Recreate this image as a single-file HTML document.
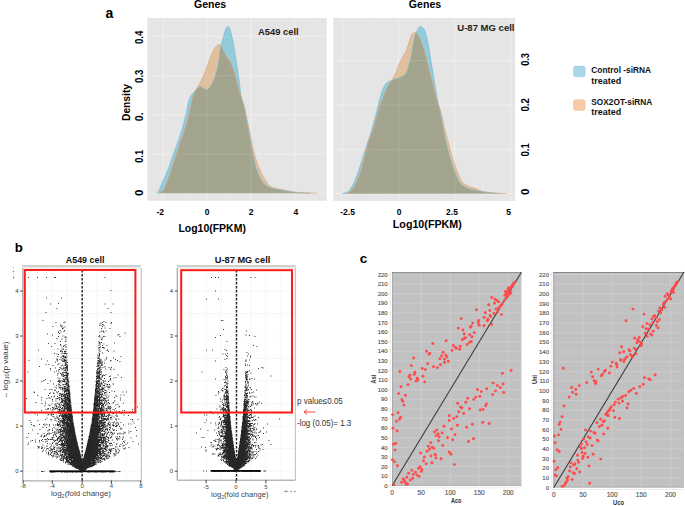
<!DOCTYPE html>
<html><head><meta charset="utf-8"><style>
html,body{margin:0;padding:0;background:#fff;overflow:hidden}
svg{display:block;font-family:"Liberation Sans",sans-serif}
</style></head><body><svg width="685" height="506" viewBox="0 0 685 506"><rect x="147.4" y="18" width="179.2" height="182.8" fill="#e5e5e5"/><line x1="185.1" y1="18" x2="185.1" y2="200.8" stroke="#eaeaea" stroke-width="0.6"/><line x1="228.9" y1="18" x2="228.9" y2="200.8" stroke="#eaeaea" stroke-width="0.6"/><line x1="272.7" y1="18" x2="272.7" y2="200.8" stroke="#eaeaea" stroke-width="0.6"/><line x1="316.5" y1="18" x2="316.5" y2="200.8" stroke="#eaeaea" stroke-width="0.6"/><line x1="147.4" y1="173.6" x2="326.6" y2="173.6" stroke="#eaeaea" stroke-width="0.6"/><line x1="147.4" y1="134.4" x2="326.6" y2="134.4" stroke="#eaeaea" stroke-width="0.6"/><line x1="147.4" y1="95.2" x2="326.6" y2="95.2" stroke="#eaeaea" stroke-width="0.6"/><line x1="147.4" y1="56" x2="326.6" y2="56" stroke="#eaeaea" stroke-width="0.6"/><line x1="163.2" y1="18" x2="163.2" y2="200.8" stroke="#efefef" stroke-width="1"/><line x1="207" y1="18" x2="207" y2="200.8" stroke="#efefef" stroke-width="1"/><line x1="250.8" y1="18" x2="250.8" y2="200.8" stroke="#efefef" stroke-width="1"/><line x1="294.6" y1="18" x2="294.6" y2="200.8" stroke="#efefef" stroke-width="1"/><line x1="147.4" y1="193.2" x2="326.6" y2="193.2" stroke="#efefef" stroke-width="1"/><line x1="147.4" y1="154" x2="326.6" y2="154" stroke="#efefef" stroke-width="1"/><line x1="147.4" y1="114.8" x2="326.6" y2="114.8" stroke="#efefef" stroke-width="1"/><line x1="147.4" y1="75.6" x2="326.6" y2="75.6" stroke="#efefef" stroke-width="1"/><line x1="147.4" y1="36.4" x2="326.6" y2="36.4" stroke="#efefef" stroke-width="1"/><clipPath id="ca"><path d="M158.9 193.2C159.3 193 160.6 192.7 161.5 191.8C162.4 190.9 163.6 189.6 164.6 187.8C165.6 186 166.3 184.2 167.5 181C168.7 177.8 170.3 172.8 171.7 168.6C173.1 164.3 174.6 159.8 176 155.5C177.4 151.2 178.9 146.4 180.1 142.9C181.3 139.4 182.1 137.5 183.2 134.3C184.3 131.1 185.5 127.1 186.6 123.5C187.7 119.9 188.6 116.2 189.5 112.6C190.4 109 191.1 104.8 191.8 101.7C192.6 98.6 193.2 96.3 194 94.1C194.8 91.9 195.7 90.5 196.7 88.7C197.7 86.9 199.1 85 200 83.3C200.9 81.6 201.5 80.6 202.4 78.5C203.3 76.4 204.6 73 205.5 70.6C206.4 68.2 207.1 66.5 207.9 64.3C208.7 62.1 209.4 59.5 210.3 57.2C211.2 55 212.4 52.6 213.4 50.8C214.4 48.9 215.6 47.1 216.6 46.1C217.6 45.1 218.8 44.2 219.7 44.5C220.6 44.8 221.3 46.2 222.1 47.7C222.9 49.2 223.7 51.6 224.5 53.2C225.3 54.8 225.9 55.9 226.8 57.2C227.7 58.5 229.1 59.4 230 61.1C230.9 62.8 231.5 64.8 232.4 67.4C233.3 70 234.6 73.7 235.5 76.9C236.4 80.1 236.9 82.9 237.9 86.4C238.9 89.9 240.4 94.5 241.5 98C242.6 101.5 243.4 103.4 244.5 107.5C245.6 111.6 246.7 117.5 247.8 122.7C248.9 127.9 249.9 133.2 251 138.5C252.1 143.8 253 149 254.5 154.3C256 159.6 258.1 165.7 260 170.1C261.9 174.5 264.1 178.3 265.8 181C267.5 183.7 268.5 184.8 270 186C271.5 187.2 273 187.6 275 188.2C277 188.8 279.7 189 282 189.5C284.3 190 286.3 190.7 289 191.2C291.7 191.7 293.2 192.2 298 192.5C302.8 192.8 314.7 193.1 318 193.2Z"/></clipPath><clipPath id="cau"><path d="M158.9 193.2C159.3 193 160.6 192.7 161.5 191.8C162.4 190.9 163.6 189.6 164.6 187.8C165.6 186 166.3 184.2 167.5 181C168.7 177.8 170.3 172.8 171.7 168.6C173.1 164.3 174.6 159.8 176 155.5C177.4 151.2 178.9 146.4 180.1 142.9C181.3 139.4 182.1 137.5 183.2 134.3C184.3 131.1 185.5 127.1 186.6 123.5C187.7 119.9 188.6 116.2 189.5 112.6C190.4 109 191.1 104.8 191.8 101.7C192.6 98.6 193.2 96.3 194 94.1C194.8 91.9 195.7 90.5 196.7 88.7C197.7 86.9 199.1 85 200 83.3C200.9 81.6 201.5 80.6 202.4 78.5C203.3 76.4 204.6 73 205.5 70.6C206.4 68.2 207.1 66.5 207.9 64.3C208.7 62.1 209.4 59.5 210.3 57.2C211.2 55 212.4 52.6 213.4 50.8C214.4 48.9 215.6 47.1 216.6 46.1C217.6 45.1 218.8 44.2 219.7 44.5C220.6 44.8 221.3 46.2 222.1 47.7C222.9 49.2 223.7 51.6 224.5 53.2C225.3 54.8 225.9 55.9 226.8 57.2C227.7 58.5 229.1 59.4 230 61.1C230.9 62.8 231.5 64.8 232.4 67.4C233.3 70 234.6 73.7 235.5 76.9C236.4 80.1 236.9 82.9 237.9 86.4C238.9 89.9 240.4 94.5 241.5 98C242.6 101.5 243.4 103.4 244.5 107.5C245.6 111.6 246.7 117.5 247.8 122.7C248.9 127.9 249.9 133.2 251 138.5C252.1 143.8 253 149 254.5 154.3C256 159.6 258.1 165.7 260 170.1C261.9 174.5 264.1 178.3 265.8 181C267.5 183.7 268.5 184.8 270 186C271.5 187.2 273 187.6 275 188.2C277 188.8 279.7 189 282 189.5C284.3 190 286.3 190.7 289 191.2C291.7 191.7 293.2 192.2 298 192.5C302.8 192.8 314.7 193.1 318 193.2Z"/><path d="M155.9 193.2C156.2 193 157.3 193.1 158 192.2C158.7 191.3 159.1 190 160.1 187.8C161.1 185.6 162.6 182.2 164 179C165.4 175.8 167 172.5 168.5 168.6C170 164.7 171.5 159.8 173 155.5C174.5 151.2 176.3 146.4 177.5 142.9C178.7 139.4 179.4 137.5 180.4 134.3C181.4 131.1 182.7 127.1 183.7 123.5C184.7 119.9 185.6 116.2 186.4 112.6C187.2 109 187.9 104.4 188.6 101.7C189.3 99 189.9 97.9 190.8 96.3C191.7 94.7 193.1 93.1 194 92C194.9 90.9 195.5 90.5 196.2 89.8C196.9 89.1 197.6 88 198.4 87.6C199.2 87.1 200.2 86.9 201.1 87.1C202 87.3 202.9 88.2 203.8 88.7C204.7 89.2 205.5 90 206.5 89.8C207.5 89.6 208.7 88.9 209.8 87.6C210.9 86.3 212.1 84.2 213 82.2C213.9 80.2 214.8 77.7 215.5 75.5C216.2 73.3 216.8 71.4 217.4 69C218 66.6 218.6 64 219 61.1C219.4 58.2 219.7 54.2 220.1 51.6C220.5 49 220.8 47.4 221.3 45.3C221.8 43.2 222.2 41.4 222.9 38.9C223.6 36.4 224.5 32.6 225.3 30.5C226.1 28.4 226.8 26.5 227.6 26.3C228.4 26.1 229.2 27.4 230 29.5C230.8 31.6 231.6 35.3 232.4 39C233.2 42.7 233.9 46.9 234.7 51.6C235.5 56.3 236.3 62.1 237.1 67.4C237.9 72.7 238.9 78.6 239.5 83.2C240.1 87.8 240.2 91 240.9 95C241.6 99 242.9 102.3 243.9 106.9C244.9 111.5 245.9 117.4 246.9 122.7C247.9 128 248.8 133.2 249.8 138.5C250.8 143.8 251.7 149 252.8 154.3C254 159.6 255 165.5 256.7 170.1C258.3 174.7 260.4 179 262.7 182C265 185 266.9 186.4 270.6 187.9C274.3 189.4 280.4 190 285 190.8C289.6 191.6 293.8 192.2 298 192.6C302.2 193 308 193.1 310 193.2Z"/></clipPath><path d="M155.9 193.2C156.2 193 157.3 193.1 158 192.2C158.7 191.3 159.1 190 160.1 187.8C161.1 185.6 162.6 182.2 164 179C165.4 175.8 167 172.5 168.5 168.6C170 164.7 171.5 159.8 173 155.5C174.5 151.2 176.3 146.4 177.5 142.9C178.7 139.4 179.4 137.5 180.4 134.3C181.4 131.1 182.7 127.1 183.7 123.5C184.7 119.9 185.6 116.2 186.4 112.6C187.2 109 187.9 104.4 188.6 101.7C189.3 99 189.9 97.9 190.8 96.3C191.7 94.7 193.1 93.1 194 92C194.9 90.9 195.5 90.5 196.2 89.8C196.9 89.1 197.6 88 198.4 87.6C199.2 87.1 200.2 86.9 201.1 87.1C202 87.3 202.9 88.2 203.8 88.7C204.7 89.2 205.5 90 206.5 89.8C207.5 89.6 208.7 88.9 209.8 87.6C210.9 86.3 212.1 84.2 213 82.2C213.9 80.2 214.8 77.7 215.5 75.5C216.2 73.3 216.8 71.4 217.4 69C218 66.6 218.6 64 219 61.1C219.4 58.2 219.7 54.2 220.1 51.6C220.5 49 220.8 47.4 221.3 45.3C221.8 43.2 222.2 41.4 222.9 38.9C223.6 36.4 224.5 32.6 225.3 30.5C226.1 28.4 226.8 26.5 227.6 26.3C228.4 26.1 229.2 27.4 230 29.5C230.8 31.6 231.6 35.3 232.4 39C233.2 42.7 233.9 46.9 234.7 51.6C235.5 56.3 236.3 62.1 237.1 67.4C237.9 72.7 238.9 78.6 239.5 83.2C240.1 87.8 240.2 91 240.9 95C241.6 99 242.9 102.3 243.9 106.9C244.9 111.5 245.9 117.4 246.9 122.7C247.9 128 248.8 133.2 249.8 138.5C250.8 143.8 251.7 149 252.8 154.3C254 159.6 255 165.5 256.7 170.1C258.3 174.7 260.4 179 262.7 182C265 185 266.9 186.4 270.6 187.9C274.3 189.4 280.4 190 285 190.8C289.6 191.6 293.8 192.2 298 192.6C302.2 193 308 193.1 310 193.2Z" fill="#92cbdc"/><path d="M158.9 193.2C159.3 193 160.6 192.7 161.5 191.8C162.4 190.9 163.6 189.6 164.6 187.8C165.6 186 166.3 184.2 167.5 181C168.7 177.8 170.3 172.8 171.7 168.6C173.1 164.3 174.6 159.8 176 155.5C177.4 151.2 178.9 146.4 180.1 142.9C181.3 139.4 182.1 137.5 183.2 134.3C184.3 131.1 185.5 127.1 186.6 123.5C187.7 119.9 188.6 116.2 189.5 112.6C190.4 109 191.1 104.8 191.8 101.7C192.6 98.6 193.2 96.3 194 94.1C194.8 91.9 195.7 90.5 196.7 88.7C197.7 86.9 199.1 85 200 83.3C200.9 81.6 201.5 80.6 202.4 78.5C203.3 76.4 204.6 73 205.5 70.6C206.4 68.2 207.1 66.5 207.9 64.3C208.7 62.1 209.4 59.5 210.3 57.2C211.2 55 212.4 52.6 213.4 50.8C214.4 48.9 215.6 47.1 216.6 46.1C217.6 45.1 218.8 44.2 219.7 44.5C220.6 44.8 221.3 46.2 222.1 47.7C222.9 49.2 223.7 51.6 224.5 53.2C225.3 54.8 225.9 55.9 226.8 57.2C227.7 58.5 229.1 59.4 230 61.1C230.9 62.8 231.5 64.8 232.4 67.4C233.3 70 234.6 73.7 235.5 76.9C236.4 80.1 236.9 82.9 237.9 86.4C238.9 89.9 240.4 94.5 241.5 98C242.6 101.5 243.4 103.4 244.5 107.5C245.6 111.6 246.7 117.5 247.8 122.7C248.9 127.9 249.9 133.2 251 138.5C252.1 143.8 253 149 254.5 154.3C256 159.6 258.1 165.7 260 170.1C261.9 174.5 264.1 178.3 265.8 181C267.5 183.7 268.5 184.8 270 186C271.5 187.2 273 187.6 275 188.2C277 188.8 279.7 189 282 189.5C284.3 190 286.3 190.7 289 191.2C291.7 191.7 293.2 192.2 298 192.5C302.8 192.8 314.7 193.1 318 193.2Z" fill="#dfbf9c"/><path d="M155.9 193.2C156.2 193 157.3 193.1 158 192.2C158.7 191.3 159.1 190 160.1 187.8C161.1 185.6 162.6 182.2 164 179C165.4 175.8 167 172.5 168.5 168.6C170 164.7 171.5 159.8 173 155.5C174.5 151.2 176.3 146.4 177.5 142.9C178.7 139.4 179.4 137.5 180.4 134.3C181.4 131.1 182.7 127.1 183.7 123.5C184.7 119.9 185.6 116.2 186.4 112.6C187.2 109 187.9 104.4 188.6 101.7C189.3 99 189.9 97.9 190.8 96.3C191.7 94.7 193.1 93.1 194 92C194.9 90.9 195.5 90.5 196.2 89.8C196.9 89.1 197.6 88 198.4 87.6C199.2 87.1 200.2 86.9 201.1 87.1C202 87.3 202.9 88.2 203.8 88.7C204.7 89.2 205.5 90 206.5 89.8C207.5 89.6 208.7 88.9 209.8 87.6C210.9 86.3 212.1 84.2 213 82.2C213.9 80.2 214.8 77.7 215.5 75.5C216.2 73.3 216.8 71.4 217.4 69C218 66.6 218.6 64 219 61.1C219.4 58.2 219.7 54.2 220.1 51.6C220.5 49 220.8 47.4 221.3 45.3C221.8 43.2 222.2 41.4 222.9 38.9C223.6 36.4 224.5 32.6 225.3 30.5C226.1 28.4 226.8 26.5 227.6 26.3C228.4 26.1 229.2 27.4 230 29.5C230.8 31.6 231.6 35.3 232.4 39C233.2 42.7 233.9 46.9 234.7 51.6C235.5 56.3 236.3 62.1 237.1 67.4C237.9 72.7 238.9 78.6 239.5 83.2C240.1 87.8 240.2 91 240.9 95C241.6 99 242.9 102.3 243.9 106.9C244.9 111.5 245.9 117.4 246.9 122.7C247.9 128 248.8 133.2 249.8 138.5C250.8 143.8 251.7 149 252.8 154.3C254 159.6 255 165.5 256.7 170.1C258.3 174.7 260.4 179 262.7 182C265 185 266.9 186.4 270.6 187.9C274.3 189.4 280.4 190 285 190.8C289.6 191.6 293.8 192.2 298 192.6C302.2 193 308 193.1 310 193.2Z" fill="#a3a48e" clip-path="url(#ca)"/><g clip-path="url(#cau)"><line x1="185.1" y1="18" x2="185.1" y2="200.8" stroke="#fff" stroke-opacity="0.07" stroke-width="0.6"/><line x1="228.9" y1="18" x2="228.9" y2="200.8" stroke="#fff" stroke-opacity="0.07" stroke-width="0.6"/><line x1="272.7" y1="18" x2="272.7" y2="200.8" stroke="#fff" stroke-opacity="0.07" stroke-width="0.6"/><line x1="316.5" y1="18" x2="316.5" y2="200.8" stroke="#fff" stroke-opacity="0.07" stroke-width="0.6"/><line x1="147.4" y1="173.6" x2="326.6" y2="173.6" stroke="#fff" stroke-opacity="0.07" stroke-width="0.6"/><line x1="147.4" y1="134.4" x2="326.6" y2="134.4" stroke="#fff" stroke-opacity="0.07" stroke-width="0.6"/><line x1="147.4" y1="95.2" x2="326.6" y2="95.2" stroke="#fff" stroke-opacity="0.07" stroke-width="0.6"/><line x1="147.4" y1="56" x2="326.6" y2="56" stroke="#fff" stroke-opacity="0.07" stroke-width="0.6"/><line x1="163.2" y1="18" x2="163.2" y2="200.8" stroke="#fff" stroke-opacity="0.12" stroke-width="1"/><line x1="207" y1="18" x2="207" y2="200.8" stroke="#fff" stroke-opacity="0.12" stroke-width="1"/><line x1="250.8" y1="18" x2="250.8" y2="200.8" stroke="#fff" stroke-opacity="0.12" stroke-width="1"/><line x1="294.6" y1="18" x2="294.6" y2="200.8" stroke="#fff" stroke-opacity="0.12" stroke-width="1"/><line x1="147.4" y1="193.2" x2="326.6" y2="193.2" stroke="#fff" stroke-opacity="0.12" stroke-width="1"/><line x1="147.4" y1="154" x2="326.6" y2="154" stroke="#fff" stroke-opacity="0.12" stroke-width="1"/><line x1="147.4" y1="114.8" x2="326.6" y2="114.8" stroke="#fff" stroke-opacity="0.12" stroke-width="1"/><line x1="147.4" y1="75.6" x2="326.6" y2="75.6" stroke="#fff" stroke-opacity="0.12" stroke-width="1"/><line x1="147.4" y1="36.4" x2="326.6" y2="36.4" stroke="#fff" stroke-opacity="0.12" stroke-width="1"/></g><path d="M155.9 193.2C156.2 193 157.3 193.1 158 192.2C158.7 191.3 159.1 190 160.1 187.8C161.1 185.6 162.6 182.2 164 179C165.4 175.8 167 172.5 168.5 168.6C170 164.7 171.5 159.8 173 155.5C174.5 151.2 176.3 146.4 177.5 142.9C178.7 139.4 179.4 137.5 180.4 134.3C181.4 131.1 182.7 127.1 183.7 123.5C184.7 119.9 185.6 116.2 186.4 112.6C187.2 109 187.9 104.4 188.6 101.7C189.3 99 189.9 97.9 190.8 96.3C191.7 94.7 193.1 93.1 194 92C194.9 90.9 195.5 90.5 196.2 89.8C196.9 89.1 197.6 88 198.4 87.6C199.2 87.1 200.2 86.9 201.1 87.1C202 87.3 202.9 88.2 203.8 88.7C204.7 89.2 205.5 90 206.5 89.8C207.5 89.6 208.7 88.9 209.8 87.6C210.9 86.3 212.1 84.2 213 82.2C213.9 80.2 214.8 77.7 215.5 75.5C216.2 73.3 216.8 71.4 217.4 69C218 66.6 218.6 64 219 61.1C219.4 58.2 219.7 54.2 220.1 51.6C220.5 49 220.8 47.4 221.3 45.3C221.8 43.2 222.2 41.4 222.9 38.9C223.6 36.4 224.5 32.6 225.3 30.5C226.1 28.4 226.8 26.5 227.6 26.3C228.4 26.1 229.2 27.4 230 29.5C230.8 31.6 231.6 35.3 232.4 39C233.2 42.7 233.9 46.9 234.7 51.6C235.5 56.3 236.3 62.1 237.1 67.4C237.9 72.7 238.9 78.6 239.5 83.2C240.1 87.8 240.2 91 240.9 95C241.6 99 242.9 102.3 243.9 106.9C244.9 111.5 245.9 117.4 246.9 122.7C247.9 128 248.8 133.2 249.8 138.5C250.8 143.8 251.7 149 252.8 154.3C254 159.6 255 165.5 256.7 170.1C258.3 174.7 260.4 179 262.7 182C265 185 266.9 186.4 270.6 187.9C274.3 189.4 280.4 190 285 190.8C289.6 191.6 293.8 192.2 298 192.6C302.2 193 308 193.1 310 193.2" fill="none" stroke="#6cb6cf" stroke-width="0.8" stroke-opacity="0.8"/><path d="M158.9 193.2C159.3 193 160.6 192.7 161.5 191.8C162.4 190.9 163.6 189.6 164.6 187.8C165.6 186 166.3 184.2 167.5 181C168.7 177.8 170.3 172.8 171.7 168.6C173.1 164.3 174.6 159.8 176 155.5C177.4 151.2 178.9 146.4 180.1 142.9C181.3 139.4 182.1 137.5 183.2 134.3C184.3 131.1 185.5 127.1 186.6 123.5C187.7 119.9 188.6 116.2 189.5 112.6C190.4 109 191.1 104.8 191.8 101.7C192.6 98.6 193.2 96.3 194 94.1C194.8 91.9 195.7 90.5 196.7 88.7C197.7 86.9 199.1 85 200 83.3C200.9 81.6 201.5 80.6 202.4 78.5C203.3 76.4 204.6 73 205.5 70.6C206.4 68.2 207.1 66.5 207.9 64.3C208.7 62.1 209.4 59.5 210.3 57.2C211.2 55 212.4 52.6 213.4 50.8C214.4 48.9 215.6 47.1 216.6 46.1C217.6 45.1 218.8 44.2 219.7 44.5C220.6 44.8 221.3 46.2 222.1 47.7C222.9 49.2 223.7 51.6 224.5 53.2C225.3 54.8 225.9 55.9 226.8 57.2C227.7 58.5 229.1 59.4 230 61.1C230.9 62.8 231.5 64.8 232.4 67.4C233.3 70 234.6 73.7 235.5 76.9C236.4 80.1 236.9 82.9 237.9 86.4C238.9 89.9 240.4 94.5 241.5 98C242.6 101.5 243.4 103.4 244.5 107.5C245.6 111.6 246.7 117.5 247.8 122.7C248.9 127.9 249.9 133.2 251 138.5C252.1 143.8 253 149 254.5 154.3C256 159.6 258.1 165.7 260 170.1C261.9 174.5 264.1 178.3 265.8 181C267.5 183.7 268.5 184.8 270 186C271.5 187.2 273 187.6 275 188.2C277 188.8 279.7 189 282 189.5C284.3 190 286.3 190.7 289 191.2C291.7 191.7 293.2 192.2 298 192.5C302.8 192.8 314.7 193.1 318 193.2" fill="none" stroke="#d9a27a" stroke-width="0.8" stroke-opacity="0.8"/><rect x="333.3" y="18" width="181.9" height="183" fill="#e5e5e5"/><line x1="370.5" y1="18" x2="370.5" y2="201" stroke="#eaeaea" stroke-width="0.6"/><line x1="426.5" y1="18" x2="426.5" y2="201" stroke="#eaeaea" stroke-width="0.6"/><line x1="482.5" y1="18" x2="482.5" y2="201" stroke="#eaeaea" stroke-width="0.6"/><line x1="333.3" y1="171.6" x2="515.2" y2="171.6" stroke="#eaeaea" stroke-width="0.6"/><line x1="333.3" y1="127.2" x2="515.2" y2="127.2" stroke="#eaeaea" stroke-width="0.6"/><line x1="333.3" y1="82.8" x2="515.2" y2="82.8" stroke="#eaeaea" stroke-width="0.6"/><line x1="333.3" y1="38.4" x2="515.2" y2="38.4" stroke="#eaeaea" stroke-width="0.6"/><line x1="342.5" y1="18" x2="342.5" y2="201" stroke="#efefef" stroke-width="1"/><line x1="398.5" y1="18" x2="398.5" y2="201" stroke="#efefef" stroke-width="1"/><line x1="454.5" y1="18" x2="454.5" y2="201" stroke="#efefef" stroke-width="1"/><line x1="510.5" y1="18" x2="510.5" y2="201" stroke="#efefef" stroke-width="1"/><line x1="333.3" y1="193.8" x2="515.2" y2="193.8" stroke="#efefef" stroke-width="1"/><line x1="333.3" y1="149.4" x2="515.2" y2="149.4" stroke="#efefef" stroke-width="1"/><line x1="333.3" y1="105" x2="515.2" y2="105" stroke="#efefef" stroke-width="1"/><line x1="333.3" y1="60.6" x2="515.2" y2="60.6" stroke="#efefef" stroke-width="1"/><clipPath id="cb"><path d="M345.2 193.8C345.8 193.6 347.7 193.2 349 192.4C350.3 191.6 351.4 191.1 352.8 189.1C354.2 187.1 355.6 184.4 357.2 180.4C358.8 176.4 360.8 171.3 362.6 165.2C364.4 159 366.2 149.7 368 143.5C369.8 137.3 371.9 133.4 373.5 128.3C375.1 123.2 376.6 117 377.8 113C379 109 379.8 106.2 380.5 104C381.2 101.8 381.2 102.1 382.1 100C383 97.9 384.5 93.9 385.7 91.2C386.9 88.5 388 86.1 389.2 84C390.4 81.9 391.6 80.8 392.8 78.7C394 76.6 395.3 74 396.3 71.6C397.3 69.2 398 66.9 399 64.5C400 62.1 401.3 59.6 402.5 57.4C403.7 55.2 405.1 53.5 406.1 51.1C407.2 48.7 407.9 45.8 408.8 43.1C409.7 40.4 410.5 36.8 411.4 35.1C412.3 33.4 413.4 32.9 414.4 32.8C415.4 32.6 416.6 33.1 417.6 34.2C418.6 35.3 419.4 37.5 420.3 39.6C421.2 41.7 422.1 44 423 46.7C423.9 49.4 424.7 52.4 425.6 55.6C426.5 58.9 427.4 62.7 428.3 66.2C429.2 69.8 430.1 73.3 431 76.9C431.9 80.5 432.7 83.9 433.6 87.6C434.5 91.3 435.3 95 436.5 99C437.7 103 439.6 107.1 440.9 111.9C442.2 116.7 443.2 122.8 444.4 127.7C445.6 132.6 446.9 136.6 448.2 141.5C449.5 146.4 450.9 152.8 452.3 157.4C453.7 162 454.7 165.2 456.3 169.2C457.9 173.1 459.8 178.3 461.7 181.1C463.6 183.9 465.1 184.5 467.6 185.8C470.1 187.1 474.2 187.9 476.5 188.8C478.8 189.7 479.3 190.4 481.4 191C483.5 191.6 485 192.2 489.3 192.6C493.6 193 504.1 193.4 507.1 193.6Z"/></clipPath><clipPath id="cbu"><path d="M345.2 193.8C345.8 193.6 347.7 193.2 349 192.4C350.3 191.6 351.4 191.1 352.8 189.1C354.2 187.1 355.6 184.4 357.2 180.4C358.8 176.4 360.8 171.3 362.6 165.2C364.4 159 366.2 149.7 368 143.5C369.8 137.3 371.9 133.4 373.5 128.3C375.1 123.2 376.6 117 377.8 113C379 109 379.8 106.2 380.5 104C381.2 101.8 381.2 102.1 382.1 100C383 97.9 384.5 93.9 385.7 91.2C386.9 88.5 388 86.1 389.2 84C390.4 81.9 391.6 80.8 392.8 78.7C394 76.6 395.3 74 396.3 71.6C397.3 69.2 398 66.9 399 64.5C400 62.1 401.3 59.6 402.5 57.4C403.7 55.2 405.1 53.5 406.1 51.1C407.2 48.7 407.9 45.8 408.8 43.1C409.7 40.4 410.5 36.8 411.4 35.1C412.3 33.4 413.4 32.9 414.4 32.8C415.4 32.6 416.6 33.1 417.6 34.2C418.6 35.3 419.4 37.5 420.3 39.6C421.2 41.7 422.1 44 423 46.7C423.9 49.4 424.7 52.4 425.6 55.6C426.5 58.9 427.4 62.7 428.3 66.2C429.2 69.8 430.1 73.3 431 76.9C431.9 80.5 432.7 83.9 433.6 87.6C434.5 91.3 435.3 95 436.5 99C437.7 103 439.6 107.1 440.9 111.9C442.2 116.7 443.2 122.8 444.4 127.7C445.6 132.6 446.9 136.6 448.2 141.5C449.5 146.4 450.9 152.8 452.3 157.4C453.7 162 454.7 165.2 456.3 169.2C457.9 173.1 459.8 178.3 461.7 181.1C463.6 183.9 465.1 184.5 467.6 185.8C470.1 187.1 474.2 187.9 476.5 188.8C478.8 189.7 479.3 190.4 481.4 191C483.5 191.6 485 192.2 489.3 192.6C493.6 193 504.1 193.4 507.1 193.6Z"/><path d="M342 193.8C342.7 193.6 344.7 193.1 346 192.5C347.3 191.9 348.1 192.2 349.6 190.2C351.1 188.2 353.2 184.6 355 180.4C356.8 176.2 358.6 170.6 360.4 165.2C362.2 159.8 364.3 152.9 365.9 147.8C367.5 142.7 368.8 139.5 370.2 134.8C371.6 130.1 373.4 124.1 374.6 119.6C375.8 115.1 376.7 111.3 377.5 108C378.3 104.7 378.7 102.8 379.5 100C380.3 97.2 381.1 93.9 382.1 91.2C383.1 88.5 384.5 85.6 385.7 84C386.9 82.4 388.2 82 389.2 81.4C390.2 80.8 390.7 81 391.9 80.5C393.1 80 394.7 79.3 396.3 78.7C397.9 78.1 400 77.8 401.6 76.9C403.2 76 404.9 75.2 406.1 73.4C407.3 71.6 407.9 69.2 408.8 66.2C409.7 63.2 410.7 59.2 411.4 55.6C412.1 52 412.5 48.5 413.2 44.9C413.9 41.3 414.9 36.5 415.5 34.2C416.1 31.9 416.4 32.2 416.9 31.2C417.4 30.2 417.9 28.7 418.5 28C419.1 27.3 419.9 26.7 420.8 26.8C421.7 26.9 422.9 27.4 423.9 28.9C424.8 30.4 425.8 33.3 426.5 36C427.2 38.7 427.7 41.6 428.3 44.9C428.9 48.2 429.5 52 430.1 55.6C430.7 59.2 431.2 62.7 431.8 66.2C432.4 69.8 433 73.3 433.6 76.9C434.2 80.5 434.8 83.9 435.4 87.6C436 91.3 436.6 95 437.3 99C438.1 103 439 107.1 439.9 111.9C440.8 116.7 441.9 122.8 442.9 127.7C443.9 132.6 444.6 136.6 445.8 141.5C447 146.4 448.5 152.8 449.8 157.4C451.1 162 452.2 165.2 453.7 169.2C455.2 173.1 456.9 178.1 458.7 181.1C460.5 184.1 462.1 185.5 464.6 187C467.1 188.5 470.4 189.2 473.5 190C476.6 190.8 479.8 191.4 483.4 192C487 192.6 492.5 193 495.3 193.3C498.1 193.6 499.2 193.7 500 193.8Z"/></clipPath><path d="M342 193.8C342.7 193.6 344.7 193.1 346 192.5C347.3 191.9 348.1 192.2 349.6 190.2C351.1 188.2 353.2 184.6 355 180.4C356.8 176.2 358.6 170.6 360.4 165.2C362.2 159.8 364.3 152.9 365.9 147.8C367.5 142.7 368.8 139.5 370.2 134.8C371.6 130.1 373.4 124.1 374.6 119.6C375.8 115.1 376.7 111.3 377.5 108C378.3 104.7 378.7 102.8 379.5 100C380.3 97.2 381.1 93.9 382.1 91.2C383.1 88.5 384.5 85.6 385.7 84C386.9 82.4 388.2 82 389.2 81.4C390.2 80.8 390.7 81 391.9 80.5C393.1 80 394.7 79.3 396.3 78.7C397.9 78.1 400 77.8 401.6 76.9C403.2 76 404.9 75.2 406.1 73.4C407.3 71.6 407.9 69.2 408.8 66.2C409.7 63.2 410.7 59.2 411.4 55.6C412.1 52 412.5 48.5 413.2 44.9C413.9 41.3 414.9 36.5 415.5 34.2C416.1 31.9 416.4 32.2 416.9 31.2C417.4 30.2 417.9 28.7 418.5 28C419.1 27.3 419.9 26.7 420.8 26.8C421.7 26.9 422.9 27.4 423.9 28.9C424.8 30.4 425.8 33.3 426.5 36C427.2 38.7 427.7 41.6 428.3 44.9C428.9 48.2 429.5 52 430.1 55.6C430.7 59.2 431.2 62.7 431.8 66.2C432.4 69.8 433 73.3 433.6 76.9C434.2 80.5 434.8 83.9 435.4 87.6C436 91.3 436.6 95 437.3 99C438.1 103 439 107.1 439.9 111.9C440.8 116.7 441.9 122.8 442.9 127.7C443.9 132.6 444.6 136.6 445.8 141.5C447 146.4 448.5 152.8 449.8 157.4C451.1 162 452.2 165.2 453.7 169.2C455.2 173.1 456.9 178.1 458.7 181.1C460.5 184.1 462.1 185.5 464.6 187C467.1 188.5 470.4 189.2 473.5 190C476.6 190.8 479.8 191.4 483.4 192C487 192.6 492.5 193 495.3 193.3C498.1 193.6 499.2 193.7 500 193.8Z" fill="#92cbdc"/><path d="M345.2 193.8C345.8 193.6 347.7 193.2 349 192.4C350.3 191.6 351.4 191.1 352.8 189.1C354.2 187.1 355.6 184.4 357.2 180.4C358.8 176.4 360.8 171.3 362.6 165.2C364.4 159 366.2 149.7 368 143.5C369.8 137.3 371.9 133.4 373.5 128.3C375.1 123.2 376.6 117 377.8 113C379 109 379.8 106.2 380.5 104C381.2 101.8 381.2 102.1 382.1 100C383 97.9 384.5 93.9 385.7 91.2C386.9 88.5 388 86.1 389.2 84C390.4 81.9 391.6 80.8 392.8 78.7C394 76.6 395.3 74 396.3 71.6C397.3 69.2 398 66.9 399 64.5C400 62.1 401.3 59.6 402.5 57.4C403.7 55.2 405.1 53.5 406.1 51.1C407.2 48.7 407.9 45.8 408.8 43.1C409.7 40.4 410.5 36.8 411.4 35.1C412.3 33.4 413.4 32.9 414.4 32.8C415.4 32.6 416.6 33.1 417.6 34.2C418.6 35.3 419.4 37.5 420.3 39.6C421.2 41.7 422.1 44 423 46.7C423.9 49.4 424.7 52.4 425.6 55.6C426.5 58.9 427.4 62.7 428.3 66.2C429.2 69.8 430.1 73.3 431 76.9C431.9 80.5 432.7 83.9 433.6 87.6C434.5 91.3 435.3 95 436.5 99C437.7 103 439.6 107.1 440.9 111.9C442.2 116.7 443.2 122.8 444.4 127.7C445.6 132.6 446.9 136.6 448.2 141.5C449.5 146.4 450.9 152.8 452.3 157.4C453.7 162 454.7 165.2 456.3 169.2C457.9 173.1 459.8 178.3 461.7 181.1C463.6 183.9 465.1 184.5 467.6 185.8C470.1 187.1 474.2 187.9 476.5 188.8C478.8 189.7 479.3 190.4 481.4 191C483.5 191.6 485 192.2 489.3 192.6C493.6 193 504.1 193.4 507.1 193.6Z" fill="#dfbf9c"/><path d="M342 193.8C342.7 193.6 344.7 193.1 346 192.5C347.3 191.9 348.1 192.2 349.6 190.2C351.1 188.2 353.2 184.6 355 180.4C356.8 176.2 358.6 170.6 360.4 165.2C362.2 159.8 364.3 152.9 365.9 147.8C367.5 142.7 368.8 139.5 370.2 134.8C371.6 130.1 373.4 124.1 374.6 119.6C375.8 115.1 376.7 111.3 377.5 108C378.3 104.7 378.7 102.8 379.5 100C380.3 97.2 381.1 93.9 382.1 91.2C383.1 88.5 384.5 85.6 385.7 84C386.9 82.4 388.2 82 389.2 81.4C390.2 80.8 390.7 81 391.9 80.5C393.1 80 394.7 79.3 396.3 78.7C397.9 78.1 400 77.8 401.6 76.9C403.2 76 404.9 75.2 406.1 73.4C407.3 71.6 407.9 69.2 408.8 66.2C409.7 63.2 410.7 59.2 411.4 55.6C412.1 52 412.5 48.5 413.2 44.9C413.9 41.3 414.9 36.5 415.5 34.2C416.1 31.9 416.4 32.2 416.9 31.2C417.4 30.2 417.9 28.7 418.5 28C419.1 27.3 419.9 26.7 420.8 26.8C421.7 26.9 422.9 27.4 423.9 28.9C424.8 30.4 425.8 33.3 426.5 36C427.2 38.7 427.7 41.6 428.3 44.9C428.9 48.2 429.5 52 430.1 55.6C430.7 59.2 431.2 62.7 431.8 66.2C432.4 69.8 433 73.3 433.6 76.9C434.2 80.5 434.8 83.9 435.4 87.6C436 91.3 436.6 95 437.3 99C438.1 103 439 107.1 439.9 111.9C440.8 116.7 441.9 122.8 442.9 127.7C443.9 132.6 444.6 136.6 445.8 141.5C447 146.4 448.5 152.8 449.8 157.4C451.1 162 452.2 165.2 453.7 169.2C455.2 173.1 456.9 178.1 458.7 181.1C460.5 184.1 462.1 185.5 464.6 187C467.1 188.5 470.4 189.2 473.5 190C476.6 190.8 479.8 191.4 483.4 192C487 192.6 492.5 193 495.3 193.3C498.1 193.6 499.2 193.7 500 193.8Z" fill="#a3a48e" clip-path="url(#cb)"/><g clip-path="url(#cbu)"><line x1="370.5" y1="18" x2="370.5" y2="201" stroke="#fff" stroke-opacity="0.07" stroke-width="0.6"/><line x1="426.5" y1="18" x2="426.5" y2="201" stroke="#fff" stroke-opacity="0.07" stroke-width="0.6"/><line x1="482.5" y1="18" x2="482.5" y2="201" stroke="#fff" stroke-opacity="0.07" stroke-width="0.6"/><line x1="333.3" y1="171.6" x2="515.2" y2="171.6" stroke="#fff" stroke-opacity="0.07" stroke-width="0.6"/><line x1="333.3" y1="127.2" x2="515.2" y2="127.2" stroke="#fff" stroke-opacity="0.07" stroke-width="0.6"/><line x1="333.3" y1="82.8" x2="515.2" y2="82.8" stroke="#fff" stroke-opacity="0.07" stroke-width="0.6"/><line x1="333.3" y1="38.4" x2="515.2" y2="38.4" stroke="#fff" stroke-opacity="0.07" stroke-width="0.6"/><line x1="342.5" y1="18" x2="342.5" y2="201" stroke="#fff" stroke-opacity="0.12" stroke-width="1"/><line x1="398.5" y1="18" x2="398.5" y2="201" stroke="#fff" stroke-opacity="0.12" stroke-width="1"/><line x1="454.5" y1="18" x2="454.5" y2="201" stroke="#fff" stroke-opacity="0.12" stroke-width="1"/><line x1="510.5" y1="18" x2="510.5" y2="201" stroke="#fff" stroke-opacity="0.12" stroke-width="1"/><line x1="333.3" y1="193.8" x2="515.2" y2="193.8" stroke="#fff" stroke-opacity="0.12" stroke-width="1"/><line x1="333.3" y1="149.4" x2="515.2" y2="149.4" stroke="#fff" stroke-opacity="0.12" stroke-width="1"/><line x1="333.3" y1="105" x2="515.2" y2="105" stroke="#fff" stroke-opacity="0.12" stroke-width="1"/><line x1="333.3" y1="60.6" x2="515.2" y2="60.6" stroke="#fff" stroke-opacity="0.12" stroke-width="1"/></g><path d="M342 193.8C342.7 193.6 344.7 193.1 346 192.5C347.3 191.9 348.1 192.2 349.6 190.2C351.1 188.2 353.2 184.6 355 180.4C356.8 176.2 358.6 170.6 360.4 165.2C362.2 159.8 364.3 152.9 365.9 147.8C367.5 142.7 368.8 139.5 370.2 134.8C371.6 130.1 373.4 124.1 374.6 119.6C375.8 115.1 376.7 111.3 377.5 108C378.3 104.7 378.7 102.8 379.5 100C380.3 97.2 381.1 93.9 382.1 91.2C383.1 88.5 384.5 85.6 385.7 84C386.9 82.4 388.2 82 389.2 81.4C390.2 80.8 390.7 81 391.9 80.5C393.1 80 394.7 79.3 396.3 78.7C397.9 78.1 400 77.8 401.6 76.9C403.2 76 404.9 75.2 406.1 73.4C407.3 71.6 407.9 69.2 408.8 66.2C409.7 63.2 410.7 59.2 411.4 55.6C412.1 52 412.5 48.5 413.2 44.9C413.9 41.3 414.9 36.5 415.5 34.2C416.1 31.9 416.4 32.2 416.9 31.2C417.4 30.2 417.9 28.7 418.5 28C419.1 27.3 419.9 26.7 420.8 26.8C421.7 26.9 422.9 27.4 423.9 28.9C424.8 30.4 425.8 33.3 426.5 36C427.2 38.7 427.7 41.6 428.3 44.9C428.9 48.2 429.5 52 430.1 55.6C430.7 59.2 431.2 62.7 431.8 66.2C432.4 69.8 433 73.3 433.6 76.9C434.2 80.5 434.8 83.9 435.4 87.6C436 91.3 436.6 95 437.3 99C438.1 103 439 107.1 439.9 111.9C440.8 116.7 441.9 122.8 442.9 127.7C443.9 132.6 444.6 136.6 445.8 141.5C447 146.4 448.5 152.8 449.8 157.4C451.1 162 452.2 165.2 453.7 169.2C455.2 173.1 456.9 178.1 458.7 181.1C460.5 184.1 462.1 185.5 464.6 187C467.1 188.5 470.4 189.2 473.5 190C476.6 190.8 479.8 191.4 483.4 192C487 192.6 492.5 193 495.3 193.3C498.1 193.6 499.2 193.7 500 193.8" fill="none" stroke="#6cb6cf" stroke-width="0.8" stroke-opacity="0.8"/><path d="M345.2 193.8C345.8 193.6 347.7 193.2 349 192.4C350.3 191.6 351.4 191.1 352.8 189.1C354.2 187.1 355.6 184.4 357.2 180.4C358.8 176.4 360.8 171.3 362.6 165.2C364.4 159 366.2 149.7 368 143.5C369.8 137.3 371.9 133.4 373.5 128.3C375.1 123.2 376.6 117 377.8 113C379 109 379.8 106.2 380.5 104C381.2 101.8 381.2 102.1 382.1 100C383 97.9 384.5 93.9 385.7 91.2C386.9 88.5 388 86.1 389.2 84C390.4 81.9 391.6 80.8 392.8 78.7C394 76.6 395.3 74 396.3 71.6C397.3 69.2 398 66.9 399 64.5C400 62.1 401.3 59.6 402.5 57.4C403.7 55.2 405.1 53.5 406.1 51.1C407.2 48.7 407.9 45.8 408.8 43.1C409.7 40.4 410.5 36.8 411.4 35.1C412.3 33.4 413.4 32.9 414.4 32.8C415.4 32.6 416.6 33.1 417.6 34.2C418.6 35.3 419.4 37.5 420.3 39.6C421.2 41.7 422.1 44 423 46.7C423.9 49.4 424.7 52.4 425.6 55.6C426.5 58.9 427.4 62.7 428.3 66.2C429.2 69.8 430.1 73.3 431 76.9C431.9 80.5 432.7 83.9 433.6 87.6C434.5 91.3 435.3 95 436.5 99C437.7 103 439.6 107.1 440.9 111.9C442.2 116.7 443.2 122.8 444.4 127.7C445.6 132.6 446.9 136.6 448.2 141.5C449.5 146.4 450.9 152.8 452.3 157.4C453.7 162 454.7 165.2 456.3 169.2C457.9 173.1 459.8 178.3 461.7 181.1C463.6 183.9 465.1 184.5 467.6 185.8C470.1 187.1 474.2 187.9 476.5 188.8C478.8 189.7 479.3 190.4 481.4 191C483.5 191.6 485 192.2 489.3 192.6C493.6 193 504.1 193.4 507.1 193.6" fill="none" stroke="#d9a27a" stroke-width="0.8" stroke-opacity="0.8"/><g font-family='"Liberation Sans", sans-serif'><text x="105.5" y="17.7" font-size="14" fill="#000" font-weight="bold">a</text><text x="194" y="8" font-size="10" fill="#000" textLength="32.2" lengthAdjust="spacingAndGlyphs" font-weight="bold">Genes</text><text x="408.8" y="8" font-size="10" fill="#000" textLength="32.4" lengthAdjust="spacingAndGlyphs" font-weight="bold">Genes</text><text x="258.1" y="35.3" font-size="9.2" fill="#222" textLength="40.5" lengthAdjust="spacingAndGlyphs" font-weight="bold">A549 cell</text><text x="457.3" y="30.7" font-size="9" fill="#222" textLength="57.2" lengthAdjust="spacingAndGlyphs" font-weight="bold">U-87 MG cell</text><text x="143.4" y="37.4" font-size="10" fill="#000" textLength="13.4" lengthAdjust="spacingAndGlyphs" transform="rotate(-90 143.4 37.4)" text-anchor="middle" font-weight="bold">0.4</text><text x="143.4" y="76.2" font-size="10" fill="#000" textLength="13.4" lengthAdjust="spacingAndGlyphs" transform="rotate(-90 143.4 76.2)" text-anchor="middle" font-weight="bold">0.3</text><text x="143.4" y="116.8" font-size="10" fill="#000" textLength="8.8" lengthAdjust="spacingAndGlyphs" transform="rotate(-90 143.4 116.8)" text-anchor="middle" font-weight="bold">0.</text><text x="143.4" y="156.4" font-size="10" fill="#000" textLength="12.8" lengthAdjust="spacingAndGlyphs" transform="rotate(-90 143.4 156.4)" text-anchor="middle" font-weight="bold">0.1</text><text x="143.4" y="192.9" font-size="10" fill="#000" textLength="6.4" lengthAdjust="spacingAndGlyphs" transform="rotate(-90 143.4 192.9)" text-anchor="middle" font-weight="bold">0</text><text x="130" y="102.5" font-size="10" fill="#000" textLength="37" lengthAdjust="spacingAndGlyphs" transform="rotate(-90 130 102.5)" text-anchor="middle" font-weight="bold">Density</text><text x="160.2" y="214.8" font-size="8.5" fill="#000" text-anchor="middle" font-weight="bold">-2</text><text x="207.1" y="214.8" font-size="8.5" fill="#000" text-anchor="middle" font-weight="bold">0</text><text x="251" y="214.8" font-size="8.5" fill="#000" text-anchor="middle" font-weight="bold">2</text><text x="295.8" y="214.8" font-size="8.5" fill="#000" text-anchor="middle" font-weight="bold">4</text><text x="178.4" y="232.3" font-size="10.5" fill="#000" textLength="67.5" lengthAdjust="spacingAndGlyphs" font-weight="bold">Log10(FPKM)</text><text x="528.6" y="59.4" font-size="10" fill="#000" textLength="12.8" lengthAdjust="spacingAndGlyphs" transform="rotate(-90 528.6 59.4)" text-anchor="middle" font-weight="bold">0.3</text><text x="528.6" y="104.8" font-size="10" fill="#000" textLength="13.4" lengthAdjust="spacingAndGlyphs" transform="rotate(-90 528.6 104.8)" text-anchor="middle" font-weight="bold">0.2</text><text x="528.6" y="149.9" font-size="10" fill="#000" textLength="13.4" lengthAdjust="spacingAndGlyphs" transform="rotate(-90 528.6 149.9)" text-anchor="middle" font-weight="bold">0.1</text><text x="528.6" y="191.8" font-size="10" fill="#000" textLength="6.4" lengthAdjust="spacingAndGlyphs" transform="rotate(-90 528.6 191.8)" text-anchor="middle" font-weight="bold">0</text><text x="347.6" y="214.8" font-size="8.5" fill="#000" text-anchor="middle" font-weight="bold">-2.5</text><text x="399" y="214.8" font-size="8.5" fill="#000" text-anchor="middle" font-weight="bold">0</text><text x="452" y="214.8" font-size="8.5" fill="#000" text-anchor="middle" font-weight="bold">2.5</text><text x="508.6" y="214.8" font-size="8.5" fill="#000" text-anchor="middle" font-weight="bold">5</text><text x="392.8" y="227.5" font-size="10.5" fill="#000" textLength="69" lengthAdjust="spacingAndGlyphs" font-weight="bold">Log10(FPKM)</text><rect x="573.5" y="66.1" width="11.6" height="10.7" rx="2" fill="#a9d6e6" stroke="#9ccfe2" stroke-width="0.5"/><rect x="573.5" y="99.7" width="11.6" height="10.7" rx="2" fill="#f8c9a8" stroke="#f3bc98" stroke-width="0.5"/><text x="591.3" y="73.3" font-size="8.5" fill="#111" textLength="59.8" lengthAdjust="spacingAndGlyphs" font-weight="bold">Control -siRNA</text><text x="591.3" y="83.5" font-size="8.5" fill="#111" textLength="29.9" lengthAdjust="spacingAndGlyphs" font-weight="bold">treated</text><text x="591.3" y="105.1" font-size="8.5" fill="#111" textLength="60.9" lengthAdjust="spacingAndGlyphs" font-weight="bold">SOX2OT-siRNA</text><text x="591.3" y="115.3" font-size="8.5" fill="#111" textLength="29.9" lengthAdjust="spacingAndGlyphs" font-weight="bold">treated</text></g><rect x="22.2" y="265" width="118.6" height="2" fill="#cfcfcf"/><line x1="22.2" y1="268" x2="140.8" y2="268" stroke="#d8d8d8" stroke-width="1"/><line x1="22.8" y1="471.2" x2="141.3" y2="471.2" stroke="#f5f5ec" stroke-width="0.8"/><line x1="22.8" y1="426.1" x2="141.3" y2="426.1" stroke="#f5f5ec" stroke-width="0.8"/><line x1="22.8" y1="381" x2="141.3" y2="381" stroke="#f5f5ec" stroke-width="0.8"/><line x1="22.8" y1="336" x2="141.3" y2="336" stroke="#f5f5ec" stroke-width="0.8"/><line x1="22.8" y1="291" x2="141.3" y2="291" stroke="#f5f5ec" stroke-width="0.8"/><line x1="22.8" y1="448.6" x2="141.3" y2="448.6" stroke="#f5f5ec" stroke-width="0.8"/><line x1="22.8" y1="403.5" x2="141.3" y2="403.5" stroke="#f5f5ec" stroke-width="0.8"/><line x1="22.8" y1="358.5" x2="141.3" y2="358.5" stroke="#f5f5ec" stroke-width="0.8"/><line x1="22.8" y1="313.5" x2="141.3" y2="313.5" stroke="#f5f5ec" stroke-width="0.8"/><line x1="23.2" y1="268" x2="23.2" y2="480.9" stroke="#f5f5ec" stroke-width="0.8"/><line x1="52.3" y1="268" x2="52.3" y2="480.9" stroke="#f5f5ec" stroke-width="0.8"/><line x1="82.2" y1="268" x2="82.2" y2="480.9" stroke="#f5f5ec" stroke-width="0.8"/><line x1="111.4" y1="268" x2="111.4" y2="480.9" stroke="#f5f5ec" stroke-width="0.8"/><line x1="140.8" y1="268" x2="140.8" y2="480.9" stroke="#f5f5ec" stroke-width="0.8"/><line x1="37.7" y1="268" x2="37.7" y2="480.9" stroke="#f5f5ec" stroke-width="0.8"/><line x1="67.2" y1="268" x2="67.2" y2="480.9" stroke="#f5f5ec" stroke-width="0.8"/><line x1="96.8" y1="268" x2="96.8" y2="480.9" stroke="#f5f5ec" stroke-width="0.8"/><line x1="126.1" y1="268" x2="126.1" y2="480.9" stroke="#f5f5ec" stroke-width="0.8"/><line x1="22.8" y1="268" x2="22.8" y2="480.9" stroke="#aaa" stroke-width="1.3"/><line x1="141.3" y1="268" x2="141.3" y2="480.9" stroke="#bbb" stroke-width="1"/><line x1="22.8" y1="480.9" x2="141.3" y2="480.9" stroke="#999" stroke-width="1"/><rect x="176.9" y="265" width="118.9" height="2" fill="#cfcfcf"/><line x1="176.9" y1="268" x2="295.8" y2="268" stroke="#d8d8d8" stroke-width="1"/><line x1="177.3" y1="471" x2="295.3" y2="471" stroke="#f5f5ec" stroke-width="0.8"/><line x1="177.3" y1="426.1" x2="295.3" y2="426.1" stroke="#f5f5ec" stroke-width="0.8"/><line x1="177.3" y1="381" x2="295.3" y2="381" stroke="#f5f5ec" stroke-width="0.8"/><line x1="177.3" y1="336" x2="295.3" y2="336" stroke="#f5f5ec" stroke-width="0.8"/><line x1="177.3" y1="291" x2="295.3" y2="291" stroke="#f5f5ec" stroke-width="0.8"/><line x1="177.3" y1="448.6" x2="295.3" y2="448.6" stroke="#f5f5ec" stroke-width="0.8"/><line x1="177.3" y1="403.5" x2="295.3" y2="403.5" stroke="#f5f5ec" stroke-width="0.8"/><line x1="177.3" y1="358.5" x2="295.3" y2="358.5" stroke="#f5f5ec" stroke-width="0.8"/><line x1="177.3" y1="313.5" x2="295.3" y2="313.5" stroke="#f5f5ec" stroke-width="0.8"/><line x1="206.1" y1="268" x2="206.1" y2="480.2" stroke="#f5f5ec" stroke-width="0.8"/><line x1="236" y1="268" x2="236" y2="480.2" stroke="#f5f5ec" stroke-width="0.8"/><line x1="265.9" y1="268" x2="265.9" y2="480.2" stroke="#f5f5ec" stroke-width="0.8"/><line x1="191" y1="268" x2="191" y2="480.2" stroke="#f5f5ec" stroke-width="0.8"/><line x1="221" y1="268" x2="221" y2="480.2" stroke="#f5f5ec" stroke-width="0.8"/><line x1="251" y1="268" x2="251" y2="480.2" stroke="#f5f5ec" stroke-width="0.8"/><line x1="281" y1="268" x2="281" y2="480.2" stroke="#f5f5ec" stroke-width="0.8"/><line x1="177.3" y1="268" x2="177.3" y2="480.2" stroke="#aaa" stroke-width="1.3"/><line x1="295.3" y1="268" x2="295.3" y2="480.2" stroke="#bbb" stroke-width="1"/><line x1="177.3" y1="480.2" x2="295.3" y2="480.2" stroke="#999" stroke-width="1"/><line x1="49.5" y1="471.4" x2="114.2" y2="471.4" stroke="#444" stroke-width="1.6"/><line x1="210.7" y1="470.9" x2="260.1" y2="470.9" stroke="#444" stroke-width="1.6"/><path d="M28 277.5h.9M37 277.5h.9M46 277.5h.9M54 277.5h.9M55 277.5h.9M104.5 277.5h.9M110.5 290.5h.9M46 298h.9M61 298h.9M58 303.5h.9M50 304h.9M104.5 304h.9M112.5 304h.9M56.5 308.5h.9M107.5 308.5h.9M45.5 312.5h.9M110.5 312.5h.9M42.5 320.5h.9M103.5 321.5h.9M64.5 322h.9M55.5 322.5h.9M63.5 322.5h.9M102 322.5h.9M105.5 322.5h.9M111 322.5h.9M100.5 323h.9M110.5 323.5h.9M99.5 324h.9M102.5 324.5h.9M60 325h.9M101.5 325h.9M99.5 325.5h.9M103.5 325.5h.9M60.5 326h.9M61.5 326h.9M52.5 326.5h.9M102 326.5h.9M61.5 327h.9M64.5 327h.9M63 328h.9M104.5 328h.9M62 328.5h.9M101 328.5h.9M109.5 328.5h.9M62 329h.9M59.5 330.5h.9M64 330.5h.9M101 331h.9M102.5 331h.9M105.5 331h.9M63.5 331.5h.9M103 331.5h.9M58 332h.9M60.5 332h.9M99.5 332h.9M58 332.5h.9M103.5 332.5h.9M124.5 333h.9M59 333.5h.9M47 334h.9M118.5 334.5h.9M52 335h.9M117.5 335h.9M99 335.5h.9M62.5 336h.9M58 336.5h.9M98.5 336.5h.9M103 336.5h.9M104.5 336.5h.9M119.5 336.5h.9M64.5 337h.9M65.5 337h.9M99.5 337h.9M65.5 337.5h.9M101.5 338h.9M102 338h.9M56.5 338.5h.9M61.5 339h.9M65.5 339h.9M101 339.5h.9M101.5 339.5h.9M65.5 341h.9M60 341.5h.9M65 341.5h.9M98.5 341.5h.9M99.5 342.5h.9M101 342.5h.9M98.5 343h.9M99.5 343h.9M114 343h.9M48 343.5h.9M54.5 343.5h.9M99.5 343.5h.9M99.5 344h.9M103.5 344h.9M60 344.5h.9M65.5 344.5h.9M99.5 344.5h.9M60.5 345.5h.9M64.5 345.5h.9M98.5 345.5h.9M102 345.5h.9M106.5 345.5h.9M63.5 346h.9M51 346.5h.9M63 346.5h.9M65.5 347h.9M66 347h.9M100 347h.9M98.5 347.5h.9M99 347.5h.9M102 347.5h.9M103 347.5h.9M61.5 348h.9M103.5 348h.9M104 348h.9M98.5 348.5h.9M57.5 349h.9M63 349h.9M62.5 349.5h.9M65.5 349.5h.9M38 350h.9M98.5 350h.9M99.5 350h.9M107 350h.9M60.5 350.5h.9M106.5 350.5h.9M61 351h.9M64.5 351h.9M113.5 351h.9M60 351.5h.9M62 351.5h.9M64 351.5h.9M64.5 351.5h.9M65.5 351.5h.9M99.5 351.5h.9M108 351.5h.9M62 352h.9M64 352h.9M65.5 353h.9M98.5 353h.9M102 353h.9M54 353.5h.9M61.5 353.5h.9M63.5 353.5h.9M64 353.5h.9M64.5 353.5h.9M65 353.5h.9M66.5 353.5h.9M99 353.5h.9M56.5 354h.9M58 354.5h.9M99 354.5h.9M66 355h.9M97.5 355h.9M63.5 355.5h.9M99 355.5h.9M62 356h.9M63 356h.9M97.5 356h.9M57.5 356.5h.9M61.5 356.5h.9M63.5 356.5h.9M65 356.5h.9M120.5 356.5h.9M63 357h.9M66.5 357h.9M98.5 357h.9M99 357h.9M60.5 357.5h.9M64 357.5h.9M65 357.5h.9M65.5 357.5h.9M106 357.5h.9M65.5 358h.9M97.5 358h.9M98 358h.9M113 358h.9M62 358.5h.9M97.5 358.5h.9M98.5 358.5h.9M41 359h.9M56.5 359h.9M62.5 359h.9M63.5 359h.9M99 359h.9M106 359h.9M57 359.5h.9M59.5 359.5h.9M64 359.5h.9M100.5 359.5h.9M115 359.5h.9M56.5 360h.9M61 360h.9M64 360h.9M65 360h.9M66.5 360h.9M99.5 360h.9M104.5 360h.9M28.5 360.5h.9M62.5 360.5h.9M64.5 360.5h.9M65 360.5h.9M65.5 360.5h.9M97.5 360.5h.9M98 360.5h.9M100.5 360.5h.9M110.5 360.5h.9M117 360.5h.9M47 361h.9M57 361h.9M62 361h.9M64 361h.9M97.5 361h.9M98.5 361h.9M99 361h.9M110 361h.9M63 361.5h.9M63.5 361.5h.9M99.5 361.5h.9M101.5 361.5h.9M119.5 361.5h.9M55 362h.9M64.5 362h.9M65.5 362h.9M66.5 362h.9M98.5 362h.9M100 362h.9M65.5 362.5h.9M67 362.5h.9M97.5 362.5h.9M101.5 362.5h.9M98.5 363h.9M99.5 363h.9M100 363h.9M102 363h.9M104 363h.9M58.5 363.5h.9M65 363.5h.9M97 363.5h.9M97.5 363.5h.9M99.5 363.5h.9M66 364h.9M101 364h.9M45.5 364.5h.9M48.5 364.5h.9M57.5 364.5h.9M65 364.5h.9M66.5 364.5h.9M98.5 364.5h.9M101.5 364.5h.9M62 365h.9M64.5 365h.9M65 365h.9M66.5 365h.9M97 365h.9M102 365h.9M52.5 365.5h.9M65 365.5h.9M66.5 365.5h.9M67 365.5h.9M97.5 365.5h.9M98 365.5h.9M98.5 365.5h.9M101 365.5h.9M61 366h.9M63.5 366h.9M66.5 366h.9M67 366h.9M97.5 366h.9M100 366h.9M39 366.5h.9M66 366.5h.9M96.5 366.5h.9M98.5 366.5h.9M104.5 366.5h.9M66.5 367h.9M67 367h.9M98.5 367h.9M104.5 367h.9M59.5 367.5h.9M63.5 367.5h.9M65 367.5h.9M66 367.5h.9M66.5 367.5h.9M99.5 367.5h.9M102.5 367.5h.9M108.5 367.5h.9M111 367.5h.9M55 368h.9M60 368h.9M65.5 368h.9M66.5 368h.9M67 368h.9M99 368h.9M100.5 368h.9M50 368.5h.9M61.5 368.5h.9M63 368.5h.9M64.5 368.5h.9M66.5 368.5h.9M97.5 368.5h.9M98.5 368.5h.9M99 368.5h.9M66.5 369h.9M67 369h.9M97 369h.9M105 369h.9M110 369h.9M59 369.5h.9M61.5 369.5h.9M65 369.5h.9M67 369.5h.9M100.5 369.5h.9M110.5 369.5h.9M113.5 369.5h.9M50 370h.9M58 370h.9M63.5 370h.9M97 370h.9M98 370h.9M99 370h.9M99.5 370h.9M64.5 370.5h.9M67 370.5h.9M96.5 370.5h.9M56 371h.9M65.5 371h.9M66 371h.9M66.5 371h.9M96.5 371h.9M99.5 371h.9M96.5 371.5h.9M99 371.5h.9M101 371.5h.9M27.5 372h.9M54 372h.9M58.5 372h.9M63.5 372h.9M97 372h.9M97.5 372h.9M98 372h.9M98.5 372h.9M99 372h.9M99.5 372h.9M100 372h.9M62.5 372.5h.9M64.5 372.5h.9M65.5 372.5h.9M66.5 372.5h.9M96.5 372.5h.9M97.5 372.5h.9M98 372.5h.9M98.5 372.5h.9M99 372.5h.9M62 373h.9M62.5 373h.9M65.5 373h.9M66 373h.9M96 373h.9M101 373h.9M57.5 373.5h.9M60 373.5h.9M67 373.5h.9M68 373.5h.9M96.5 373.5h.9M97 373.5h.9M98 373.5h.9M99 373.5h.9M61 374h.9M65.5 374h.9M67.5 374h.9M96.5 374h.9M62.5 374.5h.9M63 374.5h.9M66.5 374.5h.9M99.5 374.5h.9M100 374.5h.9M100.5 374.5h.9M105.5 374.5h.9M57 375h.9M61 375h.9M67.5 375h.9M97 375h.9M98 375h.9M99 375h.9M103 375h.9M117.5 375h.9M62.5 375.5h.9M64 375.5h.9M64.5 375.5h.9M65.5 375.5h.9M66.5 375.5h.9M67.5 375.5h.9M96.5 375.5h.9M98 375.5h.9M99 375.5h.9M102 375.5h.9M104 375.5h.9M63.5 376h.9M67 376h.9M101.5 376h.9M110 376h.9M62.5 376.5h.9M63 376.5h.9M66.5 376.5h.9M67 376.5h.9M96 376.5h.9M96.5 376.5h.9M97.5 376.5h.9M98 376.5h.9M99 376.5h.9M102 376.5h.9M109 376.5h.9M65.5 377h.9M66.5 377h.9M97 377h.9M98 377h.9M98.5 377h.9M65.5 377.5h.9M66 377.5h.9M99 377.5h.9M99.5 377.5h.9M101.5 377.5h.9M115.5 377.5h.9M121 377.5h.9M57.5 378h.9M64.5 378h.9M65.5 378h.9M67 378h.9M67.5 378h.9M96 378h.9M96.5 378h.9M97 378h.9M98 378h.9M113.5 378h.9M59.5 378.5h.9M62.5 378.5h.9M96.5 378.5h.9M97.5 378.5h.9M99 378.5h.9M99.5 378.5h.9M104 378.5h.9M110 378.5h.9M65.5 379h.9M66.5 379h.9M67.5 379h.9M100.5 379h.9M101 379h.9M45 379.5h.9M63 379.5h.9M64.5 379.5h.9M67 379.5h.9M96 379.5h.9M100.5 379.5h.9M110 379.5h.9M58.5 380h.9M63 380h.9M64 380h.9M66.5 380h.9M67 380h.9M67.5 380h.9M96 380h.9M98 380h.9M99 380h.9M43.5 380.5h.9M58.5 380.5h.9M59 380.5h.9M60.5 380.5h.9M67.5 380.5h.9M97.5 380.5h.9M98 380.5h.9M99 380.5h.9M102.5 380.5h.9M109.5 380.5h.9M50 381h.9M60.5 381h.9M62 381h.9M64 381h.9M64.5 381h.9M67 381h.9M68 381h.9M97 381h.9M98 381h.9M98.5 381h.9M99 381h.9M103.5 381h.9M105 381h.9M41.5 381.5h.9M57.5 381.5h.9M58.5 381.5h.9M59.5 381.5h.9M62 381.5h.9M63 381.5h.9M68 381.5h.9M95.5 381.5h.9M96 381.5h.9M96.5 381.5h.9M97 381.5h.9M98.5 381.5h.9M103.5 381.5h.9M108 381.5h.9M64 382h.9M65.5 382h.9M66 382h.9M67 382h.9M68.5 382h.9M97 382h.9M97.5 382h.9M98 382h.9M98.5 382h.9M99.5 382h.9M59 382.5h.9M96 382.5h.9M96.5 382.5h.9M101 382.5h.9M103 382.5h.9M60.5 383h.9M66 383h.9M68 383h.9M96.5 383h.9M97 383h.9M47.5 383.5h.9M65.5 383.5h.9M66 383.5h.9M66.5 383.5h.9M67.5 383.5h.9M96 383.5h.9M97 383.5h.9M97.5 383.5h.9M98 383.5h.9M99 383.5h.9M100.5 383.5h.9M101 383.5h.9M104.5 383.5h.9M25 384h.9M53 384h.9M58 384h.9M66 384h.9M67.5 384h.9M96.5 384h.9M98 384h.9M101 384h.9M102 384h.9M104.5 384h.9M112.5 384h.9M113 384h.9M58.5 384.5h.9M62.5 384.5h.9M63 384.5h.9M64.5 384.5h.9M65 384.5h.9M66 384.5h.9M68 384.5h.9M95.5 384.5h.9M96 384.5h.9M96.5 384.5h.9M98 384.5h.9M99.5 384.5h.9M106.5 384.5h.9M107 384.5h.9M109 384.5h.9M59.5 385h.9M62.5 385h.9M67 385h.9M96.5 385h.9M98.5 385h.9M100 385h.9M107.5 385h.9M56 385.5h.9M66.5 385.5h.9M68 385.5h.9M95.5 385.5h.9M96 385.5h.9M96.5 385.5h.9M98 385.5h.9M99.5 385.5h.9M100 385.5h.9M103 385.5h.9M104 385.5h.9M58.5 386h.9M60.5 386h.9M66.5 386h.9M67 386h.9M68 386h.9M69 386h.9M97.5 386h.9M99.5 386h.9M101.5 386h.9M109.5 386h.9M64 386.5h.9M65 386.5h.9M68 386.5h.9M68.5 386.5h.9M95.5 386.5h.9M96.5 386.5h.9M97 386.5h.9M98.5 386.5h.9M100 386.5h.9M106.5 386.5h.9M54.5 387h.9M63.5 387h.9M68.5 387h.9M96.5 387h.9M98 387h.9M98.5 387h.9M104.5 387h.9M107 387h.9M108 387h.9M109.5 387h.9M59 387.5h.9M60 387.5h.9M61.5 387.5h.9M67 387.5h.9M67.5 387.5h.9M68.5 387.5h.9M96 387.5h.9M96.5 387.5h.9M98 387.5h.9M101.5 387.5h.9M108.5 387.5h.9M56 388h.9M58.5 388h.9M62 388h.9M63.5 388h.9M64 388h.9M65 388h.9M65.5 388h.9M66.5 388h.9M68.5 388h.9M95.5 388h.9M98 388h.9M98.5 388h.9M99 388h.9M102.5 388h.9M103.5 388h.9M62.5 388.5h.9M64.5 388.5h.9M65 388.5h.9M68.5 388.5h.9M96 388.5h.9M96.5 388.5h.9M97 388.5h.9M97.5 388.5h.9M101.5 388.5h.9M103 388.5h.9M60 389h.9M61.5 389h.9M64 389h.9M65.5 389h.9M67 389h.9M67.5 389h.9M95 389h.9M96 389h.9M99 389h.9M102 389h.9M108.5 389h.9M44.5 389.5h.9M49.5 389.5h.9M51.5 389.5h.9M62.5 389.5h.9M66 389.5h.9M67.5 389.5h.9M68.5 389.5h.9M95 389.5h.9M95.5 389.5h.9M96 389.5h.9M96.5 389.5h.9M98.5 389.5h.9M100 389.5h.9M101 389.5h.9M102 389.5h.9M103.5 389.5h.9M55 390h.9M64.5 390h.9M65.5 390h.9M67 390h.9M69 390h.9M95 390h.9M95.5 390h.9M97 390h.9M98.5 390h.9M99 390h.9M99.5 390h.9M100.5 390h.9M101.5 390h.9M54 390.5h.9M62.5 390.5h.9M65 390.5h.9M65.5 390.5h.9M66 390.5h.9M67 390.5h.9M67.5 390.5h.9M68 390.5h.9M68.5 390.5h.9M95 390.5h.9M95.5 390.5h.9M97 390.5h.9M98.5 390.5h.9M104.5 390.5h.9M105.5 390.5h.9M62.5 391h.9M64 391h.9M66.5 391h.9M69 391h.9M95.5 391h.9M96 391h.9M97.5 391h.9M98 391h.9M98.5 391h.9M102 391h.9M111.5 391h.9M58 391.5h.9M64.5 391.5h.9M65.5 391.5h.9M66.5 391.5h.9M68 391.5h.9M68.5 391.5h.9M95 391.5h.9M96.5 391.5h.9M97.5 391.5h.9M100.5 391.5h.9M102.5 391.5h.9M103 391.5h.9M114 391.5h.9M33.5 392h.9M56 392h.9M64 392h.9M65.5 392h.9M67.5 392h.9M68.5 392h.9M69 392h.9M95 392h.9M95.5 392h.9M96 392h.9M97 392h.9M98 392h.9M98.5 392h.9M99 392h.9M100.5 392h.9M106.5 392h.9M122.5 392h.9M126 392h.9M34 392.5h.9M64 392.5h.9M95 392.5h.9M95.5 392.5h.9M96.5 392.5h.9M97.5 392.5h.9M99 392.5h.9M104.5 392.5h.9M105 392.5h.9M109 392.5h.9M50 393h.9M53 393h.9M57 393h.9M66.5 393h.9M68 393h.9M68.5 393h.9M69 393h.9M69.5 393h.9M95.5 393h.9M96 393h.9M97 393h.9M97.5 393h.9M99.5 393h.9M100 393h.9M101.5 393h.9M104 393h.9M105.5 393h.9M49 393.5h.9M53.5 393.5h.9M59.5 393.5h.9M66 393.5h.9M66.5 393.5h.9M67.5 393.5h.9M68.5 393.5h.9M69 393.5h.9M97 393.5h.9M97.5 393.5h.9M98.5 393.5h.9M99 393.5h.9M104 393.5h.9M59 394h.9M60 394h.9M60.5 394h.9M62 394h.9M62.5 394h.9M63 394h.9M64 394h.9M64.5 394h.9M66.5 394h.9M67 394h.9M67.5 394h.9M68 394h.9M68.5 394h.9M69 394h.9M69.5 394h.9M94.5 394h.9M95 394h.9M95.5 394h.9M98.5 394h.9M99 394h.9M102 394h.9M61.5 394.5h.9M62 394.5h.9M64 394.5h.9M64.5 394.5h.9M65.5 394.5h.9M66.5 394.5h.9M69 394.5h.9M69.5 394.5h.9M95 394.5h.9M96 394.5h.9M100 394.5h.9M101 394.5h.9M102 394.5h.9M60.5 395h.9M65 395h.9M66 395h.9M66.5 395h.9M68.5 395h.9M69 395h.9M95 395h.9M96.5 395h.9M97.5 395h.9M98 395h.9M99 395h.9M101 395h.9M101.5 395h.9M105 395h.9M106.5 395h.9M120.5 395h.9M123.5 395h.9M37.5 395.5h.9M48 395.5h.9M59 395.5h.9M61 395.5h.9M63 395.5h.9M63.5 395.5h.9M67 395.5h.9M67.5 395.5h.9M68 395.5h.9M69 395.5h.9M94.5 395.5h.9M96.5 395.5h.9M97 395.5h.9M103.5 395.5h.9M115.5 395.5h.9M54 396h.9M62.5 396h.9M64.5 396h.9M65 396h.9M67.5 396h.9M69.5 396h.9M94.5 396h.9M95 396h.9M96 396h.9M96.5 396h.9M97 396h.9M98.5 396h.9M99 396h.9M100.5 396h.9M108.5 396h.9M51 396.5h.9M57 396.5h.9M61 396.5h.9M61.5 396.5h.9M63.5 396.5h.9M64.5 396.5h.9M67 396.5h.9M69 396.5h.9M69.5 396.5h.9M95 396.5h.9M95.5 396.5h.9M96 396.5h.9M97.5 396.5h.9M98 396.5h.9M98.5 396.5h.9M101 396.5h.9M116.5 396.5h.9M53.5 397h.9M65 397h.9M65.5 397h.9M66 397h.9M67.5 397h.9M68 397h.9M69 397h.9M69.5 397h.9M94.5 397h.9M96 397h.9M96.5 397h.9M97 397h.9M98 397h.9M98.5 397h.9M99 397h.9M101.5 397h.9M102 397h.9M106 397h.9M41.5 397.5h.9M58.5 397.5h.9M59 397.5h.9M60.5 397.5h.9M64.5 397.5h.9M66 397.5h.9M66.5 397.5h.9M67 397.5h.9M68 397.5h.9M69.5 397.5h.9M94.5 397.5h.9M95 397.5h.9M95.5 397.5h.9M96 397.5h.9M97 397.5h.9M97.5 397.5h.9M98.5 397.5h.9M99.5 397.5h.9M100 397.5h.9M101.5 397.5h.9M103.5 397.5h.9M107.5 397.5h.9M114 397.5h.9M48.5 398h.9M49.5 398h.9M60.5 398h.9M63.5 398h.9M64 398h.9M65.5 398h.9M67.5 398h.9M68 398h.9M68.5 398h.9M69 398h.9M69.5 398h.9M94 398h.9M95.5 398h.9M96 398h.9M96.5 398h.9M99.5 398h.9M100.5 398h.9M120 398h.9M26 398.5h.9M46.5 398.5h.9M56.5 398.5h.9M57.5 398.5h.9M61.5 398.5h.9M63.5 398.5h.9M64 398.5h.9M64.5 398.5h.9M65.5 398.5h.9M67 398.5h.9M68 398.5h.9M68.5 398.5h.9M69 398.5h.9M94.5 398.5h.9M95 398.5h.9M95.5 398.5h.9M96.5 398.5h.9M97 398.5h.9M99 398.5h.9M103 398.5h.9M104 398.5h.9M104.5 398.5h.9M105.5 398.5h.9M55.5 399h.9M59 399h.9M61 399h.9M62 399h.9M65 399h.9M65.5 399h.9M66 399h.9M66.5 399h.9M67.5 399h.9M68 399h.9M69 399h.9M69.5 399h.9M96 399h.9M97 399h.9M97.5 399h.9M99 399h.9M52 399.5h.9M61 399.5h.9M65 399.5h.9M65.5 399.5h.9M66 399.5h.9M67.5 399.5h.9M68 399.5h.9M68.5 399.5h.9M69.5 399.5h.9M94 399.5h.9M94.5 399.5h.9M95 399.5h.9M95.5 399.5h.9M96 399.5h.9M96.5 399.5h.9M97.5 399.5h.9M98.5 399.5h.9M99 399.5h.9M99.5 399.5h.9M101.5 399.5h.9M103.5 399.5h.9M41 400h.9M59 400h.9M62.5 400h.9M63 400h.9M64 400h.9M65 400h.9M67 400h.9M67.5 400h.9M68.5 400h.9M69 400h.9M70 400h.9M94 400h.9M94.5 400h.9M95 400h.9M95.5 400h.9M96.5 400h.9M98 400h.9M99.5 400h.9M102 400h.9M104 400h.9M105 400h.9M108 400h.9M120 400h.9M62 400.5h.9M62.5 400.5h.9M65 400.5h.9M66.5 400.5h.9M67 400.5h.9M68 400.5h.9M68.5 400.5h.9M69 400.5h.9M69.5 400.5h.9M95 400.5h.9M95.5 400.5h.9M96.5 400.5h.9M97 400.5h.9M97.5 400.5h.9M98 400.5h.9M98.5 400.5h.9M99 400.5h.9M99.5 400.5h.9M100.5 400.5h.9M101.5 400.5h.9M103 400.5h.9M105 400.5h.9M107.5 400.5h.9M52 401h.9M55.5 401h.9M61 401h.9M62.5 401h.9M63.5 401h.9M64 401h.9M65 401h.9M65.5 401h.9M66 401h.9M67 401h.9M68 401h.9M68.5 401h.9M69 401h.9M70 401h.9M94.5 401h.9M95 401h.9M97.5 401h.9M98 401h.9M99 401h.9M99.5 401h.9M101 401h.9M101.5 401h.9M106 401h.9M114 401h.9M114.5 401h.9M61 401.5h.9M61.5 401.5h.9M62 401.5h.9M64 401.5h.9M65.5 401.5h.9M66 401.5h.9M69 401.5h.9M69.5 401.5h.9M70 401.5h.9M94 401.5h.9M96 401.5h.9M97 401.5h.9M97.5 401.5h.9M101.5 401.5h.9M134.5 401.5h.9M45 402h.9M61 402h.9M64 402h.9M65 402h.9M65.5 402h.9M68 402h.9M69.5 402h.9M94 402h.9M95 402h.9M96 402h.9M97 402h.9M97.5 402h.9M99 402h.9M104 402h.9M105.5 402h.9M106 402h.9M35.5 402.5h.9M60 402.5h.9M62 402.5h.9M64.5 402.5h.9M65.5 402.5h.9M66.5 402.5h.9M67 402.5h.9M69 402.5h.9M94.5 402.5h.9M95 402.5h.9M96 402.5h.9M96.5 402.5h.9M97.5 402.5h.9M99 402.5h.9M99.5 402.5h.9M101.5 402.5h.9M108 402.5h.9M113 402.5h.9M57 403h.9M60.5 403h.9M63 403h.9M64.5 403h.9M65 403h.9M65.5 403h.9M66 403h.9M68 403h.9M69.5 403h.9M70 403h.9M70.5 403h.9M94 403h.9M94.5 403h.9M96 403h.9M96.5 403h.9M98 403h.9M99 403h.9M99.5 403h.9M100.5 403h.9M101.5 403h.9M104 403h.9M107.5 403h.9M112.5 403h.9M123 403h.9M41.5 403.5h.9M55.5 403.5h.9M58.5 403.5h.9M64.5 403.5h.9M66 403.5h.9M67 403.5h.9M68.5 403.5h.9M69 403.5h.9M69.5 403.5h.9M93.5 403.5h.9M94 403.5h.9M94.5 403.5h.9M95 403.5h.9M95.5 403.5h.9M96 403.5h.9M96.5 403.5h.9M97 403.5h.9M99.5 403.5h.9M100 403.5h.9M101 403.5h.9M101.5 403.5h.9M102.5 403.5h.9M104 403.5h.9M109 403.5h.9M24 404h.9M45 404h.9M51.5 404h.9M64 404h.9M65 404h.9M66.5 404h.9M67 404h.9M67.5 404h.9M68.5 404h.9M69 404h.9M69.5 404h.9M93.5 404h.9M94.5 404h.9M95.5 404h.9M96 404h.9M97 404h.9M98.5 404h.9M99 404h.9M100 404h.9M106 404h.9M54.5 404.5h.9M58.5 404.5h.9M59 404.5h.9M61 404.5h.9M63.5 404.5h.9M64.5 404.5h.9M66 404.5h.9M68 404.5h.9M69 404.5h.9M93.5 404.5h.9M94 404.5h.9M94.5 404.5h.9M95 404.5h.9M95.5 404.5h.9M96 404.5h.9M97 404.5h.9M97.5 404.5h.9M98 404.5h.9M99 404.5h.9M100 404.5h.9M102 404.5h.9M103 404.5h.9M117.5 404.5h.9M48.5 405h.9M55.5 405h.9M59 405h.9M63 405h.9M63.5 405h.9M64.5 405h.9M65 405h.9M66 405h.9M66.5 405h.9M67.5 405h.9M68 405h.9M68.5 405h.9M69 405h.9M69.5 405h.9M70 405h.9M70.5 405h.9M94 405h.9M94.5 405h.9M95 405h.9M96.5 405h.9M97.5 405h.9M98 405h.9M99 405h.9M101.5 405h.9M102 405h.9M105 405h.9M107.5 405h.9M115.5 405h.9M49.5 405.5h.9M62 405.5h.9M65.5 405.5h.9M67.5 405.5h.9M68 405.5h.9M69 405.5h.9M70 405.5h.9M70.5 405.5h.9M93.5 405.5h.9M95.5 405.5h.9M96 405.5h.9M96.5 405.5h.9M97 405.5h.9M97.5 405.5h.9M99 405.5h.9M101 405.5h.9M102.5 405.5h.9M105 405.5h.9M44.5 406h.9M55.5 406h.9M56.5 406h.9M59.5 406h.9M60.5 406h.9M63 406h.9M63.5 406h.9M66 406h.9M67 406h.9M67.5 406h.9M68 406h.9M69.5 406h.9M70 406h.9M70.5 406h.9M94 406h.9M94.5 406h.9M95 406h.9M96 406h.9M96.5 406h.9M98.5 406h.9M101 406h.9M101.5 406h.9M103 406h.9M56 406.5h.9M64.5 406.5h.9M65 406.5h.9M65.5 406.5h.9M67.5 406.5h.9M68.5 406.5h.9M69.5 406.5h.9M70 406.5h.9M70.5 406.5h.9M94 406.5h.9M94.5 406.5h.9M95 406.5h.9M96.5 406.5h.9M97.5 406.5h.9M98.5 406.5h.9M99 406.5h.9M103 406.5h.9M108 406.5h.9M110 406.5h.9M119 406.5h.9M54 407h.9M58 407h.9M58.5 407h.9M63.5 407h.9M65 407h.9M65.5 407h.9M67 407h.9M67.5 407h.9M68 407h.9M69 407h.9M70.5 407h.9M93.5 407h.9M94 407h.9M94.5 407h.9M95.5 407h.9M96.5 407h.9M101.5 407h.9M103.5 407h.9M107.5 407h.9M109 407h.9M118.5 407h.9M137 407h.9M52 407.5h.9M52.5 407.5h.9M58.5 407.5h.9M60 407.5h.9M62 407.5h.9M64.5 407.5h.9M66 407.5h.9M67.5 407.5h.9M68 407.5h.9M68.5 407.5h.9M69.5 407.5h.9M70 407.5h.9M70.5 407.5h.9M93.5 407.5h.9M94.5 407.5h.9M95 407.5h.9M97.5 407.5h.9M99 407.5h.9M101 407.5h.9M103.5 407.5h.9M107.5 407.5h.9M110.5 407.5h.9M56 408h.9M56.5 408h.9M64 408h.9M64.5 408h.9M66.5 408h.9M67 408h.9M68 408h.9M68.5 408h.9M69 408h.9M69.5 408h.9M70 408h.9M70.5 408h.9M71 408h.9M93.5 408h.9M94 408h.9M94.5 408h.9M95.5 408h.9M100 408h.9M101.5 408h.9M102 408h.9M108.5 408h.9M47.5 408.5h.9M48 408.5h.9M53.5 408.5h.9M55 408.5h.9M56.5 408.5h.9M57 408.5h.9M61 408.5h.9M61.5 408.5h.9M62.5 408.5h.9M65.5 408.5h.9M66 408.5h.9M68.5 408.5h.9M69 408.5h.9M69.5 408.5h.9M70.5 408.5h.9M93.5 408.5h.9M94 408.5h.9M94.5 408.5h.9M95 408.5h.9M95.5 408.5h.9M96 408.5h.9M97.5 408.5h.9M98 408.5h.9M98.5 408.5h.9M99 408.5h.9M99.5 408.5h.9M101 408.5h.9M104.5 408.5h.9M106 408.5h.9M108 408.5h.9M110 408.5h.9M115 408.5h.9M50 409h.9M52.5 409h.9M59 409h.9M64 409h.9M65 409h.9M65.5 409h.9M66 409h.9M67 409h.9M67.5 409h.9M68 409h.9M68.5 409h.9M69 409h.9M69.5 409h.9M70 409h.9M70.5 409h.9M93.5 409h.9M95 409h.9M95.5 409h.9M96 409h.9M96.5 409h.9M97 409h.9M97.5 409h.9M98.5 409h.9M100 409h.9M100.5 409h.9M101.5 409h.9M103 409h.9M106 409h.9M107 409h.9M109 409h.9M45.5 409.5h.9M47.5 409.5h.9M54.5 409.5h.9M58 409.5h.9M59 409.5h.9M59.5 409.5h.9M63.5 409.5h.9M66 409.5h.9M67.5 409.5h.9M68.5 409.5h.9M69.5 409.5h.9M70 409.5h.9M71 409.5h.9M93 409.5h.9M93.5 409.5h.9M94 409.5h.9M95 409.5h.9M95.5 409.5h.9M96 409.5h.9M97.5 409.5h.9M98 409.5h.9M101.5 409.5h.9M102 409.5h.9M112.5 409.5h.9M132 409.5h.9M52.5 410h.9M57.5 410h.9M59 410h.9M60.5 410h.9M62 410h.9M64 410h.9M66.5 410h.9M67 410h.9M68 410h.9M70 410h.9M93 410h.9M93.5 410h.9M94 410h.9M95 410h.9M95.5 410h.9M96 410h.9M98 410h.9M99.5 410h.9M100 410h.9M100.5 410h.9M102 410h.9M102.5 410h.9M104.5 410h.9M110 410h.9M114 410h.9M134.5 410h.9M41 410.5h.9M59 410.5h.9M60.5 410.5h.9M61 410.5h.9M63 410.5h.9M63.5 410.5h.9M64.5 410.5h.9M67.5 410.5h.9M68.5 410.5h.9M69 410.5h.9M69.5 410.5h.9M70 410.5h.9M70.5 410.5h.9M71 410.5h.9M93 410.5h.9M94 410.5h.9M94.5 410.5h.9M95 410.5h.9M96 410.5h.9M96.5 410.5h.9M97 410.5h.9M98 410.5h.9M101 410.5h.9M102 410.5h.9M103 410.5h.9M104.5 410.5h.9M106 410.5h.9M124 410.5h.9M51.5 411h.9M63 411h.9M63.5 411h.9M64 411h.9M67 411h.9M67.5 411h.9M68 411h.9M68.5 411h.9M69 411h.9M70.5 411h.9M71 411h.9M94.5 411h.9M95 411h.9M95.5 411h.9M96 411h.9M97 411h.9M98 411h.9M98.5 411h.9M100 411h.9M100.5 411h.9M107 411h.9M107.5 411h.9M116 411h.9M122 411h.9M57.5 411.5h.9M59 411.5h.9M60.5 411.5h.9M61 411.5h.9M62.5 411.5h.9M63 411.5h.9M64.5 411.5h.9M66.5 411.5h.9M67 411.5h.9M67.5 411.5h.9M68 411.5h.9M68.5 411.5h.9M69 411.5h.9M69.5 411.5h.9M70 411.5h.9M70.5 411.5h.9M71 411.5h.9M93 411.5h.9M93.5 411.5h.9M94 411.5h.9M94.5 411.5h.9M95 411.5h.9M95.5 411.5h.9M97 411.5h.9M98.5 411.5h.9M99 411.5h.9M101 411.5h.9M101.5 411.5h.9M110 411.5h.9M119 411.5h.9M132 411.5h.9M31.5 412h.9M58 412h.9M60.5 412h.9M62 412h.9M62.5 412h.9M65.5 412h.9M66 412h.9M66.5 412h.9M68.5 412h.9M69 412h.9M70 412h.9M70.5 412h.9M71 412h.9M71.5 412h.9M93 412h.9M93.5 412h.9M94 412h.9M94.5 412h.9M95.5 412h.9M96 412h.9M96.5 412h.9M97 412h.9M98 412h.9M99.5 412h.9M100.5 412h.9M101.5 412h.9M103.5 412h.9M104 412h.9M53 412.5h.9M57.5 412.5h.9M60 412.5h.9M62 412.5h.9M65.5 412.5h.9M68 412.5h.9M69.5 412.5h.9M70 412.5h.9M70.5 412.5h.9M71 412.5h.9M93 412.5h.9M93.5 412.5h.9M94 412.5h.9M94.5 412.5h.9M95.5 412.5h.9M96 412.5h.9M96.5 412.5h.9M99.5 412.5h.9M100 412.5h.9M101 412.5h.9M102 412.5h.9M103.5 412.5h.9M112 412.5h.9M120 412.5h.9M127.5 412.5h.9M45.5 413h.9M51 413h.9M62.5 413h.9M63 413h.9M65.5 413h.9M66.5 413h.9M67 413h.9M68 413h.9M70.5 413h.9M71 413h.9M71.5 413h.9M93 413h.9M93.5 413h.9M94 413h.9M94.5 413h.9M96 413h.9M96.5 413h.9M97 413h.9M98.5 413h.9M99.5 413h.9M101.5 413h.9M58.5 413.5h.9M60 413.5h.9M60.5 413.5h.9M62.5 413.5h.9M63 413.5h.9M64.5 413.5h.9M67.5 413.5h.9M68 413.5h.9M68.5 413.5h.9M69 413.5h.9M69.5 413.5h.9M71 413.5h.9M92.5 413.5h.9M93 413.5h.9M93.5 413.5h.9M94.5 413.5h.9M95 413.5h.9M95.5 413.5h.9M96 413.5h.9M97 413.5h.9M97.5 413.5h.9M98 413.5h.9M99 413.5h.9M99.5 413.5h.9M100 413.5h.9M101.5 413.5h.9M102 413.5h.9M104 413.5h.9M112 413.5h.9M113 413.5h.9M121 413.5h.9M34.5 414h.9M63.5 414h.9M64.5 414h.9M65 414h.9M66 414h.9M68.5 414h.9M69 414h.9M69.5 414h.9M70 414h.9M70.5 414h.9M71 414h.9M93 414h.9M94 414h.9M94.5 414h.9M95 414h.9M95.5 414h.9M96.5 414h.9M97 414h.9M97.5 414h.9M98.5 414h.9M99.5 414h.9M100 414h.9M101.5 414h.9M103 414h.9M104 414h.9M109 414h.9M116 414h.9M48 414.5h.9M50.5 414.5h.9M51.5 414.5h.9M53 414.5h.9M62 414.5h.9M63.5 414.5h.9M64 414.5h.9M64.5 414.5h.9M65 414.5h.9M67.5 414.5h.9M68 414.5h.9M69 414.5h.9M69.5 414.5h.9M70 414.5h.9M71 414.5h.9M71.5 414.5h.9M92.5 414.5h.9M93 414.5h.9M93.5 414.5h.9M94.5 414.5h.9M95 414.5h.9M95.5 414.5h.9M96 414.5h.9M96.5 414.5h.9M97 414.5h.9M98 414.5h.9M98.5 414.5h.9M100.5 414.5h.9M102.5 414.5h.9M108 414.5h.9M37 415h.9M47.5 415h.9M50.5 415h.9M51.5 415h.9M60 415h.9M61 415h.9M61.5 415h.9M66 415h.9M66.5 415h.9M67 415h.9M67.5 415h.9M68 415h.9M68.5 415h.9M69 415h.9M69.5 415h.9M70 415h.9M70.5 415h.9M71 415h.9M71.5 415h.9M92.5 415h.9M93.5 415h.9M94 415h.9M96 415h.9M96.5 415h.9M97 415h.9M97.5 415h.9M98 415h.9M98.5 415h.9M100.5 415h.9M101.5 415h.9M104 415h.9M108.5 415h.9M123.5 415h.9M59 415.5h.9M59.5 415.5h.9M62 415.5h.9M62.5 415.5h.9M63.5 415.5h.9M64 415.5h.9M64.5 415.5h.9M65.5 415.5h.9M66 415.5h.9M66.5 415.5h.9M67.5 415.5h.9M69 415.5h.9M69.5 415.5h.9M70 415.5h.9M70.5 415.5h.9M71 415.5h.9M71.5 415.5h.9M92.5 415.5h.9M93 415.5h.9M93.5 415.5h.9M94 415.5h.9M94.5 415.5h.9M95 415.5h.9M95.5 415.5h.9M96 415.5h.9M96.5 415.5h.9M97 415.5h.9M97.5 415.5h.9M101 415.5h.9M102 415.5h.9M107.5 415.5h.9M109.5 415.5h.9M115.5 415.5h.9M128 415.5h.9M56.5 416h.9M59 416h.9M61.5 416h.9M63 416h.9M63.5 416h.9M64 416h.9M65 416h.9M66 416h.9M66.5 416h.9M67 416h.9M69 416h.9M69.5 416h.9M70.5 416h.9M71.5 416h.9M72 416h.9M92.5 416h.9M93 416h.9M93.5 416h.9M94 416h.9M94.5 416h.9M95 416h.9M96 416h.9M96.5 416h.9M97.5 416h.9M98.5 416h.9M103.5 416h.9M104.5 416h.9M106.5 416h.9M111.5 416h.9M117 416h.9M52.5 416.5h.9M59 416.5h.9M61 416.5h.9M62 416.5h.9M63 416.5h.9M63.5 416.5h.9M65.5 416.5h.9M66 416.5h.9M66.5 416.5h.9M67 416.5h.9M68 416.5h.9M68.5 416.5h.9M69 416.5h.9M69.5 416.5h.9M70 416.5h.9M70.5 416.5h.9M71 416.5h.9M71.5 416.5h.9M72 416.5h.9M92.5 416.5h.9M93 416.5h.9M94 416.5h.9M94.5 416.5h.9M95 416.5h.9M97.5 416.5h.9M98 416.5h.9M99 416.5h.9M101.5 416.5h.9M102.5 416.5h.9M103 416.5h.9M103.5 416.5h.9M105.5 416.5h.9M106 416.5h.9M108 416.5h.9M116.5 416.5h.9M53.5 417h.9M56.5 417h.9M62 417h.9M62.5 417h.9M63 417h.9M63.5 417h.9M64.5 417h.9M65 417h.9M66 417h.9M67 417h.9M67.5 417h.9M68 417h.9M68.5 417h.9M69 417h.9M69.5 417h.9M70 417h.9M71 417h.9M71.5 417h.9M72 417h.9M92.5 417h.9M93 417h.9M94 417h.9M94.5 417h.9M95 417h.9M95.5 417h.9M96 417h.9M96.5 417h.9M97 417h.9M98.5 417h.9M100.5 417h.9M101 417h.9M103 417h.9M113.5 417h.9M62.5 417.5h.9M63.5 417.5h.9M64.5 417.5h.9M67.5 417.5h.9M68 417.5h.9M68.5 417.5h.9M69 417.5h.9M69.5 417.5h.9M70 417.5h.9M70.5 417.5h.9M71 417.5h.9M71.5 417.5h.9M72 417.5h.9M92 417.5h.9M93 417.5h.9M93.5 417.5h.9M94 417.5h.9M94.5 417.5h.9M95.5 417.5h.9M97 417.5h.9M98.5 417.5h.9M99.5 417.5h.9M110 417.5h.9M111 417.5h.9M46.5 418h.9M57 418h.9M58 418h.9M63 418h.9M65 418h.9M66 418h.9M66.5 418h.9M67 418h.9M67.5 418h.9M68.5 418h.9M69 418h.9M69.5 418h.9M70 418h.9M70.5 418h.9M71 418h.9M71.5 418h.9M72 418h.9M92 418h.9M92.5 418h.9M93 418h.9M93.5 418h.9M94.5 418h.9M95 418h.9M95.5 418h.9M96.5 418h.9M97.5 418h.9M99.5 418h.9M101 418h.9M101.5 418h.9M107.5 418h.9M108.5 418h.9M55.5 418.5h.9M59.5 418.5h.9M62 418.5h.9M63.5 418.5h.9M67 418.5h.9M67.5 418.5h.9M68 418.5h.9M68.5 418.5h.9M69 418.5h.9M69.5 418.5h.9M70 418.5h.9M71 418.5h.9M71.5 418.5h.9M72 418.5h.9M92 418.5h.9M92.5 418.5h.9M93 418.5h.9M93.5 418.5h.9M94.5 418.5h.9M95 418.5h.9M95.5 418.5h.9M96 418.5h.9M97 418.5h.9M97.5 418.5h.9M98.5 418.5h.9M101 418.5h.9M102.5 418.5h.9M103.5 418.5h.9M104.5 418.5h.9M105 418.5h.9M105.5 418.5h.9M107 418.5h.9M107.5 418.5h.9M115.5 418.5h.9M54.5 419h.9M61.5 419h.9M63 419h.9M64 419h.9M65 419h.9M65.5 419h.9M67 419h.9M67.5 419h.9M68.5 419h.9M69 419h.9M70 419h.9M71 419h.9M71.5 419h.9M72 419h.9M92 419h.9M92.5 419h.9M93.5 419h.9M94 419h.9M94.5 419h.9M95 419h.9M95.5 419h.9M96 419h.9M96.5 419h.9M97.5 419h.9M98 419h.9M98.5 419h.9M103 419h.9M104 419h.9M107.5 419h.9M110 419h.9M111.5 419h.9M118.5 419h.9M45 419.5h.9M50.5 419.5h.9M58 419.5h.9M58.5 419.5h.9M64.5 419.5h.9M66 419.5h.9M67 419.5h.9M67.5 419.5h.9M68 419.5h.9M69 419.5h.9M69.5 419.5h.9M70 419.5h.9M71 419.5h.9M71.5 419.5h.9M72 419.5h.9M92 419.5h.9M92.5 419.5h.9M93 419.5h.9M93.5 419.5h.9M94 419.5h.9M95 419.5h.9M95.5 419.5h.9M96 419.5h.9M96.5 419.5h.9M98 419.5h.9M101.5 419.5h.9M103.5 419.5h.9M104.5 419.5h.9M105 419.5h.9M106 419.5h.9M107.5 419.5h.9M108 419.5h.9M115.5 419.5h.9M130.5 419.5h.9M132 419.5h.9M137.5 419.5h.9M51 420h.9M62.5 420h.9M63.5 420h.9M64 420h.9M66 420h.9M66.5 420h.9M67.5 420h.9M68 420h.9M68.5 420h.9M69 420h.9M70 420h.9M70.5 420h.9M71 420h.9M71.5 420h.9M72 420h.9M72.5 420h.9M91.5 420h.9M92 420h.9M92.5 420h.9M93 420h.9M93.5 420h.9M94.5 420h.9M95.5 420h.9M96 420h.9M97 420h.9M97.5 420h.9M101.5 420h.9M102 420h.9M106.5 420h.9M116 420h.9M29.5 420.5h.9M37.5 420.5h.9M54.5 420.5h.9M59.5 420.5h.9M60.5 420.5h.9M61 420.5h.9M62 420.5h.9M63 420.5h.9M63.5 420.5h.9M64.5 420.5h.9M65 420.5h.9M67 420.5h.9M67.5 420.5h.9M68.5 420.5h.9M69 420.5h.9M69.5 420.5h.9M70 420.5h.9M70.5 420.5h.9M71.5 420.5h.9M72 420.5h.9M92 420.5h.9M92.5 420.5h.9M93 420.5h.9M93.5 420.5h.9M94 420.5h.9M94.5 420.5h.9M95 420.5h.9M95.5 420.5h.9M96.5 420.5h.9M98.5 420.5h.9M99 420.5h.9M100 420.5h.9M101 420.5h.9M102.5 420.5h.9M103.5 420.5h.9M106 420.5h.9M56.5 421h.9M59.5 421h.9M62.5 421h.9M63 421h.9M64 421h.9M64.5 421h.9M67 421h.9M69 421h.9M70 421h.9M70.5 421h.9M71 421h.9M71.5 421h.9M72 421h.9M92 421h.9M93.5 421h.9M94 421h.9M95 421h.9M95.5 421h.9M96 421h.9M96.5 421h.9M97 421h.9M99 421h.9M100 421h.9M101 421h.9M101.5 421h.9M108.5 421h.9M132.5 421h.9M58 421.5h.9M59.5 421.5h.9M61.5 421.5h.9M62 421.5h.9M64 421.5h.9M66 421.5h.9M67 421.5h.9M67.5 421.5h.9M69 421.5h.9M69.5 421.5h.9M70 421.5h.9M70.5 421.5h.9M71 421.5h.9M71.5 421.5h.9M72 421.5h.9M92 421.5h.9M93 421.5h.9M94 421.5h.9M94.5 421.5h.9M95.5 421.5h.9M96.5 421.5h.9M97 421.5h.9M97.5 421.5h.9M100.5 421.5h.9M101 421.5h.9M58 422h.9M59.5 422h.9M60.5 422h.9M61 422h.9M61.5 422h.9M62 422h.9M62.5 422h.9M63 422h.9M64 422h.9M64.5 422h.9M66 422h.9M66.5 422h.9M67.5 422h.9M69.5 422h.9M70 422h.9M70.5 422h.9M71 422h.9M71.5 422h.9M72 422h.9M72.5 422h.9M91.5 422h.9M92 422h.9M92.5 422h.9M93 422h.9M93.5 422h.9M96 422h.9M97 422h.9M98 422h.9M99 422h.9M101.5 422h.9M103.5 422h.9M104.5 422h.9M105 422h.9M114 422h.9M30.5 422.5h.9M62.5 422.5h.9M64.5 422.5h.9M65 422.5h.9M66 422.5h.9M66.5 422.5h.9M68 422.5h.9M69.5 422.5h.9M70.5 422.5h.9M71 422.5h.9M71.5 422.5h.9M72 422.5h.9M72.5 422.5h.9M91.5 422.5h.9M92 422.5h.9M92.5 422.5h.9M93 422.5h.9M93.5 422.5h.9M94 422.5h.9M94.5 422.5h.9M95 422.5h.9M95.5 422.5h.9M96 422.5h.9M96.5 422.5h.9M97.5 422.5h.9M98 422.5h.9M99 422.5h.9M100 422.5h.9M101 422.5h.9M102 422.5h.9M103 422.5h.9M104 422.5h.9M109.5 422.5h.9M112.5 422.5h.9M116.5 422.5h.9M120.5 422.5h.9M59.5 423h.9M62 423h.9M63.5 423h.9M64 423h.9M65.5 423h.9M66.5 423h.9M67 423h.9M67.5 423h.9M68 423h.9M68.5 423h.9M69 423h.9M69.5 423h.9M70 423h.9M70.5 423h.9M71.5 423h.9M72 423h.9M72.5 423h.9M91.5 423h.9M92 423h.9M92.5 423h.9M93 423h.9M93.5 423h.9M94 423h.9M94.5 423h.9M95.5 423h.9M96 423h.9M96.5 423h.9M97 423h.9M98 423h.9M101 423h.9M101.5 423h.9M104.5 423h.9M108 423h.9M113 423h.9M117.5 423h.9M133.5 423h.9M57 423.5h.9M59.5 423.5h.9M62.5 423.5h.9M63 423.5h.9M64.5 423.5h.9M65.5 423.5h.9M66 423.5h.9M66.5 423.5h.9M67 423.5h.9M67.5 423.5h.9M68 423.5h.9M69 423.5h.9M70 423.5h.9M70.5 423.5h.9M71 423.5h.9M71.5 423.5h.9M72 423.5h.9M72.5 423.5h.9M73 423.5h.9M91.5 423.5h.9M92 423.5h.9M92.5 423.5h.9M93 423.5h.9M93.5 423.5h.9M94 423.5h.9M94.5 423.5h.9M95 423.5h.9M95.5 423.5h.9M96 423.5h.9M97 423.5h.9M97.5 423.5h.9M99.5 423.5h.9M100.5 423.5h.9M103 423.5h.9M103.5 423.5h.9M115.5 423.5h.9M44.5 424h.9M59 424h.9M63.5 424h.9M64.5 424h.9M65.5 424h.9M66 424h.9M66.5 424h.9M67 424h.9M67.5 424h.9M68.5 424h.9M69 424h.9M70 424h.9M70.5 424h.9M71 424h.9M71.5 424h.9M72 424h.9M72.5 424h.9M73 424h.9M91.5 424h.9M92 424h.9M92.5 424h.9M93 424h.9M93.5 424h.9M94 424h.9M94.5 424h.9M95 424h.9M96 424h.9M97 424h.9M98.5 424h.9M99 424h.9M100 424h.9M101.5 424h.9M102.5 424h.9M107 424h.9M108 424h.9M110 424h.9M115.5 424h.9M118 424h.9M128 424h.9M130.5 424h.9M31 424.5h.9M39 424.5h.9M43 424.5h.9M46.5 424.5h.9M49 424.5h.9M57 424.5h.9M57.5 424.5h.9M58.5 424.5h.9M59.5 424.5h.9M64.5 424.5h.9M66 424.5h.9M66.5 424.5h.9M67.5 424.5h.9M68 424.5h.9M69 424.5h.9M70 424.5h.9M70.5 424.5h.9M71 424.5h.9M71.5 424.5h.9M72 424.5h.9M72.5 424.5h.9M73 424.5h.9M91 424.5h.9M91.5 424.5h.9M92 424.5h.9M92.5 424.5h.9M93 424.5h.9M93.5 424.5h.9M94 424.5h.9M94.5 424.5h.9M95 424.5h.9M95.5 424.5h.9M96.5 424.5h.9M97 424.5h.9M97.5 424.5h.9M99 424.5h.9M102 424.5h.9M104 424.5h.9M104.5 424.5h.9M108.5 424.5h.9M109 424.5h.9M53 425h.9M55 425h.9M56.5 425h.9M57.5 425h.9M61.5 425h.9M62.5 425h.9M63 425h.9M63.5 425h.9M66.5 425h.9M67 425h.9M67.5 425h.9M68 425h.9M68.5 425h.9M69 425h.9M70 425h.9M70.5 425h.9M71 425h.9M71.5 425h.9M72 425h.9M72.5 425h.9M73 425h.9M91 425h.9M91.5 425h.9M92 425h.9M92.5 425h.9M93 425h.9M93.5 425h.9M94 425h.9M94.5 425h.9M95 425h.9M96 425h.9M99 425h.9M101 425h.9M102 425h.9M103 425h.9M103.5 425h.9M104.5 425h.9M108.5 425h.9M112 425h.9M113 425h.9M117.5 425h.9M123 425h.9M33 425.5h.9M44.5 425.5h.9M57.5 425.5h.9M58.5 425.5h.9M60 425.5h.9M61.5 425.5h.9M62 425.5h.9M62.5 425.5h.9M63 425.5h.9M63.5 425.5h.9M64 425.5h.9M66 425.5h.9M67 425.5h.9M67.5 425.5h.9M68 425.5h.9M69 425.5h.9M69.5 425.5h.9M70.5 425.5h.9M71 425.5h.9M71.5 425.5h.9M72 425.5h.9M72.5 425.5h.9M73 425.5h.9M91 425.5h.9M91.5 425.5h.9M92 425.5h.9M92.5 425.5h.9M93 425.5h.9M93.5 425.5h.9M94 425.5h.9M94.5 425.5h.9M95.5 425.5h.9M96 425.5h.9M97 425.5h.9M98 425.5h.9M99 425.5h.9M99.5 425.5h.9M102 425.5h.9M102.5 425.5h.9M106.5 425.5h.9M109.5 425.5h.9M112.5 425.5h.9M113.5 425.5h.9M116 425.5h.9M116.5 425.5h.9M34 426h.9M49 426h.9M62 426h.9M63 426h.9M64.5 426h.9M65.5 426h.9M66 426h.9M66.5 426h.9M67 426h.9M68 426h.9M68.5 426h.9M69 426h.9M70 426h.9M70.5 426h.9M71 426h.9M71.5 426h.9M72 426h.9M72.5 426h.9M73 426h.9M90.5 426h.9M91 426h.9M91.5 426h.9M92 426h.9M92.5 426h.9M93 426h.9M93.5 426h.9M94 426h.9M94.5 426h.9M95 426h.9M96 426h.9M96.5 426h.9M97 426h.9M97.5 426h.9M98 426h.9M98.5 426h.9M99 426h.9M101 426h.9M103 426h.9M103.5 426h.9M105 426h.9M107 426h.9M113 426h.9M60 426.5h.9M65 426.5h.9M67.5 426.5h.9M68 426.5h.9M68.5 426.5h.9M69 426.5h.9M69.5 426.5h.9M70 426.5h.9M70.5 426.5h.9M71 426.5h.9M71.5 426.5h.9M72.5 426.5h.9M73 426.5h.9M73.5 426.5h.9M90.5 426.5h.9M91 426.5h.9M91.5 426.5h.9M92 426.5h.9M92.5 426.5h.9M93 426.5h.9M93.5 426.5h.9M94 426.5h.9M94.5 426.5h.9M95 426.5h.9M95.5 426.5h.9M97 426.5h.9M97.5 426.5h.9M98.5 426.5h.9M99 426.5h.9M99.5 426.5h.9M100.5 426.5h.9M101.5 426.5h.9M105.5 426.5h.9M115 426.5h.9M116 426.5h.9M119 426.5h.9M58.5 427h.9M64.5 427h.9M65.5 427h.9M67 427h.9M68 427h.9M69 427h.9M69.5 427h.9M70 427h.9M70.5 427h.9M71 427h.9M71.5 427h.9M72 427h.9M72.5 427h.9M73 427h.9M73.5 427h.9M90.5 427h.9M91 427h.9M91.5 427h.9M92 427h.9M92.5 427h.9M93 427h.9M94 427h.9M95.5 427h.9M96 427h.9M96.5 427h.9M97 427h.9M97.5 427h.9M100 427h.9M103 427h.9M104 427h.9M110 427h.9M42.5 427.5h.9M46 427.5h.9M53.5 427.5h.9M61 427.5h.9M61.5 427.5h.9M62 427.5h.9M63 427.5h.9M64.5 427.5h.9M66 427.5h.9M67 427.5h.9M67.5 427.5h.9M68.5 427.5h.9M69 427.5h.9M69.5 427.5h.9M70 427.5h.9M70.5 427.5h.9M71.5 427.5h.9M72 427.5h.9M72.5 427.5h.9M73 427.5h.9M73.5 427.5h.9M90.5 427.5h.9M91 427.5h.9M91.5 427.5h.9M92 427.5h.9M93 427.5h.9M93.5 427.5h.9M94 427.5h.9M94.5 427.5h.9M95 427.5h.9M95.5 427.5h.9M96.5 427.5h.9M97 427.5h.9M97.5 427.5h.9M98 427.5h.9M98.5 427.5h.9M99 427.5h.9M102 427.5h.9M102.5 427.5h.9M103 427.5h.9M104.5 427.5h.9M109 427.5h.9M135 427.5h.9M62.5 428h.9M63 428h.9M63.5 428h.9M64 428h.9M64.5 428h.9M65.5 428h.9M66 428h.9M67 428h.9M67.5 428h.9M68 428h.9M68.5 428h.9M69.5 428h.9M70 428h.9M70.5 428h.9M71 428h.9M71.5 428h.9M72 428h.9M72.5 428h.9M73 428h.9M73.5 428h.9M90.5 428h.9M91.5 428h.9M92 428h.9M93 428h.9M93.5 428h.9M94 428h.9M94.5 428h.9M95 428h.9M96.5 428h.9M97 428h.9M97.5 428h.9M98 428h.9M98.5 428h.9M99 428h.9M102 428h.9M102.5 428h.9M106.5 428h.9M110 428h.9M120.5 428h.9M64 428.5h.9M67 428.5h.9M69 428.5h.9M69.5 428.5h.9M70 428.5h.9M70.5 428.5h.9M71.5 428.5h.9M72 428.5h.9M72.5 428.5h.9M73 428.5h.9M73.5 428.5h.9M90.5 428.5h.9M91.5 428.5h.9M92 428.5h.9M92.5 428.5h.9M93 428.5h.9M93.5 428.5h.9M94 428.5h.9M94.5 428.5h.9M95 428.5h.9M95.5 428.5h.9M96 428.5h.9M97.5 428.5h.9M99 428.5h.9M99.5 428.5h.9M100 428.5h.9M100.5 428.5h.9M101 428.5h.9M101.5 428.5h.9M102 428.5h.9M52 429h.9M55.5 429h.9M57.5 429h.9M60 429h.9M61 429h.9M63 429h.9M63.5 429h.9M64 429h.9M65 429h.9M65.5 429h.9M66 429h.9M67 429h.9M67.5 429h.9M69 429h.9M69.5 429h.9M70 429h.9M70.5 429h.9M71 429h.9M71.5 429h.9M72 429h.9M72.5 429h.9M73.5 429h.9M74 429h.9M90 429h.9M90.5 429h.9M91 429h.9M91.5 429h.9M92 429h.9M92.5 429h.9M93 429h.9M94 429h.9M94.5 429h.9M95 429h.9M95.5 429h.9M96.5 429h.9M97 429h.9M98.5 429h.9M99 429h.9M99.5 429h.9M100 429h.9M101 429h.9M103.5 429h.9M105 429h.9M106 429h.9M107 429h.9M112 429h.9M120 429h.9M121.5 429h.9M39.5 429.5h.9M49 429.5h.9M57 429.5h.9M59 429.5h.9M60 429.5h.9M61 429.5h.9M63.5 429.5h.9M64 429.5h.9M64.5 429.5h.9M65 429.5h.9M66.5 429.5h.9M67 429.5h.9M67.5 429.5h.9M68 429.5h.9M69 429.5h.9M69.5 429.5h.9M70 429.5h.9M70.5 429.5h.9M71 429.5h.9M71.5 429.5h.9M72 429.5h.9M72.5 429.5h.9M73 429.5h.9M73.5 429.5h.9M74 429.5h.9M90 429.5h.9M90.5 429.5h.9M91 429.5h.9M91.5 429.5h.9M92 429.5h.9M93 429.5h.9M93.5 429.5h.9M94.5 429.5h.9M96 429.5h.9M97 429.5h.9M98 429.5h.9M98.5 429.5h.9M99.5 429.5h.9M100 429.5h.9M102.5 429.5h.9M105.5 429.5h.9M107 429.5h.9M109 429.5h.9M32 430h.9M48.5 430h.9M49 430h.9M59.5 430h.9M60 430h.9M66.5 430h.9M67.5 430h.9M68 430h.9M68.5 430h.9M69 430h.9M69.5 430h.9M70 430h.9M70.5 430h.9M71 430h.9M71.5 430h.9M72 430h.9M72.5 430h.9M73 430h.9M73.5 430h.9M74 430h.9M90 430h.9M90.5 430h.9M91 430h.9M91.5 430h.9M92.5 430h.9M93 430h.9M94 430h.9M94.5 430h.9M95 430h.9M95.5 430h.9M96 430h.9M96.5 430h.9M97 430h.9M97.5 430h.9M98 430h.9M99 430h.9M100.5 430h.9M102.5 430h.9M105 430h.9M109.5 430h.9M113 430h.9M114 430h.9M52 430.5h.9M56.5 430.5h.9M60.5 430.5h.9M62 430.5h.9M62.5 430.5h.9M63.5 430.5h.9M64.5 430.5h.9M65.5 430.5h.9M66.5 430.5h.9M67 430.5h.9M67.5 430.5h.9M68 430.5h.9M68.5 430.5h.9M69 430.5h.9M69.5 430.5h.9M70.5 430.5h.9M71 430.5h.9M72.5 430.5h.9M73 430.5h.9M73.5 430.5h.9M74 430.5h.9M90 430.5h.9M90.5 430.5h.9M91 430.5h.9M91.5 430.5h.9M92 430.5h.9M93 430.5h.9M94 430.5h.9M95 430.5h.9M95.5 430.5h.9M96 430.5h.9M97 430.5h.9M97.5 430.5h.9M98 430.5h.9M98.5 430.5h.9M100 430.5h.9M101.5 430.5h.9M107 430.5h.9M113 430.5h.9M116 430.5h.9M136 430.5h.9M47.5 431h.9M58 431h.9M58.5 431h.9M60 431h.9M63.5 431h.9M64.5 431h.9M65.5 431h.9M66 431h.9M67 431h.9M67.5 431h.9M68.5 431h.9M69.5 431h.9M70 431h.9M70.5 431h.9M71 431h.9M71.5 431h.9M72 431h.9M72.5 431h.9M73 431h.9M73.5 431h.9M74 431h.9M90 431h.9M90.5 431h.9M91 431h.9M91.5 431h.9M92 431h.9M92.5 431h.9M93 431h.9M93.5 431h.9M94 431h.9M94.5 431h.9M95 431h.9M96 431h.9M97.5 431h.9M99 431h.9M99.5 431h.9M100 431h.9M102 431h.9M102.5 431h.9M104 431h.9M128.5 431h.9M54.5 431.5h.9M58.5 431.5h.9M61 431.5h.9M61.5 431.5h.9M62.5 431.5h.9M63.5 431.5h.9M64 431.5h.9M64.5 431.5h.9M65.5 431.5h.9M66.5 431.5h.9M67 431.5h.9M68 431.5h.9M69 431.5h.9M69.5 431.5h.9M70 431.5h.9M70.5 431.5h.9M71 431.5h.9M72.5 431.5h.9M73 431.5h.9M74 431.5h.9M90 431.5h.9M90.5 431.5h.9M91 431.5h.9M91.5 431.5h.9M92 431.5h.9M92.5 431.5h.9M93 431.5h.9M93.5 431.5h.9M94 431.5h.9M94.5 431.5h.9M95 431.5h.9M95.5 431.5h.9M96 431.5h.9M97 431.5h.9M97.5 431.5h.9M98 431.5h.9M98.5 431.5h.9M101 431.5h.9M103.5 431.5h.9M104 431.5h.9M130.5 431.5h.9M54.5 432h.9M56.5 432h.9M60 432h.9M64 432h.9M65.5 432h.9M66.5 432h.9M68 432h.9M69 432h.9M69.5 432h.9M70 432h.9M70.5 432h.9M71 432h.9M71.5 432h.9M72 432h.9M72.5 432h.9M73 432h.9M73.5 432h.9M74 432h.9M74.5 432h.9M89.5 432h.9M90 432h.9M90.5 432h.9M91 432h.9M91.5 432h.9M92 432h.9M92.5 432h.9M93 432h.9M93.5 432h.9M94 432h.9M94.5 432h.9M95 432h.9M95.5 432h.9M96 432h.9M96.5 432h.9M97 432h.9M98 432h.9M98.5 432h.9M99 432h.9M105.5 432h.9M108 432h.9M110.5 432h.9M123.5 432h.9M52.5 432.5h.9M58.5 432.5h.9M59 432.5h.9M62.5 432.5h.9M65 432.5h.9M66.5 432.5h.9M67 432.5h.9M67.5 432.5h.9M68.5 432.5h.9M69 432.5h.9M69.5 432.5h.9M70 432.5h.9M70.5 432.5h.9M71 432.5h.9M72 432.5h.9M72.5 432.5h.9M73 432.5h.9M73.5 432.5h.9M74 432.5h.9M74.5 432.5h.9M89.5 432.5h.9M90 432.5h.9M90.5 432.5h.9M91 432.5h.9M91.5 432.5h.9M92 432.5h.9M92.5 432.5h.9M93 432.5h.9M93.5 432.5h.9M94 432.5h.9M94.5 432.5h.9M95 432.5h.9M95.5 432.5h.9M96 432.5h.9M96.5 432.5h.9M97.5 432.5h.9M98 432.5h.9M98.5 432.5h.9M99 432.5h.9M100 432.5h.9M108 432.5h.9M110.5 432.5h.9M111.5 432.5h.9M124.5 432.5h.9M48.5 433h.9M54 433h.9M55.5 433h.9M58 433h.9M60.5 433h.9M62 433h.9M63.5 433h.9M66 433h.9M66.5 433h.9M68.5 433h.9M69.5 433h.9M70 433h.9M71 433h.9M71.5 433h.9M72 433h.9M72.5 433h.9M73.5 433h.9M74 433h.9M74.5 433h.9M89.5 433h.9M90 433h.9M90.5 433h.9M91.5 433h.9M92 433h.9M92.5 433h.9M93 433h.9M93.5 433h.9M94 433h.9M94.5 433h.9M95 433h.9M95.5 433h.9M96.5 433h.9M97 433h.9M97.5 433h.9M98 433h.9M99 433h.9M99.5 433h.9M100 433h.9M104.5 433h.9M105 433h.9M107 433h.9M110 433h.9M114 433h.9M119.5 433h.9M124.5 433h.9M128.5 433h.9M28 433.5h.9M37.5 433.5h.9M43.5 433.5h.9M47 433.5h.9M50.5 433.5h.9M56.5 433.5h.9M62.5 433.5h.9M63 433.5h.9M63.5 433.5h.9M65 433.5h.9M65.5 433.5h.9M66 433.5h.9M66.5 433.5h.9M67.5 433.5h.9M68.5 433.5h.9M69 433.5h.9M69.5 433.5h.9M70 433.5h.9M70.5 433.5h.9M71 433.5h.9M72 433.5h.9M72.5 433.5h.9M73 433.5h.9M73.5 433.5h.9M74 433.5h.9M74.5 433.5h.9M89.5 433.5h.9M90 433.5h.9M90.5 433.5h.9M91.5 433.5h.9M92 433.5h.9M92.5 433.5h.9M93 433.5h.9M93.5 433.5h.9M94.5 433.5h.9M95 433.5h.9M95.5 433.5h.9M96 433.5h.9M96.5 433.5h.9M97 433.5h.9M98 433.5h.9M100 433.5h.9M102 433.5h.9M104 433.5h.9M107 433.5h.9M112 433.5h.9M117.5 433.5h.9M121.5 433.5h.9M47 434h.9M48.5 434h.9M49 434h.9M60.5 434h.9M62.5 434h.9M64.5 434h.9M65 434h.9M68 434h.9M68.5 434h.9M69 434h.9M69.5 434h.9M70 434h.9M70.5 434h.9M71 434h.9M71.5 434h.9M72 434h.9M72.5 434h.9M73 434h.9M73.5 434h.9M74 434h.9M74.5 434h.9M89.5 434h.9M90 434h.9M90.5 434h.9M91 434h.9M91.5 434h.9M92.5 434h.9M93 434h.9M93.5 434h.9M94 434h.9M94.5 434h.9M95 434h.9M95.5 434h.9M96 434h.9M96.5 434h.9M97 434h.9M97.5 434h.9M100.5 434h.9M101 434h.9M103.5 434h.9M106.5 434h.9M113 434h.9M117 434h.9M119.5 434h.9M123 434h.9M53.5 434.5h.9M55 434.5h.9M59.5 434.5h.9M60 434.5h.9M61 434.5h.9M62.5 434.5h.9M65 434.5h.9M66.5 434.5h.9M67.5 434.5h.9M68 434.5h.9M69 434.5h.9M70.5 434.5h.9M71 434.5h.9M71.5 434.5h.9M72 434.5h.9M72.5 434.5h.9M73 434.5h.9M73.5 434.5h.9M74 434.5h.9M74.5 434.5h.9M89.5 434.5h.9M90 434.5h.9M90.5 434.5h.9M91 434.5h.9M91.5 434.5h.9M92 434.5h.9M92.5 434.5h.9M93 434.5h.9M93.5 434.5h.9M94 434.5h.9M94.5 434.5h.9M95.5 434.5h.9M98 434.5h.9M98.5 434.5h.9M100 434.5h.9M102 434.5h.9M103.5 434.5h.9M104 434.5h.9M111.5 434.5h.9M41.5 435h.9M46 435h.9M61 435h.9M61.5 435h.9M65.5 435h.9M66 435h.9M66.5 435h.9M67 435h.9M67.5 435h.9M68.5 435h.9M69 435h.9M69.5 435h.9M70 435h.9M70.5 435h.9M71.5 435h.9M72 435h.9M72.5 435h.9M73 435h.9M73.5 435h.9M74 435h.9M74.5 435h.9M75 435h.9M89 435h.9M90 435h.9M90.5 435h.9M91 435h.9M91.5 435h.9M92 435h.9M92.5 435h.9M93 435h.9M93.5 435h.9M94 435h.9M94.5 435h.9M95 435h.9M96.5 435h.9M97 435h.9M98 435h.9M101.5 435h.9M102.5 435h.9M106 435h.9M109 435h.9M44 435.5h.9M46 435.5h.9M53 435.5h.9M55.5 435.5h.9M60.5 435.5h.9M62 435.5h.9M62.5 435.5h.9M64.5 435.5h.9M66 435.5h.9M66.5 435.5h.9M68 435.5h.9M69 435.5h.9M70 435.5h.9M70.5 435.5h.9M71 435.5h.9M71.5 435.5h.9M72 435.5h.9M72.5 435.5h.9M73 435.5h.9M73.5 435.5h.9M74 435.5h.9M74.5 435.5h.9M75 435.5h.9M89 435.5h.9M89.5 435.5h.9M90 435.5h.9M90.5 435.5h.9M91 435.5h.9M91.5 435.5h.9M92 435.5h.9M92.5 435.5h.9M93 435.5h.9M93.5 435.5h.9M94 435.5h.9M94.5 435.5h.9M96 435.5h.9M96.5 435.5h.9M97 435.5h.9M100.5 435.5h.9M102 435.5h.9M103 435.5h.9M103.5 435.5h.9M41 436h.9M44.5 436h.9M60 436h.9M62.5 436h.9M63 436h.9M63.5 436h.9M65 436h.9M66 436h.9M66.5 436h.9M67 436h.9M68 436h.9M68.5 436h.9M69 436h.9M69.5 436h.9M70 436h.9M70.5 436h.9M71 436h.9M71.5 436h.9M72 436h.9M72.5 436h.9M73 436h.9M73.5 436h.9M74 436h.9M74.5 436h.9M75 436h.9M89 436h.9M89.5 436h.9M90 436h.9M90.5 436h.9M91 436h.9M91.5 436h.9M92 436h.9M92.5 436h.9M93 436h.9M93.5 436h.9M94 436h.9M94.5 436h.9M95 436h.9M95.5 436h.9M96 436h.9M96.5 436h.9M97 436h.9M97.5 436h.9M99 436h.9M99.5 436h.9M100 436h.9M102 436h.9M103 436h.9M111.5 436h.9M136 436h.9M40.5 436.5h.9M44 436.5h.9M56 436.5h.9M59 436.5h.9M59.5 436.5h.9M63.5 436.5h.9M64 436.5h.9M64.5 436.5h.9M66 436.5h.9M66.5 436.5h.9M67 436.5h.9M68 436.5h.9M70 436.5h.9M70.5 436.5h.9M72 436.5h.9M72.5 436.5h.9M73 436.5h.9M73.5 436.5h.9M74 436.5h.9M74.5 436.5h.9M75 436.5h.9M88.5 436.5h.9M89 436.5h.9M89.5 436.5h.9M90 436.5h.9M90.5 436.5h.9M91 436.5h.9M91.5 436.5h.9M92 436.5h.9M92.5 436.5h.9M93 436.5h.9M94.5 436.5h.9M95 436.5h.9M95.5 436.5h.9M96 436.5h.9M96.5 436.5h.9M97.5 436.5h.9M98 436.5h.9M99.5 436.5h.9M100.5 436.5h.9M105.5 436.5h.9M106 436.5h.9M106.5 436.5h.9M119 436.5h.9M43 437h.9M53.5 437h.9M58.5 437h.9M59 437h.9M61 437h.9M63 437h.9M64 437h.9M66 437h.9M67 437h.9M67.5 437h.9M68 437h.9M68.5 437h.9M69.5 437h.9M70 437h.9M70.5 437h.9M71.5 437h.9M72 437h.9M72.5 437h.9M73 437h.9M73.5 437h.9M74 437h.9M74.5 437h.9M75 437h.9M75.5 437h.9M88.5 437h.9M89 437h.9M89.5 437h.9M90 437h.9M90.5 437h.9M91 437h.9M91.5 437h.9M92 437h.9M93 437h.9M93.5 437h.9M94 437h.9M95 437h.9M95.5 437h.9M96 437h.9M96.5 437h.9M99.5 437h.9M104 437h.9M111 437h.9M115.5 437h.9M117 437h.9M123 437h.9M26.5 437.5h.9M51.5 437.5h.9M52.5 437.5h.9M58 437.5h.9M58.5 437.5h.9M62 437.5h.9M63 437.5h.9M63.5 437.5h.9M64 437.5h.9M64.5 437.5h.9M65 437.5h.9M66 437.5h.9M66.5 437.5h.9M68 437.5h.9M68.5 437.5h.9M69.5 437.5h.9M70 437.5h.9M70.5 437.5h.9M71.5 437.5h.9M72.5 437.5h.9M73 437.5h.9M73.5 437.5h.9M74 437.5h.9M74.5 437.5h.9M75 437.5h.9M75.5 437.5h.9M88.5 437.5h.9M89 437.5h.9M89.5 437.5h.9M90 437.5h.9M90.5 437.5h.9M91 437.5h.9M91.5 437.5h.9M92 437.5h.9M92.5 437.5h.9M93 437.5h.9M93.5 437.5h.9M94.5 437.5h.9M95 437.5h.9M95.5 437.5h.9M96.5 437.5h.9M97.5 437.5h.9M98 437.5h.9M98.5 437.5h.9M100.5 437.5h.9M101 437.5h.9M102 437.5h.9M103 437.5h.9M104 437.5h.9M104.5 437.5h.9M107 437.5h.9M108 437.5h.9M110.5 437.5h.9M57.5 438h.9M60 438h.9M60.5 438h.9M61.5 438h.9M62 438h.9M63.5 438h.9M64.5 438h.9M65 438h.9M68 438h.9M68.5 438h.9M69 438h.9M69.5 438h.9M70.5 438h.9M71 438h.9M71.5 438h.9M72 438h.9M72.5 438h.9M73 438h.9M73.5 438h.9M74 438h.9M74.5 438h.9M75 438h.9M75.5 438h.9M88.5 438h.9M89 438h.9M89.5 438h.9M90 438h.9M90.5 438h.9M91 438h.9M91.5 438h.9M92 438h.9M92.5 438h.9M93 438h.9M93.5 438h.9M94 438h.9M94.5 438h.9M95 438h.9M96 438h.9M96.5 438h.9M97 438h.9M97.5 438h.9M98 438h.9M98.5 438h.9M99 438h.9M100 438h.9M102.5 438h.9M103.5 438h.9M105.5 438h.9M108.5 438h.9M110 438h.9M119.5 438h.9M122.5 438h.9M130.5 438h.9M47 438.5h.9M57 438.5h.9M58.5 438.5h.9M60.5 438.5h.9M64 438.5h.9M65 438.5h.9M65.5 438.5h.9M67 438.5h.9M67.5 438.5h.9M68 438.5h.9M68.5 438.5h.9M69.5 438.5h.9M70.5 438.5h.9M71 438.5h.9M71.5 438.5h.9M72 438.5h.9M72.5 438.5h.9M73 438.5h.9M73.5 438.5h.9M74 438.5h.9M74.5 438.5h.9M75 438.5h.9M75.5 438.5h.9M88.5 438.5h.9M89 438.5h.9M89.5 438.5h.9M90 438.5h.9M90.5 438.5h.9M91 438.5h.9M91.5 438.5h.9M92 438.5h.9M92.5 438.5h.9M93 438.5h.9M93.5 438.5h.9M94 438.5h.9M94.5 438.5h.9M95 438.5h.9M95.5 438.5h.9M96 438.5h.9M96.5 438.5h.9M97 438.5h.9M100.5 438.5h.9M101 438.5h.9M104.5 438.5h.9M116 438.5h.9M117.5 438.5h.9M51.5 439h.9M52 439h.9M57 439h.9M57.5 439h.9M60.5 439h.9M61 439h.9M65.5 439h.9M66 439h.9M67.5 439h.9M68.5 439h.9M69 439h.9M69.5 439h.9M70 439h.9M70.5 439h.9M71 439h.9M71.5 439h.9M72 439h.9M72.5 439h.9M73 439h.9M73.5 439h.9M74 439h.9M74.5 439h.9M75 439h.9M75.5 439h.9M88.5 439h.9M89 439h.9M89.5 439h.9M90 439h.9M90.5 439h.9M91 439h.9M91.5 439h.9M92 439h.9M92.5 439h.9M93 439h.9M94 439h.9M95 439h.9M97 439h.9M100.5 439h.9M101 439h.9M101.5 439h.9M103 439h.9M105 439h.9M108 439h.9M118.5 439h.9M42 439.5h.9M44.5 439.5h.9M45.5 439.5h.9M48 439.5h.9M49.5 439.5h.9M50.5 439.5h.9M52 439.5h.9M56.5 439.5h.9M57 439.5h.9M60 439.5h.9M63.5 439.5h.9M65 439.5h.9M67 439.5h.9M67.5 439.5h.9M68.5 439.5h.9M69 439.5h.9M69.5 439.5h.9M70 439.5h.9M70.5 439.5h.9M71 439.5h.9M71.5 439.5h.9M72 439.5h.9M72.5 439.5h.9M73 439.5h.9M73.5 439.5h.9M74 439.5h.9M74.5 439.5h.9M75 439.5h.9M75.5 439.5h.9M76 439.5h.9M88 439.5h.9M88.5 439.5h.9M89 439.5h.9M89.5 439.5h.9M90 439.5h.9M90.5 439.5h.9M91 439.5h.9M92 439.5h.9M93 439.5h.9M94 439.5h.9M94.5 439.5h.9M95 439.5h.9M95.5 439.5h.9M96 439.5h.9M96.5 439.5h.9M97 439.5h.9M98 439.5h.9M98.5 439.5h.9M99 439.5h.9M99.5 439.5h.9M100 439.5h.9M103 439.5h.9M104.5 439.5h.9M106.5 439.5h.9M116.5 439.5h.9M122 439.5h.9M35 440h.9M46.5 440h.9M53 440h.9M53.5 440h.9M59 440h.9M61.5 440h.9M63 440h.9M64.5 440h.9M66 440h.9M66.5 440h.9M67 440h.9M67.5 440h.9M68 440h.9M68.5 440h.9M69 440h.9M69.5 440h.9M70 440h.9M70.5 440h.9M71 440h.9M71.5 440h.9M72 440h.9M72.5 440h.9M73 440h.9M73.5 440h.9M74 440h.9M74.5 440h.9M75 440h.9M75.5 440h.9M76 440h.9M88 440h.9M88.5 440h.9M89 440h.9M89.5 440h.9M90 440h.9M90.5 440h.9M91 440h.9M91.5 440h.9M92 440h.9M92.5 440h.9M93 440h.9M93.5 440h.9M94 440h.9M94.5 440h.9M97 440h.9M97.5 440h.9M98 440h.9M101 440h.9M103 440h.9M103.5 440h.9M112 440h.9M117 440h.9M32 440.5h.9M39 440.5h.9M41 440.5h.9M54.5 440.5h.9M55.5 440.5h.9M57 440.5h.9M59.5 440.5h.9M60.5 440.5h.9M61 440.5h.9M62 440.5h.9M63 440.5h.9M66 440.5h.9M67 440.5h.9M67.5 440.5h.9M68 440.5h.9M68.5 440.5h.9M69 440.5h.9M70 440.5h.9M70.5 440.5h.9M71 440.5h.9M71.5 440.5h.9M72 440.5h.9M72.5 440.5h.9M73 440.5h.9M73.5 440.5h.9M74 440.5h.9M74.5 440.5h.9M75 440.5h.9M75.5 440.5h.9M76 440.5h.9M88 440.5h.9M88.5 440.5h.9M89 440.5h.9M89.5 440.5h.9M90 440.5h.9M90.5 440.5h.9M91 440.5h.9M91.5 440.5h.9M92 440.5h.9M92.5 440.5h.9M93 440.5h.9M93.5 440.5h.9M94 440.5h.9M94.5 440.5h.9M95.5 440.5h.9M96 440.5h.9M97 440.5h.9M98 440.5h.9M98.5 440.5h.9M99 440.5h.9M99.5 440.5h.9M100.5 440.5h.9M101.5 440.5h.9M103.5 440.5h.9M104 440.5h.9M105 440.5h.9M108 440.5h.9M108.5 440.5h.9M30.5 441h.9M61 441h.9M62 441h.9M64 441h.9M65 441h.9M66 441h.9M66.5 441h.9M67 441h.9M67.5 441h.9M68.5 441h.9M69 441h.9M69.5 441h.9M70 441h.9M71.5 441h.9M72 441h.9M72.5 441h.9M73 441h.9M73.5 441h.9M74 441h.9M74.5 441h.9M75.5 441h.9M76 441h.9M87.5 441h.9M88 441h.9M88.5 441h.9M89 441h.9M89.5 441h.9M90 441h.9M90.5 441h.9M91 441h.9M91.5 441h.9M92 441h.9M92.5 441h.9M93 441h.9M93.5 441h.9M94 441h.9M94.5 441h.9M95 441h.9M95.5 441h.9M96 441h.9M96.5 441h.9M97 441h.9M97.5 441h.9M99.5 441h.9M102 441h.9M102.5 441h.9M103.5 441h.9M124.5 441h.9M42.5 441.5h.9M46.5 441.5h.9M54 441.5h.9M58.5 441.5h.9M59 441.5h.9M59.5 441.5h.9M61.5 441.5h.9M62 441.5h.9M64.5 441.5h.9M66 441.5h.9M66.5 441.5h.9M69 441.5h.9M69.5 441.5h.9M70 441.5h.9M70.5 441.5h.9M71 441.5h.9M71.5 441.5h.9M72 441.5h.9M72.5 441.5h.9M73 441.5h.9M73.5 441.5h.9M74 441.5h.9M74.5 441.5h.9M75 441.5h.9M75.5 441.5h.9M76 441.5h.9M76.5 441.5h.9M88 441.5h.9M88.5 441.5h.9M89 441.5h.9M89.5 441.5h.9M90 441.5h.9M90.5 441.5h.9M91 441.5h.9M91.5 441.5h.9M92.5 441.5h.9M93 441.5h.9M93.5 441.5h.9M95.5 441.5h.9M96 441.5h.9M96.5 441.5h.9M97 441.5h.9M98 441.5h.9M98.5 441.5h.9M99 441.5h.9M101 441.5h.9M105 441.5h.9M106 441.5h.9M107.5 441.5h.9M123 441.5h.9M132.5 441.5h.9M35 442h.9M39 442h.9M45 442h.9M64 442h.9M65 442h.9M65.5 442h.9M66.5 442h.9M67 442h.9M67.5 442h.9M68 442h.9M68.5 442h.9M69 442h.9M69.5 442h.9M70 442h.9M70.5 442h.9M71 442h.9M71.5 442h.9M72 442h.9M72.5 442h.9M73 442h.9M73.5 442h.9M74 442h.9M74.5 442h.9M75 442h.9M75.5 442h.9M76 442h.9M76.5 442h.9M87.5 442h.9M88 442h.9M88.5 442h.9M89 442h.9M89.5 442h.9M90 442h.9M90.5 442h.9M91 442h.9M91.5 442h.9M92 442h.9M93 442h.9M93.5 442h.9M94 442h.9M94.5 442h.9M95 442h.9M95.5 442h.9M96 442h.9M97.5 442h.9M98 442h.9M102 442h.9M102.5 442h.9M103 442h.9M103.5 442h.9M105 442h.9M107.5 442h.9M52.5 442.5h.9M58 442.5h.9M61.5 442.5h.9M62 442.5h.9M64 442.5h.9M65.5 442.5h.9M66 442.5h.9M67 442.5h.9M68 442.5h.9M69.5 442.5h.9M70 442.5h.9M70.5 442.5h.9M71 442.5h.9M71.5 442.5h.9M72 442.5h.9M72.5 442.5h.9M73 442.5h.9M73.5 442.5h.9M74 442.5h.9M74.5 442.5h.9M75 442.5h.9M75.5 442.5h.9M76 442.5h.9M76.5 442.5h.9M87.5 442.5h.9M88 442.5h.9M88.5 442.5h.9M89 442.5h.9M89.5 442.5h.9M90 442.5h.9M90.5 442.5h.9M91 442.5h.9M91.5 442.5h.9M92 442.5h.9M92.5 442.5h.9M93 442.5h.9M94 442.5h.9M94.5 442.5h.9M96.5 442.5h.9M97 442.5h.9M98.5 442.5h.9M99.5 442.5h.9M100.5 442.5h.9M101.5 442.5h.9M102 442.5h.9M102.5 442.5h.9M103 442.5h.9M107.5 442.5h.9M113.5 442.5h.9M124 442.5h.9M28 443h.9M55.5 443h.9M56 443h.9M62 443h.9M65.5 443h.9M66 443h.9M66.5 443h.9M67 443h.9M68 443h.9M68.5 443h.9M69 443h.9M69.5 443h.9M70.5 443h.9M71 443h.9M71.5 443h.9M72 443h.9M72.5 443h.9M73.5 443h.9M74 443h.9M74.5 443h.9M75 443h.9M75.5 443h.9M76 443h.9M76.5 443h.9M87.5 443h.9M88 443h.9M88.5 443h.9M89 443h.9M89.5 443h.9M90 443h.9M90.5 443h.9M91 443h.9M91.5 443h.9M92 443h.9M92.5 443h.9M93 443h.9M93.5 443h.9M94 443h.9M94.5 443h.9M95 443h.9M96 443h.9M96.5 443h.9M97 443h.9M98 443h.9M101 443h.9M102 443h.9M102.5 443h.9M103 443h.9M104.5 443h.9M106 443h.9M110.5 443h.9M127 443h.9M47 443.5h.9M52 443.5h.9M57 443.5h.9M61 443.5h.9M61.5 443.5h.9M62.5 443.5h.9M63 443.5h.9M63.5 443.5h.9M65 443.5h.9M66.5 443.5h.9M67 443.5h.9M67.5 443.5h.9M68 443.5h.9M68.5 443.5h.9M69 443.5h.9M69.5 443.5h.9M70.5 443.5h.9M71 443.5h.9M71.5 443.5h.9M72 443.5h.9M72.5 443.5h.9M73 443.5h.9M73.5 443.5h.9M74 443.5h.9M74.5 443.5h.9M75 443.5h.9M75.5 443.5h.9M76 443.5h.9M76.5 443.5h.9M77 443.5h.9M87 443.5h.9M87.5 443.5h.9M88 443.5h.9M88.5 443.5h.9M89 443.5h.9M89.5 443.5h.9M90 443.5h.9M90.5 443.5h.9M91 443.5h.9M91.5 443.5h.9M92 443.5h.9M92.5 443.5h.9M93 443.5h.9M94 443.5h.9M95 443.5h.9M96.5 443.5h.9M97 443.5h.9M97.5 443.5h.9M98 443.5h.9M102.5 443.5h.9M104.5 443.5h.9M109 443.5h.9M109.5 443.5h.9M110.5 443.5h.9M111 443.5h.9M116.5 443.5h.9M122 443.5h.9M49.5 444h.9M55.5 444h.9M61 444h.9M61.5 444h.9M62.5 444h.9M63.5 444h.9M64 444h.9M64.5 444h.9M65 444h.9M65.5 444h.9M67.5 444h.9M68 444h.9M68.5 444h.9M69 444h.9M69.5 444h.9M70 444h.9M71 444h.9M71.5 444h.9M72 444h.9M72.5 444h.9M73 444h.9M73.5 444h.9M74 444h.9M74.5 444h.9M75 444h.9M75.5 444h.9M76 444h.9M76.5 444h.9M77 444h.9M87 444h.9M87.5 444h.9M88 444h.9M88.5 444h.9M89 444h.9M89.5 444h.9M90 444h.9M90.5 444h.9M91.5 444h.9M92 444h.9M92.5 444h.9M93 444h.9M93.5 444h.9M94 444h.9M94.5 444h.9M95 444h.9M95.5 444h.9M96 444h.9M97 444h.9M97.5 444h.9M98 444h.9M100 444h.9M100.5 444h.9M105 444h.9M105.5 444h.9M106 444h.9M138 444h.9M27.5 444.5h.9M55.5 444.5h.9M58.5 444.5h.9M59.5 444.5h.9M60.5 444.5h.9M61.5 444.5h.9M62 444.5h.9M63 444.5h.9M63.5 444.5h.9M65.5 444.5h.9M67 444.5h.9M67.5 444.5h.9M68.5 444.5h.9M69 444.5h.9M69.5 444.5h.9M70 444.5h.9M70.5 444.5h.9M71 444.5h.9M71.5 444.5h.9M72 444.5h.9M72.5 444.5h.9M73 444.5h.9M73.5 444.5h.9M74.5 444.5h.9M75 444.5h.9M75.5 444.5h.9M76 444.5h.9M76.5 444.5h.9M77 444.5h.9M87 444.5h.9M87.5 444.5h.9M88 444.5h.9M88.5 444.5h.9M89 444.5h.9M89.5 444.5h.9M90 444.5h.9M90.5 444.5h.9M91.5 444.5h.9M92 444.5h.9M92.5 444.5h.9M93 444.5h.9M93.5 444.5h.9M94 444.5h.9M94.5 444.5h.9M95 444.5h.9M95.5 444.5h.9M96.5 444.5h.9M97 444.5h.9M98 444.5h.9M99 444.5h.9M102.5 444.5h.9M116 444.5h.9M120.5 444.5h.9M125.5 444.5h.9M42.5 445h.9M51 445h.9M57 445h.9M63 445h.9M64 445h.9M66 445h.9M66.5 445h.9M68 445h.9M68.5 445h.9M69 445h.9M70 445h.9M70.5 445h.9M71 445h.9M71.5 445h.9M72 445h.9M72.5 445h.9M73 445h.9M73.5 445h.9M74 445h.9M74.5 445h.9M75 445h.9M75.5 445h.9M76 445h.9M76.5 445h.9M77 445h.9M87 445h.9M87.5 445h.9M88 445h.9M88.5 445h.9M89 445h.9M89.5 445h.9M90 445h.9M90.5 445h.9M91 445h.9M91.5 445h.9M92 445h.9M92.5 445h.9M93 445h.9M93.5 445h.9M94 445h.9M94.5 445h.9M95 445h.9M95.5 445h.9M96 445h.9M96.5 445h.9M97.5 445h.9M99 445h.9M99.5 445h.9M100 445h.9M100.5 445h.9M103 445h.9M105.5 445h.9M109.5 445h.9M112 445h.9M56.5 445.5h.9M60.5 445.5h.9M61.5 445.5h.9M62.5 445.5h.9M64 445.5h.9M64.5 445.5h.9M65.5 445.5h.9M66 445.5h.9M67 445.5h.9M68 445.5h.9M68.5 445.5h.9M69 445.5h.9M69.5 445.5h.9M70 445.5h.9M70.5 445.5h.9M71 445.5h.9M71.5 445.5h.9M72 445.5h.9M72.5 445.5h.9M73 445.5h.9M73.5 445.5h.9M74 445.5h.9M74.5 445.5h.9M75 445.5h.9M75.5 445.5h.9M76 445.5h.9M76.5 445.5h.9M77 445.5h.9M86.5 445.5h.9M87 445.5h.9M87.5 445.5h.9M88 445.5h.9M88.5 445.5h.9M89 445.5h.9M89.5 445.5h.9M90 445.5h.9M90.5 445.5h.9M91 445.5h.9M91.5 445.5h.9M92 445.5h.9M92.5 445.5h.9M93.5 445.5h.9M95 445.5h.9M95.5 445.5h.9M96 445.5h.9M96.5 445.5h.9M97 445.5h.9M97.5 445.5h.9M98 445.5h.9M98.5 445.5h.9M100 445.5h.9M100.5 445.5h.9M103.5 445.5h.9M105.5 445.5h.9M106 445.5h.9M107.5 445.5h.9M110.5 445.5h.9M123.5 445.5h.9M46.5 446h.9M53 446h.9M61.5 446h.9M62 446h.9M63 446h.9M63.5 446h.9M64 446h.9M66 446h.9M66.5 446h.9M67.5 446h.9M68 446h.9M68.5 446h.9M69 446h.9M70 446h.9M71 446h.9M71.5 446h.9M72 446h.9M72.5 446h.9M73 446h.9M73.5 446h.9M74 446h.9M74.5 446h.9M75 446h.9M75.5 446h.9M76 446h.9M76.5 446h.9M77 446h.9M77.5 446h.9M86.5 446h.9M87 446h.9M87.5 446h.9M88 446h.9M88.5 446h.9M89 446h.9M89.5 446h.9M90 446h.9M90.5 446h.9M91.5 446h.9M92 446h.9M92.5 446h.9M93 446h.9M93.5 446h.9M94.5 446h.9M95 446h.9M95.5 446h.9M96.5 446h.9M97.5 446h.9M99 446h.9M99.5 446h.9M100 446h.9M102.5 446h.9M103 446h.9M106 446h.9M107 446h.9M107.5 446h.9M119 446h.9M122.5 446h.9M37.5 446.5h.9M46.5 446.5h.9M50.5 446.5h.9M62.5 446.5h.9M66 446.5h.9M66.5 446.5h.9M67 446.5h.9M67.5 446.5h.9M68 446.5h.9M68.5 446.5h.9M69.5 446.5h.9M70 446.5h.9M70.5 446.5h.9M71 446.5h.9M71.5 446.5h.9M72 446.5h.9M72.5 446.5h.9M73 446.5h.9M73.5 446.5h.9M74 446.5h.9M74.5 446.5h.9M75 446.5h.9M75.5 446.5h.9M76 446.5h.9M76.5 446.5h.9M77 446.5h.9M77.5 446.5h.9M86.5 446.5h.9M87 446.5h.9M87.5 446.5h.9M88 446.5h.9M88.5 446.5h.9M89 446.5h.9M89.5 446.5h.9M90 446.5h.9M90.5 446.5h.9M91 446.5h.9M91.5 446.5h.9M92 446.5h.9M92.5 446.5h.9M93 446.5h.9M94 446.5h.9M94.5 446.5h.9M95 446.5h.9M95.5 446.5h.9M96 446.5h.9M97 446.5h.9M98.5 446.5h.9M99 446.5h.9M103.5 446.5h.9M105 446.5h.9M107 446.5h.9M107.5 446.5h.9M119.5 446.5h.9M38 447h.9M39 447h.9M41 447h.9M41.5 447h.9M54.5 447h.9M58.5 447h.9M62.5 447h.9M63.5 447h.9M67 447h.9M67.5 447h.9M68 447h.9M69 447h.9M69.5 447h.9M70 447h.9M70.5 447h.9M71 447h.9M71.5 447h.9M72 447h.9M72.5 447h.9M73 447h.9M73.5 447h.9M74 447h.9M74.5 447h.9M75 447h.9M75.5 447h.9M76 447h.9M76.5 447h.9M77 447h.9M77.5 447h.9M86.5 447h.9M87 447h.9M87.5 447h.9M88 447h.9M88.5 447h.9M89 447h.9M89.5 447h.9M90 447h.9M90.5 447h.9M91 447h.9M91.5 447h.9M92 447h.9M92.5 447h.9M93 447h.9M93.5 447h.9M94.5 447h.9M95.5 447h.9M96.5 447h.9M98.5 447h.9M99 447h.9M100 447h.9M106 447h.9M115 447h.9M116.5 447h.9M49.5 447.5h.9M54 447.5h.9M61 447.5h.9M63.5 447.5h.9M64 447.5h.9M64.5 447.5h.9M65.5 447.5h.9M68 447.5h.9M68.5 447.5h.9M69.5 447.5h.9M70 447.5h.9M70.5 447.5h.9M71 447.5h.9M71.5 447.5h.9M72 447.5h.9M72.5 447.5h.9M73 447.5h.9M73.5 447.5h.9M74 447.5h.9M74.5 447.5h.9M75 447.5h.9M75.5 447.5h.9M76 447.5h.9M76.5 447.5h.9M77 447.5h.9M77.5 447.5h.9M78 447.5h.9M86.5 447.5h.9M87 447.5h.9M87.5 447.5h.9M88 447.5h.9M88.5 447.5h.9M89 447.5h.9M89.5 447.5h.9M90 447.5h.9M90.5 447.5h.9M91 447.5h.9M91.5 447.5h.9M92 447.5h.9M92.5 447.5h.9M93 447.5h.9M93.5 447.5h.9M94 447.5h.9M95 447.5h.9M95.5 447.5h.9M97 447.5h.9M97.5 447.5h.9M101 447.5h.9M105 447.5h.9M128.5 447.5h.9M38 448h.9M42 448h.9M44 448h.9M53 448h.9M54 448h.9M56.5 448h.9M57.5 448h.9M59.5 448h.9M60 448h.9M62 448h.9M63.5 448h.9M66.5 448h.9M67.5 448h.9M68.5 448h.9M69 448h.9M70.5 448h.9M71 448h.9M71.5 448h.9M72 448h.9M73 448h.9M73.5 448h.9M74 448h.9M74.5 448h.9M75 448h.9M75.5 448h.9M76 448h.9M76.5 448h.9M77 448h.9M77.5 448h.9M78 448h.9M86 448h.9M86.5 448h.9M87 448h.9M87.5 448h.9M88 448h.9M88.5 448h.9M89 448h.9M89.5 448h.9M90 448h.9M90.5 448h.9M91 448h.9M91.5 448h.9M92 448h.9M92.5 448h.9M93 448h.9M94 448h.9M94.5 448h.9M95 448h.9M95.5 448h.9M96 448h.9M96.5 448h.9M97 448h.9M97.5 448h.9M100.5 448h.9M101.5 448h.9M102 448h.9M103.5 448h.9M104 448h.9M106.5 448h.9M107 448h.9M125 448h.9M41 448.5h.9M47 448.5h.9M50.5 448.5h.9M59.5 448.5h.9M60 448.5h.9M62 448.5h.9M63.5 448.5h.9M66 448.5h.9M67.5 448.5h.9M68 448.5h.9M68.5 448.5h.9M69 448.5h.9M70 448.5h.9M71 448.5h.9M71.5 448.5h.9M72.5 448.5h.9M73 448.5h.9M73.5 448.5h.9M74 448.5h.9M74.5 448.5h.9M75 448.5h.9M75.5 448.5h.9M76 448.5h.9M76.5 448.5h.9M77 448.5h.9M77.5 448.5h.9M78 448.5h.9M86 448.5h.9M86.5 448.5h.9M87 448.5h.9M87.5 448.5h.9M88 448.5h.9M88.5 448.5h.9M89 448.5h.9M89.5 448.5h.9M90 448.5h.9M90.5 448.5h.9M91 448.5h.9M91.5 448.5h.9M92 448.5h.9M92.5 448.5h.9M93 448.5h.9M93.5 448.5h.9M94 448.5h.9M94.5 448.5h.9M95 448.5h.9M95.5 448.5h.9M96.5 448.5h.9M97 448.5h.9M97.5 448.5h.9M99.5 448.5h.9M101.5 448.5h.9M102 448.5h.9M102.5 448.5h.9M104.5 448.5h.9M105 448.5h.9M111.5 448.5h.9M113 448.5h.9M113.5 448.5h.9M123.5 448.5h.9M46 449h.9M48 449h.9M52.5 449h.9M58.5 449h.9M62.5 449h.9M63.5 449h.9M65 449h.9M65.5 449h.9M66.5 449h.9M67 449h.9M67.5 449h.9M68 449h.9M68.5 449h.9M69 449h.9M69.5 449h.9M70 449h.9M70.5 449h.9M71 449h.9M71.5 449h.9M72 449h.9M72.5 449h.9M73 449h.9M73.5 449h.9M74 449h.9M74.5 449h.9M75 449h.9M75.5 449h.9M76 449h.9M76.5 449h.9M77 449h.9M77.5 449h.9M78 449h.9M86 449h.9M86.5 449h.9M87 449h.9M87.5 449h.9M88 449h.9M88.5 449h.9M89 449h.9M89.5 449h.9M90 449h.9M90.5 449h.9M91 449h.9M91.5 449h.9M92 449h.9M93 449h.9M93.5 449h.9M94 449h.9M94.5 449h.9M95.5 449h.9M96 449h.9M96.5 449h.9M97 449h.9M98 449h.9M99 449h.9M99.5 449h.9M100 449h.9M100.5 449h.9M101 449h.9M101.5 449h.9M102 449h.9M104 449h.9M104.5 449h.9M109.5 449h.9M117.5 449h.9M124 449h.9M50.5 449.5h.9M51.5 449.5h.9M52.5 449.5h.9M54 449.5h.9M60.5 449.5h.9M62 449.5h.9M62.5 449.5h.9M63 449.5h.9M64 449.5h.9M64.5 449.5h.9M65 449.5h.9M66.5 449.5h.9M67 449.5h.9M69 449.5h.9M70 449.5h.9M70.5 449.5h.9M71 449.5h.9M72 449.5h.9M72.5 449.5h.9M73 449.5h.9M73.5 449.5h.9M74 449.5h.9M74.5 449.5h.9M75 449.5h.9M75.5 449.5h.9M76 449.5h.9M76.5 449.5h.9M77 449.5h.9M77.5 449.5h.9M78 449.5h.9M78.5 449.5h.9M86 449.5h.9M86.5 449.5h.9M87 449.5h.9M87.5 449.5h.9M88 449.5h.9M88.5 449.5h.9M89 449.5h.9M89.5 449.5h.9M90 449.5h.9M90.5 449.5h.9M91 449.5h.9M91.5 449.5h.9M92.5 449.5h.9M93 449.5h.9M93.5 449.5h.9M94.5 449.5h.9M95 449.5h.9M96 449.5h.9M97 449.5h.9M97.5 449.5h.9M98.5 449.5h.9M105 449.5h.9M105.5 449.5h.9M106 449.5h.9M108.5 449.5h.9M110.5 449.5h.9M115 449.5h.9M43 450h.9M56.5 450h.9M60.5 450h.9M61 450h.9M62.5 450h.9M65 450h.9M66 450h.9M66.5 450h.9M67 450h.9M68 450h.9M68.5 450h.9M69 450h.9M71 450h.9M72 450h.9M72.5 450h.9M73 450h.9M73.5 450h.9M74 450h.9M74.5 450h.9M75 450h.9M75.5 450h.9M76 450h.9M76.5 450h.9M77 450h.9M77.5 450h.9M78 450h.9M78.5 450h.9M85.5 450h.9M86 450h.9M86.5 450h.9M87 450h.9M87.5 450h.9M88 450h.9M88.5 450h.9M89 450h.9M89.5 450h.9M90 450h.9M90.5 450h.9M91 450h.9M91.5 450h.9M92 450h.9M92.5 450h.9M93 450h.9M93.5 450h.9M94 450h.9M94.5 450h.9M97.5 450h.9M98 450h.9M99 450h.9M99.5 450h.9M100.5 450h.9M103 450h.9M109 450h.9M110.5 450h.9M111.5 450h.9M115 450h.9M118.5 450h.9M49.5 450.5h.9M51.5 450.5h.9M60 450.5h.9M60.5 450.5h.9M61 450.5h.9M63 450.5h.9M64 450.5h.9M65 450.5h.9M66 450.5h.9M66.5 450.5h.9M67 450.5h.9M67.5 450.5h.9M68.5 450.5h.9M69 450.5h.9M70 450.5h.9M70.5 450.5h.9M71 450.5h.9M71.5 450.5h.9M72 450.5h.9M72.5 450.5h.9M73 450.5h.9M73.5 450.5h.9M74 450.5h.9M74.5 450.5h.9M75 450.5h.9M75.5 450.5h.9M76 450.5h.9M76.5 450.5h.9M77 450.5h.9M77.5 450.5h.9M78 450.5h.9M78.5 450.5h.9M85.5 450.5h.9M86 450.5h.9M86.5 450.5h.9M87 450.5h.9M87.5 450.5h.9M88 450.5h.9M88.5 450.5h.9M89 450.5h.9M89.5 450.5h.9M90 450.5h.9M90.5 450.5h.9M91 450.5h.9M91.5 450.5h.9M92 450.5h.9M92.5 450.5h.9M93.5 450.5h.9M94 450.5h.9M94.5 450.5h.9M95 450.5h.9M95.5 450.5h.9M96.5 450.5h.9M97 450.5h.9M98 450.5h.9M99.5 450.5h.9M102 450.5h.9M103 450.5h.9M106.5 450.5h.9M109.5 450.5h.9M110 450.5h.9M45.5 451h.9M50 451h.9M56 451h.9M57.5 451h.9M59 451h.9M60 451h.9M63.5 451h.9M65 451h.9M66.5 451h.9M68 451h.9M69 451h.9M69.5 451h.9M70.5 451h.9M71 451h.9M71.5 451h.9M72 451h.9M72.5 451h.9M73 451h.9M73.5 451h.9M74 451h.9M74.5 451h.9M75 451h.9M75.5 451h.9M76 451h.9M76.5 451h.9M77 451h.9M77.5 451h.9M78 451h.9M78.5 451h.9M79 451h.9M85.5 451h.9M86 451h.9M86.5 451h.9M87 451h.9M87.5 451h.9M88 451h.9M88.5 451h.9M89 451h.9M89.5 451h.9M90 451h.9M90.5 451h.9M91 451h.9M91.5 451h.9M92 451h.9M92.5 451h.9M93.5 451h.9M94.5 451h.9M95 451h.9M95.5 451h.9M96.5 451h.9M97.5 451h.9M98 451h.9M98.5 451h.9M99.5 451h.9M102 451h.9M103 451h.9M105.5 451h.9M116 451h.9M119 451h.9M42 451.5h.9M52.5 451.5h.9M54 451.5h.9M54.5 451.5h.9M55 451.5h.9M58 451.5h.9M59.5 451.5h.9M62 451.5h.9M62.5 451.5h.9M63 451.5h.9M64.5 451.5h.9M67 451.5h.9M67.5 451.5h.9M69.5 451.5h.9M70 451.5h.9M70.5 451.5h.9M71 451.5h.9M71.5 451.5h.9M72 451.5h.9M72.5 451.5h.9M73 451.5h.9M73.5 451.5h.9M74 451.5h.9M74.5 451.5h.9M75 451.5h.9M75.5 451.5h.9M76 451.5h.9M76.5 451.5h.9M77 451.5h.9M77.5 451.5h.9M78 451.5h.9M78.5 451.5h.9M79 451.5h.9M85.5 451.5h.9M86 451.5h.9M86.5 451.5h.9M87 451.5h.9M87.5 451.5h.9M88 451.5h.9M88.5 451.5h.9M89 451.5h.9M89.5 451.5h.9M90 451.5h.9M90.5 451.5h.9M91 451.5h.9M91.5 451.5h.9M92 451.5h.9M92.5 451.5h.9M93 451.5h.9M93.5 451.5h.9M94 451.5h.9M94.5 451.5h.9M95.5 451.5h.9M96 451.5h.9M97 451.5h.9M97.5 451.5h.9M98 451.5h.9M99 451.5h.9M100 451.5h.9M101.5 451.5h.9M104 451.5h.9M105.5 451.5h.9M110 451.5h.9M110.5 451.5h.9M115.5 451.5h.9M48 452h.9M52 452h.9M55 452h.9M60.5 452h.9M62.5 452h.9M63 452h.9M63.5 452h.9M64.5 452h.9M65 452h.9M66 452h.9M66.5 452h.9M68 452h.9M68.5 452h.9M69 452h.9M69.5 452h.9M70 452h.9M71 452h.9M71.5 452h.9M72 452h.9M72.5 452h.9M73 452h.9M73.5 452h.9M74 452h.9M74.5 452h.9M75 452h.9M75.5 452h.9M76 452h.9M76.5 452h.9M77 452h.9M77.5 452h.9M78 452h.9M78.5 452h.9M79 452h.9M85 452h.9M85.5 452h.9M86 452h.9M86.5 452h.9M87 452h.9M87.5 452h.9M88 452h.9M88.5 452h.9M89 452h.9M89.5 452h.9M90 452h.9M90.5 452h.9M91 452h.9M91.5 452h.9M92 452h.9M92.5 452h.9M93.5 452h.9M95 452h.9M95.5 452h.9M96 452h.9M96.5 452h.9M97.5 452h.9M98.5 452h.9M99 452h.9M100 452h.9M100.5 452h.9M103.5 452h.9M108 452h.9M110 452h.9M51 452.5h.9M56 452.5h.9M62 452.5h.9M64 452.5h.9M65.5 452.5h.9M68 452.5h.9M68.5 452.5h.9M69.5 452.5h.9M71 452.5h.9M71.5 452.5h.9M72 452.5h.9M72.5 452.5h.9M73 452.5h.9M73.5 452.5h.9M74 452.5h.9M74.5 452.5h.9M75 452.5h.9M75.5 452.5h.9M76 452.5h.9M76.5 452.5h.9M77 452.5h.9M77.5 452.5h.9M78 452.5h.9M78.5 452.5h.9M79 452.5h.9M85 452.5h.9M85.5 452.5h.9M86 452.5h.9M86.5 452.5h.9M87 452.5h.9M87.5 452.5h.9M88 452.5h.9M88.5 452.5h.9M89 452.5h.9M89.5 452.5h.9M90 452.5h.9M90.5 452.5h.9M91 452.5h.9M91.5 452.5h.9M92 452.5h.9M92.5 452.5h.9M93 452.5h.9M93.5 452.5h.9M94 452.5h.9M94.5 452.5h.9M95 452.5h.9M96 452.5h.9M96.5 452.5h.9M97 452.5h.9M97.5 452.5h.9M99 452.5h.9M99.5 452.5h.9M100 452.5h.9M102 452.5h.9M102.5 452.5h.9M108 452.5h.9M108.5 452.5h.9M118 452.5h.9M46 453h.9M48 453h.9M54 453h.9M56.5 453h.9M57 453h.9M59.5 453h.9M62.5 453h.9M64.5 453h.9M65.5 453h.9M66 453h.9M67.5 453h.9M68 453h.9M68.5 453h.9M69 453h.9M69.5 453h.9M70 453h.9M70.5 453h.9M71 453h.9M71.5 453h.9M72 453h.9M72.5 453h.9M73 453h.9M73.5 453h.9M74 453h.9M74.5 453h.9M75 453h.9M75.5 453h.9M76 453h.9M76.5 453h.9M77 453h.9M77.5 453h.9M78 453h.9M78.5 453h.9M79 453h.9M79.5 453h.9M85 453h.9M85.5 453h.9M86 453h.9M86.5 453h.9M87 453h.9M87.5 453h.9M88 453h.9M88.5 453h.9M89 453h.9M89.5 453h.9M90 453h.9M90.5 453h.9M91 453h.9M91.5 453h.9M92 453h.9M92.5 453h.9M93 453h.9M93.5 453h.9M94 453h.9M95 453h.9M95.5 453h.9M96 453h.9M96.5 453h.9M97 453h.9M100 453h.9M102 453h.9M103 453h.9M107.5 453h.9M108 453h.9M115.5 453h.9M116 453h.9M117.5 453h.9M50.5 453.5h.9M53.5 453.5h.9M57 453.5h.9M64.5 453.5h.9M66 453.5h.9M67 453.5h.9M68.5 453.5h.9M69 453.5h.9M69.5 453.5h.9M70 453.5h.9M70.5 453.5h.9M71 453.5h.9M71.5 453.5h.9M72 453.5h.9M72.5 453.5h.9M73 453.5h.9M73.5 453.5h.9M74 453.5h.9M74.5 453.5h.9M75 453.5h.9M75.5 453.5h.9M76 453.5h.9M76.5 453.5h.9M77 453.5h.9M77.5 453.5h.9M78 453.5h.9M78.5 453.5h.9M79 453.5h.9M79.5 453.5h.9M84.5 453.5h.9M85 453.5h.9M85.5 453.5h.9M86 453.5h.9M86.5 453.5h.9M87 453.5h.9M87.5 453.5h.9M88 453.5h.9M88.5 453.5h.9M89 453.5h.9M89.5 453.5h.9M90 453.5h.9M90.5 453.5h.9M91 453.5h.9M92 453.5h.9M92.5 453.5h.9M93.5 453.5h.9M94 453.5h.9M95 453.5h.9M95.5 453.5h.9M96 453.5h.9M97 453.5h.9M97.5 453.5h.9M98.5 453.5h.9M99 453.5h.9M101 453.5h.9M101.5 453.5h.9M103.5 453.5h.9M104.5 453.5h.9M110 453.5h.9M113.5 453.5h.9M48 454h.9M54.5 454h.9M60.5 454h.9M64 454h.9M65 454h.9M66.5 454h.9M68.5 454h.9M69.5 454h.9M70 454h.9M70.5 454h.9M71 454h.9M71.5 454h.9M72 454h.9M72.5 454h.9M73 454h.9M73.5 454h.9M74 454h.9M74.5 454h.9M75 454h.9M75.5 454h.9M76 454h.9M76.5 454h.9M77 454h.9M77.5 454h.9M78 454h.9M78.5 454h.9M79 454h.9M79.5 454h.9M84.5 454h.9M85 454h.9M85.5 454h.9M86 454h.9M86.5 454h.9M87 454h.9M87.5 454h.9M88 454h.9M88.5 454h.9M89 454h.9M89.5 454h.9M90 454h.9M90.5 454h.9M91 454h.9M91.5 454h.9M92 454h.9M92.5 454h.9M93 454h.9M95.5 454h.9M96.5 454h.9M97 454h.9M97.5 454h.9M100 454h.9M100.5 454h.9M104 454h.9M105 454h.9M105.5 454h.9M113.5 454h.9M114 454h.9M50 454.5h.9M56.5 454.5h.9M57.5 454.5h.9M62 454.5h.9M65 454.5h.9M66.5 454.5h.9M67 454.5h.9M68 454.5h.9M69 454.5h.9M69.5 454.5h.9M70 454.5h.9M70.5 454.5h.9M71.5 454.5h.9M72.5 454.5h.9M73 454.5h.9M73.5 454.5h.9M74 454.5h.9M74.5 454.5h.9M75 454.5h.9M75.5 454.5h.9M76 454.5h.9M76.5 454.5h.9M77 454.5h.9M77.5 454.5h.9M78 454.5h.9M78.5 454.5h.9M79 454.5h.9M79.5 454.5h.9M84.5 454.5h.9M85 454.5h.9M85.5 454.5h.9M86 454.5h.9M86.5 454.5h.9M87 454.5h.9M87.5 454.5h.9M88 454.5h.9M88.5 454.5h.9M89 454.5h.9M89.5 454.5h.9M90 454.5h.9M90.5 454.5h.9M91 454.5h.9M91.5 454.5h.9M92 454.5h.9M93.5 454.5h.9M94 454.5h.9M94.5 454.5h.9M95.5 454.5h.9M96 454.5h.9M96.5 454.5h.9M97 454.5h.9M99 454.5h.9M100.5 454.5h.9M48.5 455h.9M53 455h.9M55.5 455h.9M60 455h.9M61.5 455h.9M62.5 455h.9M63.5 455h.9M64.5 455h.9M65.5 455h.9M68 455h.9M68.5 455h.9M69 455h.9M70 455h.9M71 455h.9M71.5 455h.9M72 455h.9M72.5 455h.9M73 455h.9M74 455h.9M74.5 455h.9M75 455h.9M75.5 455h.9M76 455h.9M76.5 455h.9M77 455h.9M77.5 455h.9M78 455h.9M78.5 455h.9M79 455h.9M79.5 455h.9M80 455h.9M84 455h.9M84.5 455h.9M85 455h.9M85.5 455h.9M86 455h.9M86.5 455h.9M87 455h.9M87.5 455h.9M88 455h.9M88.5 455h.9M89 455h.9M89.5 455h.9M90 455h.9M90.5 455h.9M91 455h.9M91.5 455h.9M92 455h.9M92.5 455h.9M93 455h.9M93.5 455h.9M94 455h.9M94.5 455h.9M95 455h.9M95.5 455h.9M96 455h.9M96.5 455h.9M97 455h.9M99 455h.9M99.5 455h.9M101 455h.9M102.5 455h.9M103.5 455h.9M106 455h.9M106.5 455h.9M107 455h.9M108.5 455h.9M114.5 455h.9M115.5 455h.9M51 455.5h.9M58.5 455.5h.9M60.5 455.5h.9M61 455.5h.9M61.5 455.5h.9M65.5 455.5h.9M68 455.5h.9M68.5 455.5h.9M69 455.5h.9M69.5 455.5h.9M70.5 455.5h.9M71.5 455.5h.9M72 455.5h.9M73 455.5h.9M73.5 455.5h.9M74 455.5h.9M74.5 455.5h.9M75 455.5h.9M75.5 455.5h.9M76 455.5h.9M76.5 455.5h.9M77 455.5h.9M77.5 455.5h.9M78 455.5h.9M78.5 455.5h.9M79 455.5h.9M79.5 455.5h.9M80 455.5h.9M84 455.5h.9M84.5 455.5h.9M85 455.5h.9M85.5 455.5h.9M86 455.5h.9M86.5 455.5h.9M87 455.5h.9M87.5 455.5h.9M88 455.5h.9M88.5 455.5h.9M89.5 455.5h.9M90 455.5h.9M90.5 455.5h.9M91 455.5h.9M91.5 455.5h.9M92.5 455.5h.9M93 455.5h.9M93.5 455.5h.9M94 455.5h.9M94.5 455.5h.9M95.5 455.5h.9M96 455.5h.9M96.5 455.5h.9M97 455.5h.9M97.5 455.5h.9M99.5 455.5h.9M101.5 455.5h.9M103 455.5h.9M103.5 455.5h.9M104.5 455.5h.9M106.5 455.5h.9M52 456h.9M53.5 456h.9M64.5 456h.9M66.5 456h.9M67 456h.9M67.5 456h.9M68 456h.9M69 456h.9M69.5 456h.9M70 456h.9M70.5 456h.9M71 456h.9M71.5 456h.9M72 456h.9M72.5 456h.9M73 456h.9M73.5 456h.9M74 456h.9M74.5 456h.9M75 456h.9M75.5 456h.9M76 456h.9M76.5 456h.9M77 456h.9M77.5 456h.9M78 456h.9M78.5 456h.9M79 456h.9M79.5 456h.9M80 456h.9M84 456h.9M84.5 456h.9M85 456h.9M85.5 456h.9M86 456h.9M86.5 456h.9M87 456h.9M87.5 456h.9M88 456h.9M88.5 456h.9M89 456h.9M89.5 456h.9M90 456h.9M90.5 456h.9M91 456h.9M91.5 456h.9M92 456h.9M92.5 456h.9M93.5 456h.9M94 456h.9M94.5 456h.9M95 456h.9M95.5 456h.9M96.5 456h.9M98 456h.9M100 456h.9M103 456h.9M106.5 456h.9M108 456h.9M108.5 456h.9M113.5 456h.9M55.5 456.5h.9M57.5 456.5h.9M61 456.5h.9M63 456.5h.9M64 456.5h.9M66 456.5h.9M66.5 456.5h.9M67 456.5h.9M67.5 456.5h.9M68 456.5h.9M69 456.5h.9M69.5 456.5h.9M70 456.5h.9M70.5 456.5h.9M71 456.5h.9M71.5 456.5h.9M72 456.5h.9M72.5 456.5h.9M73 456.5h.9M73.5 456.5h.9M74 456.5h.9M74.5 456.5h.9M75 456.5h.9M75.5 456.5h.9M76 456.5h.9M76.5 456.5h.9M77 456.5h.9M77.5 456.5h.9M78 456.5h.9M78.5 456.5h.9M79 456.5h.9M79.5 456.5h.9M80 456.5h.9M84 456.5h.9M84.5 456.5h.9M85 456.5h.9M85.5 456.5h.9M86 456.5h.9M86.5 456.5h.9M87 456.5h.9M87.5 456.5h.9M88 456.5h.9M88.5 456.5h.9M89 456.5h.9M89.5 456.5h.9M90 456.5h.9M90.5 456.5h.9M91 456.5h.9M91.5 456.5h.9M92 456.5h.9M92.5 456.5h.9M93 456.5h.9M93.5 456.5h.9M94 456.5h.9M95 456.5h.9M100 456.5h.9M102 456.5h.9M105 456.5h.9M106 456.5h.9M109 456.5h.9M52.5 457h.9M57 457h.9M59 457h.9M62 457h.9M63.5 457h.9M69 457h.9M70.5 457h.9M71 457h.9M71.5 457h.9M72 457h.9M72.5 457h.9M73 457h.9M73.5 457h.9M74 457h.9M75 457h.9M75.5 457h.9M76 457h.9M76.5 457h.9M77 457h.9M77.5 457h.9M78 457h.9M78.5 457h.9M79 457h.9M79.5 457h.9M80 457h.9M80.5 457h.9M83.5 457h.9M84 457h.9M84.5 457h.9M85 457h.9M85.5 457h.9M86 457h.9M86.5 457h.9M87 457h.9M87.5 457h.9M88 457h.9M88.5 457h.9M89 457h.9M89.5 457h.9M90 457h.9M91 457h.9M91.5 457h.9M92 457h.9M92.5 457h.9M93.5 457h.9M94 457h.9M94.5 457h.9M95 457h.9M95.5 457h.9M97 457h.9M97.5 457h.9M98.5 457h.9M106.5 457h.9M109.5 457h.9M63.5 457.5h.9M65 457.5h.9M65.5 457.5h.9M66.5 457.5h.9M67.5 457.5h.9M68.5 457.5h.9M69 457.5h.9M69.5 457.5h.9M70 457.5h.9M70.5 457.5h.9M71 457.5h.9M71.5 457.5h.9M72 457.5h.9M72.5 457.5h.9M73 457.5h.9M73.5 457.5h.9M74 457.5h.9M74.5 457.5h.9M75 457.5h.9M75.5 457.5h.9M76 457.5h.9M76.5 457.5h.9M77 457.5h.9M77.5 457.5h.9M78 457.5h.9M78.5 457.5h.9M79 457.5h.9M79.5 457.5h.9M80 457.5h.9M80.5 457.5h.9M83.5 457.5h.9M84 457.5h.9M84.5 457.5h.9M85 457.5h.9M85.5 457.5h.9M86 457.5h.9M86.5 457.5h.9M87 457.5h.9M87.5 457.5h.9M88 457.5h.9M88.5 457.5h.9M89 457.5h.9M89.5 457.5h.9M90 457.5h.9M90.5 457.5h.9M91 457.5h.9M91.5 457.5h.9M92 457.5h.9M93 457.5h.9M93.5 457.5h.9M94 457.5h.9M95.5 457.5h.9M96.5 457.5h.9M97.5 457.5h.9M99.5 457.5h.9M100.5 457.5h.9M101 457.5h.9M101.5 457.5h.9M56 458h.9M61 458h.9M62.5 458h.9M63 458h.9M64.5 458h.9M66 458h.9M66.5 458h.9M68 458h.9M69 458h.9M69.5 458h.9M70 458h.9M71 458h.9M71.5 458h.9M72 458h.9M72.5 458h.9M73 458h.9M73.5 458h.9M74 458h.9M74.5 458h.9M75 458h.9M75.5 458h.9M76 458h.9M76.5 458h.9M77 458h.9M77.5 458h.9M78 458h.9M78.5 458h.9M79 458h.9M79.5 458h.9M80 458h.9M80.5 458h.9M83.5 458h.9M84 458h.9M84.5 458h.9M85 458h.9M85.5 458h.9M86 458h.9M86.5 458h.9M87 458h.9M87.5 458h.9M88 458h.9M88.5 458h.9M89 458h.9M89.5 458h.9M90 458h.9M90.5 458h.9M91 458h.9M91.5 458h.9M92 458h.9M92.5 458h.9M93 458h.9M94.5 458h.9M95 458h.9M96.5 458h.9M97 458h.9M97.5 458h.9M98 458h.9M99 458h.9M101.5 458h.9M104.5 458h.9M106 458h.9M108 458h.9M62.5 458.5h.9M63 458.5h.9M64 458.5h.9M66 458.5h.9M66.5 458.5h.9M67 458.5h.9M67.5 458.5h.9M69 458.5h.9M70 458.5h.9M71 458.5h.9M72 458.5h.9M72.5 458.5h.9M73 458.5h.9M73.5 458.5h.9M74 458.5h.9M74.5 458.5h.9M75 458.5h.9M75.5 458.5h.9M76 458.5h.9M76.5 458.5h.9M77 458.5h.9M77.5 458.5h.9M78 458.5h.9M78.5 458.5h.9M79 458.5h.9M79.5 458.5h.9M80 458.5h.9M80.5 458.5h.9M83.5 458.5h.9M84 458.5h.9M84.5 458.5h.9M85 458.5h.9M85.5 458.5h.9M86 458.5h.9M86.5 458.5h.9M87 458.5h.9M87.5 458.5h.9M88 458.5h.9M88.5 458.5h.9M89 458.5h.9M89.5 458.5h.9M90 458.5h.9M90.5 458.5h.9M91 458.5h.9M91.5 458.5h.9M92 458.5h.9M92.5 458.5h.9M93 458.5h.9M93.5 458.5h.9M94 458.5h.9M94.5 458.5h.9M95 458.5h.9M95.5 458.5h.9M96.5 458.5h.9M100 458.5h.9M100.5 458.5h.9M101 458.5h.9M103.5 458.5h.9M106.5 458.5h.9M107 458.5h.9M60 459h.9M60.5 459h.9M61 459h.9M65 459h.9M65.5 459h.9M66.5 459h.9M67 459h.9M69 459h.9M70 459h.9M71.5 459h.9M72.5 459h.9M73 459h.9M73.5 459h.9M74 459h.9M74.5 459h.9M75 459h.9M75.5 459h.9M76 459h.9M76.5 459h.9M77 459h.9M77.5 459h.9M78 459h.9M78.5 459h.9M79 459h.9M79.5 459h.9M80 459h.9M80.5 459h.9M81 459h.9M83 459h.9M83.5 459h.9M84 459h.9M84.5 459h.9M85 459h.9M85.5 459h.9M86 459h.9M86.5 459h.9M87 459h.9M87.5 459h.9M88 459h.9M88.5 459h.9M89 459h.9M89.5 459h.9M90 459h.9M90.5 459h.9M91 459h.9M92 459h.9M92.5 459h.9M94 459h.9M96 459h.9M96.5 459h.9M98.5 459h.9M100.5 459h.9M102.5 459h.9M103 459h.9M103.5 459h.9M104 459h.9M59.5 459.5h.9M63 459.5h.9M66 459.5h.9M66.5 459.5h.9M69.5 459.5h.9M70 459.5h.9M70.5 459.5h.9M71 459.5h.9M73.5 459.5h.9M74 459.5h.9M74.5 459.5h.9M75 459.5h.9M75.5 459.5h.9M76 459.5h.9M76.5 459.5h.9M77 459.5h.9M77.5 459.5h.9M78 459.5h.9M78.5 459.5h.9M79 459.5h.9M79.5 459.5h.9M80 459.5h.9M80.5 459.5h.9M81 459.5h.9M83 459.5h.9M83.5 459.5h.9M84 459.5h.9M84.5 459.5h.9M85 459.5h.9M85.5 459.5h.9M86 459.5h.9M86.5 459.5h.9M87 459.5h.9M87.5 459.5h.9M88 459.5h.9M88.5 459.5h.9M89 459.5h.9M89.5 459.5h.9M90 459.5h.9M90.5 459.5h.9M91 459.5h.9M91.5 459.5h.9M92 459.5h.9M92.5 459.5h.9M93 459.5h.9M96 459.5h.9M97 459.5h.9M97.5 459.5h.9M102 459.5h.9M62 460h.9M66 460h.9M67 460h.9M68 460h.9M69 460h.9M70 460h.9M71 460h.9M73 460h.9M73.5 460h.9M74.5 460h.9M75 460h.9M75.5 460h.9M76 460h.9M76.5 460h.9M77 460h.9M77.5 460h.9M78 460h.9M78.5 460h.9M79 460h.9M79.5 460h.9M80 460h.9M80.5 460h.9M81 460h.9M83 460h.9M83.5 460h.9M84 460h.9M84.5 460h.9M85 460h.9M85.5 460h.9M86 460h.9M86.5 460h.9M87 460h.9M87.5 460h.9M88 460h.9M88.5 460h.9M89 460h.9M89.5 460h.9M90.5 460h.9M91 460h.9M91.5 460h.9M92 460h.9M92.5 460h.9M93 460h.9M93.5 460h.9M94.5 460h.9M95 460h.9M96 460h.9M98 460h.9M99.5 460h.9M104 460h.9M104.5 460h.9M60.5 460.5h.9M61 460.5h.9M61.5 460.5h.9M63 460.5h.9M66 460.5h.9M66.5 460.5h.9M68 460.5h.9M68.5 460.5h.9M70.5 460.5h.9M71.5 460.5h.9M72 460.5h.9M72.5 460.5h.9M73 460.5h.9M73.5 460.5h.9M74 460.5h.9M74.5 460.5h.9M75 460.5h.9M75.5 460.5h.9M76 460.5h.9M76.5 460.5h.9M77 460.5h.9M77.5 460.5h.9M78 460.5h.9M78.5 460.5h.9M79 460.5h.9M79.5 460.5h.9M80 460.5h.9M80.5 460.5h.9M81 460.5h.9M81.5 460.5h.9M82.5 460.5h.9M83 460.5h.9M83.5 460.5h.9M84 460.5h.9M84.5 460.5h.9M85 460.5h.9M85.5 460.5h.9M86 460.5h.9M86.5 460.5h.9M87 460.5h.9M87.5 460.5h.9M88 460.5h.9M88.5 460.5h.9M89 460.5h.9M89.5 460.5h.9M90 460.5h.9M90.5 460.5h.9M91 460.5h.9M91.5 460.5h.9M92 460.5h.9M92.5 460.5h.9M93 460.5h.9M93.5 460.5h.9M94.5 460.5h.9M95 460.5h.9M95.5 460.5h.9M97.5 460.5h.9M99.5 460.5h.9M100 460.5h.9M67 461h.9M67.5 461h.9M68.5 461h.9M71 461h.9M71.5 461h.9M72 461h.9M72.5 461h.9M73 461h.9M73.5 461h.9M74 461h.9M74.5 461h.9M75 461h.9M76 461h.9M76.5 461h.9M77 461h.9M77.5 461h.9M78 461h.9M78.5 461h.9M79 461h.9M79.5 461h.9M80 461h.9M80.5 461h.9M81 461h.9M81.5 461h.9M82.5 461h.9M83 461h.9M83.5 461h.9M84 461h.9M84.5 461h.9M85 461h.9M85.5 461h.9M86 461h.9M86.5 461h.9M87 461h.9M87.5 461h.9M88 461h.9M88.5 461h.9M89 461h.9M89.5 461h.9M90.5 461h.9M91.5 461h.9M92 461h.9M93 461h.9M100 461h.9M100.5 461h.9M66 461.5h.9M67 461.5h.9M67.5 461.5h.9M70.5 461.5h.9M71 461.5h.9M71.5 461.5h.9M72 461.5h.9M72.5 461.5h.9M73 461.5h.9M73.5 461.5h.9M74 461.5h.9M74.5 461.5h.9M75 461.5h.9M76 461.5h.9M76.5 461.5h.9M77 461.5h.9M77.5 461.5h.9M78 461.5h.9M78.5 461.5h.9M79 461.5h.9M79.5 461.5h.9M80 461.5h.9M80.5 461.5h.9M81 461.5h.9M81.5 461.5h.9M82.5 461.5h.9M83 461.5h.9M83.5 461.5h.9M84 461.5h.9M84.5 461.5h.9M85 461.5h.9M85.5 461.5h.9M86 461.5h.9M86.5 461.5h.9M87 461.5h.9M87.5 461.5h.9M88 461.5h.9M88.5 461.5h.9M89 461.5h.9M89.5 461.5h.9M90 461.5h.9M90.5 461.5h.9M92 461.5h.9M93.5 461.5h.9M94 461.5h.9M94.5 461.5h.9M97 461.5h.9M98.5 461.5h.9M101.5 461.5h.9M63 462h.9M65 462h.9M66.5 462h.9M67 462h.9M67.5 462h.9M68 462h.9M69 462h.9M70.5 462h.9M71 462h.9M71.5 462h.9M72 462h.9M73 462h.9M73.5 462h.9M74 462h.9M74.5 462h.9M75 462h.9M75.5 462h.9M76 462h.9M76.5 462h.9M77 462h.9M77.5 462h.9M78 462h.9M78.5 462h.9M79 462h.9M79.5 462h.9M80 462h.9M80.5 462h.9M81 462h.9M81.5 462h.9M82 462h.9M82.5 462h.9M83 462h.9M83.5 462h.9M84 462h.9M84.5 462h.9M85 462h.9M85.5 462h.9M86 462h.9M86.5 462h.9M87 462h.9M87.5 462h.9M88 462h.9M88.5 462h.9M89 462h.9M89.5 462h.9M90 462h.9M90.5 462h.9M92.5 462h.9M93 462h.9M94 462h.9M94.5 462h.9M95 462h.9M96.5 462h.9M97 462h.9M98 462h.9M98.5 462h.9M66.5 462.5h.9M68 462.5h.9M69.5 462.5h.9M70.5 462.5h.9M71 462.5h.9M72.5 462.5h.9M73 462.5h.9M74 462.5h.9M74.5 462.5h.9M75.5 462.5h.9M76 462.5h.9M76.5 462.5h.9M77 462.5h.9M78 462.5h.9M78.5 462.5h.9M79 462.5h.9M79.5 462.5h.9M80 462.5h.9M80.5 462.5h.9M81 462.5h.9M81.5 462.5h.9M82 462.5h.9M82.5 462.5h.9M83 462.5h.9M83.5 462.5h.9M84 462.5h.9M84.5 462.5h.9M85 462.5h.9M85.5 462.5h.9M86 462.5h.9M86.5 462.5h.9M87 462.5h.9M87.5 462.5h.9M88 462.5h.9M88.5 462.5h.9M89.5 462.5h.9M90 462.5h.9M90.5 462.5h.9M91 462.5h.9M91.5 462.5h.9M92.5 462.5h.9M93.5 462.5h.9M94 462.5h.9M94.5 462.5h.9M95.5 462.5h.9M98.5 462.5h.9M100 462.5h.9M65 463h.9M69 463h.9M69.5 463h.9M70.5 463h.9M71.5 463h.9M72 463h.9M72.5 463h.9M73 463h.9M73.5 463h.9M74 463h.9M74.5 463h.9M75 463h.9M75.5 463h.9M76 463h.9M76.5 463h.9M77 463h.9M77.5 463h.9M78 463h.9M78.5 463h.9M79 463h.9M79.5 463h.9M80 463h.9M80.5 463h.9M81 463h.9M81.5 463h.9M82 463h.9M82.5 463h.9M83 463h.9M83.5 463h.9M84 463h.9M84.5 463h.9M85 463h.9M85.5 463h.9M86 463h.9M86.5 463h.9M87 463h.9M87.5 463h.9M88 463h.9M88.5 463h.9M89 463h.9M89.5 463h.9M90 463h.9M90.5 463h.9M91 463h.9M91.5 463h.9M92 463h.9M92.5 463h.9M93 463h.9M93.5 463h.9M95.5 463h.9M70 463.5h.9M71.5 463.5h.9M72.5 463.5h.9M73 463.5h.9M73.5 463.5h.9M74.5 463.5h.9M75 463.5h.9M75.5 463.5h.9M76 463.5h.9M76.5 463.5h.9M77 463.5h.9M77.5 463.5h.9M78 463.5h.9M78.5 463.5h.9M79 463.5h.9M79.5 463.5h.9M80 463.5h.9M80.5 463.5h.9M81 463.5h.9M81.5 463.5h.9M82 463.5h.9M82.5 463.5h.9M83 463.5h.9M83.5 463.5h.9M84 463.5h.9M84.5 463.5h.9M85 463.5h.9M85.5 463.5h.9M86 463.5h.9M86.5 463.5h.9M87 463.5h.9M87.5 463.5h.9M88 463.5h.9M88.5 463.5h.9M89 463.5h.9M89.5 463.5h.9M90 463.5h.9M90.5 463.5h.9M92.5 463.5h.9M93 463.5h.9M94 463.5h.9M95.5 463.5h.9M67.5 464h.9M68 464h.9M68.5 464h.9M70 464h.9M70.5 464h.9M71 464h.9M71.5 464h.9M72 464h.9M72.5 464h.9M73 464h.9M73.5 464h.9M74 464h.9M75 464h.9M75.5 464h.9M76 464h.9M76.5 464h.9M77 464h.9M77.5 464h.9M78 464h.9M78.5 464h.9M79 464h.9M79.5 464h.9M80 464h.9M80.5 464h.9M81 464h.9M81.5 464h.9M82 464h.9M82.5 464h.9M83 464h.9M83.5 464h.9M84 464h.9M84.5 464h.9M85 464h.9M85.5 464h.9M86 464h.9M86.5 464h.9M87 464h.9M87.5 464h.9M88 464h.9M88.5 464h.9M89 464h.9M89.5 464h.9M90 464h.9M90.5 464h.9M91 464h.9M91.5 464h.9M92 464h.9M92.5 464h.9M93.5 464h.9M94 464h.9M94.5 464h.9M69.5 464.5h.9M70.5 464.5h.9M71.5 464.5h.9M72 464.5h.9M73 464.5h.9M73.5 464.5h.9M74 464.5h.9M74.5 464.5h.9M75 464.5h.9M75.5 464.5h.9M76.5 464.5h.9M77 464.5h.9M77.5 464.5h.9M78 464.5h.9M78.5 464.5h.9M79 464.5h.9M79.5 464.5h.9M80 464.5h.9M80.5 464.5h.9M81 464.5h.9M81.5 464.5h.9M82 464.5h.9M82.5 464.5h.9M83 464.5h.9M83.5 464.5h.9M84 464.5h.9M84.5 464.5h.9M85 464.5h.9M85.5 464.5h.9M86 464.5h.9M86.5 464.5h.9M87 464.5h.9M87.5 464.5h.9M88 464.5h.9M88.5 464.5h.9M89 464.5h.9M89.5 464.5h.9M90 464.5h.9M91.5 464.5h.9M92.5 464.5h.9M93 464.5h.9M95.5 464.5h.9M71.5 465h.9M73 465h.9M73.5 465h.9M75 465h.9M76 465h.9M76.5 465h.9M77 465h.9M77.5 465h.9M78 465h.9M78.5 465h.9M79 465h.9M79.5 465h.9M80 465h.9M80.5 465h.9M81 465h.9M81.5 465h.9M82 465h.9M82.5 465h.9M83 465h.9M83.5 465h.9M84 465h.9M84.5 465h.9M85 465h.9M85.5 465h.9M86 465h.9M86.5 465h.9M87 465h.9M87.5 465h.9M88 465h.9M88.5 465h.9M89 465h.9M89.5 465h.9M90 465h.9M92 465h.9M92.5 465h.9M93 465h.9M93.5 465h.9M94 465h.9M71.5 465.5h.9M72.5 465.5h.9M73 465.5h.9M74 465.5h.9M74.5 465.5h.9M75.5 465.5h.9M76 465.5h.9M76.5 465.5h.9M77 465.5h.9M77.5 465.5h.9M78 465.5h.9M78.5 465.5h.9M79 465.5h.9M79.5 465.5h.9M80 465.5h.9M80.5 465.5h.9M81 465.5h.9M81.5 465.5h.9M82 465.5h.9M82.5 465.5h.9M83 465.5h.9M83.5 465.5h.9M84 465.5h.9M84.5 465.5h.9M85 465.5h.9M85.5 465.5h.9M86 465.5h.9M86.5 465.5h.9M87 465.5h.9M87.5 465.5h.9M88 465.5h.9M88.5 465.5h.9M89 465.5h.9M89.5 465.5h.9M90 465.5h.9M90.5 465.5h.9M91 465.5h.9M91.5 465.5h.9M93 465.5h.9M93.5 465.5h.9M74 466h.9M74.5 466h.9M75 466h.9M75.5 466h.9M76 466h.9M76.5 466h.9M77 466h.9M77.5 466h.9M78 466h.9M78.5 466h.9M79 466h.9M79.5 466h.9M80 466h.9M80.5 466h.9M81 466h.9M81.5 466h.9M82 466h.9M82.5 466h.9M83 466h.9M83.5 466h.9M84 466h.9M84.5 466h.9M85 466h.9M85.5 466h.9M86 466h.9M86.5 466h.9M87 466h.9M87.5 466h.9M88 466h.9M88.5 466h.9M89.5 466h.9M90.5 466h.9M91.5 466h.9M92 466h.9M72.5 466.5h.9M73.5 466.5h.9M74 466.5h.9M74.5 466.5h.9M75.5 466.5h.9M76 466.5h.9M76.5 466.5h.9M77 466.5h.9M77.5 466.5h.9M78 466.5h.9M78.5 466.5h.9M79 466.5h.9M79.5 466.5h.9M80 466.5h.9M80.5 466.5h.9M81 466.5h.9M81.5 466.5h.9M82 466.5h.9M82.5 466.5h.9M83 466.5h.9M83.5 466.5h.9M84 466.5h.9M84.5 466.5h.9M85 466.5h.9M85.5 466.5h.9M86 466.5h.9M86.5 466.5h.9M87 466.5h.9M87.5 466.5h.9M88 466.5h.9M89.5 466.5h.9M90 466.5h.9M90.5 466.5h.9M91 466.5h.9M91.5 466.5h.9M74 467h.9M74.5 467h.9M75 467h.9M75.5 467h.9M76.5 467h.9M77 467h.9M77.5 467h.9M78 467h.9M78.5 467h.9M79 467h.9M79.5 467h.9M80 467h.9M80.5 467h.9M81 467h.9M81.5 467h.9M82 467h.9M82.5 467h.9M83 467h.9M83.5 467h.9M84 467h.9M84.5 467h.9M85 467h.9M85.5 467h.9M86 467h.9M86.5 467h.9M87 467h.9M87.5 467h.9M88 467h.9M88.5 467h.9M89.5 467h.9M90 467h.9M75 467.5h.9M76 467.5h.9M76.5 467.5h.9M77 467.5h.9M77.5 467.5h.9M78 467.5h.9M78.5 467.5h.9M79 467.5h.9M79.5 467.5h.9M80 467.5h.9M80.5 467.5h.9M81 467.5h.9M81.5 467.5h.9M82 467.5h.9M82.5 467.5h.9M83 467.5h.9M83.5 467.5h.9M84 467.5h.9M84.5 467.5h.9M85 467.5h.9M85.5 467.5h.9M86 467.5h.9M86.5 467.5h.9M87 467.5h.9M87.5 467.5h.9M88 467.5h.9M75.5 468h.9M76 468h.9M76.5 468h.9M77 468h.9M78 468h.9M78.5 468h.9M79 468h.9M79.5 468h.9M80 468h.9M80.5 468h.9M81 468h.9M81.5 468h.9M82 468h.9M82.5 468h.9M83 468h.9M83.5 468h.9M84 468h.9M84.5 468h.9M85 468h.9M85.5 468h.9M86 468h.9M86.5 468h.9M76.5 468.5h.9M77.5 468.5h.9M78 468.5h.9M78.5 468.5h.9M79 468.5h.9M79.5 468.5h.9M80 468.5h.9M80.5 468.5h.9M81 468.5h.9M81.5 468.5h.9M82 468.5h.9M82.5 468.5h.9M83 468.5h.9M83.5 468.5h.9M84 468.5h.9M84.5 468.5h.9M85 468.5h.9M85.5 468.5h.9M86 468.5h.9M86.5 468.5h.9M78 469h.9M78.5 469h.9M79 469h.9M79.5 469h.9M80 469h.9M80.5 469h.9M81 469h.9M81.5 469h.9M82 469h.9M82.5 469h.9M83 469h.9M83.5 469h.9M84 469h.9M84.5 469h.9M85 469h.9M85.5 469h.9M86 469h.9M79 469.5h.9M79.5 469.5h.9M80 469.5h.9M80.5 469.5h.9M81 469.5h.9M81.5 469.5h.9M82 469.5h.9M82.5 469.5h.9M83 469.5h.9M83.5 469.5h.9M84 469.5h.9M84.5 469.5h.9M85 469.5h.9M79.5 470h.9M80 470h.9M80.5 470h.9M81 470h.9M81.5 470h.9M82 470h.9M82.5 470h.9M83 470h.9M83.5 470h.9M84 470h.9M80.5 470.5h.9M81 470.5h.9M81.5 470.5h.9M82 470.5h.9M82.5 470.5h.9M83 470.5h.9M83.5 470.5h.9M49.5 471h.9M50 471h.9M50.5 471h.9M51 471h.9M51.5 471h.9M52 471h.9M52.5 471h.9M53 471h.9M53.5 471h.9M54 471h.9M54.5 471h.9M55 471h.9M55.5 471h.9M56 471h.9M56.5 471h.9M57 471h.9M57.5 471h.9M58 471h.9M58.5 471h.9M59 471h.9M59.5 471h.9M60 471h.9M60.5 471h.9M61 471h.9M61.5 471h.9M62 471h.9M62.5 471h.9M63 471h.9M63.5 471h.9M64 471h.9M64.5 471h.9M65 471h.9M65.5 471h.9M66 471h.9M66.5 471h.9M67 471h.9M67.5 471h.9M68 471h.9M68.5 471h.9M69 471h.9M69.5 471h.9M70 471h.9M70.5 471h.9M71 471h.9M71.5 471h.9M72 471h.9M72.5 471h.9M73 471h.9M73.5 471h.9M74 471h.9M74.5 471h.9M75 471h.9M75.5 471h.9M76 471h.9M76.5 471h.9M77 471h.9M77.5 471h.9M78 471h.9M78.5 471h.9M79 471h.9M79.5 471h.9M80 471h.9M80.5 471h.9M81 471h.9M81.5 471h.9M82 471h.9M82.5 471h.9M83 471h.9M83.5 471h.9M84 471h.9M84.5 471h.9M85 471h.9M85.5 471h.9M86 471h.9M86.5 471h.9M87 471h.9M87.5 471h.9M88 471h.9M88.5 471h.9M89 471h.9M89.5 471h.9M90 471h.9M90.5 471h.9M91 471h.9M91.5 471h.9M92 471h.9M92.5 471h.9M93 471h.9M93.5 471h.9M94 471h.9M94.5 471h.9M95 471h.9M95.5 471h.9M96 471h.9M96.5 471h.9M97 471h.9M97.5 471h.9M98 471h.9M98.5 471h.9M99 471h.9M99.5 471h.9M100 471h.9M100.5 471h.9M101 471h.9M101.5 471h.9M102 471h.9M102.5 471h.9M103 471h.9M103.5 471h.9M104 471h.9M104.5 471h.9M105 471h.9M105.5 471h.9M106 471h.9M106.5 471h.9M107 471h.9M107.5 471h.9M108 471h.9M108.5 471h.9M109 471h.9M109.5 471h.9M110 471h.9M110.5 471h.9M111 471h.9M111.5 471h.9M112 471h.9M112.5 471h.9M113 471h.9M113.5 471h.9M114 471h.9M41 471.5h.9M42 471.5h.9M43.5 471.5h.9M49.5 471.5h.9M50 471.5h.9M50.5 471.5h.9M51 471.5h.9M51.5 471.5h.9M52 471.5h.9M52.5 471.5h.9M53 471.5h.9M53.5 471.5h.9M54 471.5h.9M54.5 471.5h.9M55 471.5h.9M55.5 471.5h.9M56 471.5h.9M56.5 471.5h.9M57 471.5h.9M57.5 471.5h.9M58 471.5h.9M58.5 471.5h.9M59 471.5h.9M59.5 471.5h.9M60 471.5h.9M60.5 471.5h.9M61 471.5h.9M61.5 471.5h.9M62 471.5h.9M62.5 471.5h.9M63 471.5h.9M63.5 471.5h.9M64 471.5h.9M64.5 471.5h.9M65 471.5h.9M65.5 471.5h.9M66 471.5h.9M66.5 471.5h.9M67 471.5h.9M67.5 471.5h.9M68 471.5h.9M68.5 471.5h.9M69 471.5h.9M69.5 471.5h.9M70 471.5h.9M70.5 471.5h.9M71 471.5h.9M71.5 471.5h.9M72 471.5h.9M72.5 471.5h.9M73 471.5h.9M73.5 471.5h.9M74 471.5h.9M74.5 471.5h.9M75 471.5h.9M75.5 471.5h.9M76 471.5h.9M76.5 471.5h.9M77 471.5h.9M77.5 471.5h.9M78 471.5h.9M78.5 471.5h.9M79 471.5h.9M79.5 471.5h.9M80 471.5h.9M80.5 471.5h.9M81 471.5h.9M81.5 471.5h.9M82 471.5h.9M82.5 471.5h.9M83 471.5h.9M83.5 471.5h.9M84 471.5h.9M84.5 471.5h.9M85 471.5h.9M85.5 471.5h.9M86 471.5h.9M86.5 471.5h.9M87 471.5h.9M87.5 471.5h.9M88 471.5h.9M88.5 471.5h.9M89 471.5h.9M89.5 471.5h.9M90 471.5h.9M90.5 471.5h.9M91 471.5h.9M91.5 471.5h.9M92 471.5h.9M92.5 471.5h.9M93 471.5h.9M93.5 471.5h.9M94 471.5h.9M94.5 471.5h.9M95 471.5h.9M95.5 471.5h.9M96 471.5h.9M96.5 471.5h.9M97 471.5h.9M97.5 471.5h.9M98 471.5h.9M98.5 471.5h.9M99 471.5h.9M99.5 471.5h.9M100 471.5h.9M100.5 471.5h.9M101 471.5h.9M101.5 471.5h.9M102 471.5h.9M102.5 471.5h.9M103 471.5h.9M103.5 471.5h.9M104 471.5h.9M104.5 471.5h.9M105 471.5h.9M105.5 471.5h.9M106 471.5h.9M106.5 471.5h.9M107 471.5h.9M107.5 471.5h.9M108 471.5h.9M108.5 471.5h.9M109 471.5h.9M109.5 471.5h.9M110 471.5h.9M110.5 471.5h.9M111 471.5h.9M111.5 471.5h.9M112 471.5h.9M112.5 471.5h.9M113 471.5h.9M113.5 471.5h.9M114 471.5h.9M115 471.5h.9M116.5 471.5h.9M118.5 471.5h.9M119.5 471.5h.9M50 472h.9M50.5 472h.9M51 472h.9M52 472h.9M52.5 472h.9M53 472h.9M54.5 472h.9M61 472h.9M61.5 472h.9M64 472h.9M65.5 472h.9M66 472h.9M66.5 472h.9M67 472h.9M68 472h.9M70 472h.9M70.5 472h.9M72 472h.9M72.5 472h.9M73 472h.9M75 472h.9M76 472h.9M77 472h.9M79 472h.9M80 472h.9M80.5 472h.9M81 472h.9M87.5 472h.9M88 472h.9M89 472h.9M89.5 472h.9M92.5 472h.9M94.5 472h.9M95.5 472h.9M96 472h.9M97.5 472h.9M100.5 472h.9M101 472h.9M101.5 472h.9M103 472h.9M103.5 472h.9M105 472h.9M109.5 472h.9M110 472h.9M110.5 472h.9M112 472h.9M114 472h.9" stroke="#000" stroke-width="1.05" fill="none" stroke-opacity="0.85"/><path d="M211 277.5h.9M215 277.5h.9M218 277.5h.9M250.5 277.5h.9M254.5 277.5h.9M215 291h.9M206 299h.9M218 299h.9M221 320.5h.9M222.5 320.5h.9M223 329.5h.9M246 331h.9M245.5 335h.9M220 335.5h.9M249 335.5h.9M254.5 336.5h.9M215 337.5h.9M226.5 341.5h.9M253 345.5h.9M256.5 346.5h.9M224.5 349.5h.9M206 350h.9M212 350h.9M226 350.5h.9M246.5 352.5h.9M227 353.5h.9M222.5 354h.9M225 354h.9M248 354h.9M226 355.5h.9M247 356h.9M250 356h.9M227 356.5h.9M250 357h.9M226.5 358.5h.9M224.5 359.5h.9M245.5 360h.9M249 360h.9M245.5 360.5h.9M215 361h.9M245.5 361.5h.9M245 364h.9M247 365h.9M245 365.5h.9M249 365.5h.9M225.5 367.5h.9M261.5 367.5h.9M262.5 368h.9M258 368.5h.9M227 369h.9M223.5 369.5h.9M226 370h.9M249 370.5h.9M225.5 371h.9M246.5 371.5h.9M247.5 371.5h.9M201.5 372h.9M225 372h.9M226.5 372h.9M245 372h.9M225 372.5h.9M246 372.5h.9M247 372.5h.9M250.5 373h.9M226 373.5h.9M245 373.5h.9M226 374h.9M245.5 374h.9M246 374.5h.9M247.5 374.5h.9M226 375.5h.9M245 375.5h.9M246.5 375.5h.9M227 376h.9M245.5 376h.9M246.5 376h.9M270.5 376h.9M225 376.5h.9M227 376.5h.9M246.5 376.5h.9M245.5 377h.9M247 377h.9M225.5 377.5h.9M226.5 377.5h.9M245 377.5h.9M225 378h.9M227 378h.9M245 378h.9M246 378h.9M226.5 378.5h.9M246 378.5h.9M246.5 378.5h.9M251.5 378.5h.9M215 379h.9M246.5 379h.9M249.5 379h.9M254 379h.9M223.5 379.5h.9M226.5 379.5h.9M246 379.5h.9M247 379.5h.9M249 379.5h.9M225 380h.9M245.5 380h.9M246 380h.9M246.5 380h.9M227.5 381h.9M245 381.5h.9M247 381.5h.9M225 382h.9M248 382h.9M224 382.5h.9M226.5 382.5h.9M245 382.5h.9M247.5 382.5h.9M225.5 383h.9M227.5 383.5h.9M247.5 383.5h.9M226.5 384h.9M245.5 384h.9M226.5 384.5h.9M245.5 384.5h.9M248 385h.9M225 385.5h.9M224 386h.9M227 386h.9M245 386h.9M245.5 386h.9M246 386h.9M247.5 386h.9M226 386.5h.9M226.5 386.5h.9M244.5 387h.9M226 387.5h.9M226.5 387.5h.9M227 387.5h.9M244.5 387.5h.9M245.5 387.5h.9M247 387.5h.9M249.5 387.5h.9M223.5 388h.9M245 388h.9M245.5 388h.9M247 388h.9M250 388h.9M222 388.5h.9M246 388.5h.9M226 389h.9M246 389h.9M224.5 389.5h.9M225.5 389.5h.9M248 389.5h.9M251 389.5h.9M221 390h.9M225.5 390h.9M227.5 390h.9M245 390h.9M245.5 390h.9M246.5 390h.9M247.5 390h.9M256 390h.9M222 390.5h.9M226.5 390.5h.9M244.5 390.5h.9M246.5 390.5h.9M222.5 391h.9M226 391h.9M245.5 391h.9M218 391.5h.9M226.5 391.5h.9M227.5 391.5h.9M225 392h.9M225.5 392h.9M227.5 392h.9M244.5 392h.9M253 392h.9M218.5 392.5h.9M226.5 392.5h.9M227.5 392.5h.9M244.5 392.5h.9M249 392.5h.9M251.5 392.5h.9M225 393h.9M226 393h.9M227.5 393h.9M245 393h.9M247 393h.9M224.5 393.5h.9M227.5 393.5h.9M245 393.5h.9M245.5 393.5h.9M246 393.5h.9M246.5 393.5h.9M247 393.5h.9M249.5 393.5h.9M218 394h.9M227.5 394h.9M228 394h.9M226 394.5h.9M244.5 394.5h.9M246 394.5h.9M224 395h.9M226 395h.9M244 395h.9M215.5 395.5h.9M226.5 395.5h.9M227 395.5h.9M244 395.5h.9M244.5 395.5h.9M246 395.5h.9M246.5 395.5h.9M247 395.5h.9M223 396h.9M224 396h.9M224.5 396h.9M228 396h.9M245.5 396h.9M246 396h.9M252.5 396h.9M225 396.5h.9M226 396.5h.9M226.5 396.5h.9M227 396.5h.9M227.5 396.5h.9M228 396.5h.9M246.5 396.5h.9M250.5 396.5h.9M224.5 397h.9M227 397h.9M244.5 397h.9M247 397h.9M249.5 397h.9M254 397h.9M255.5 397h.9M226.5 397.5h.9M227.5 397.5h.9M245.5 397.5h.9M223.5 398h.9M224.5 398h.9M226 398h.9M226.5 398h.9M227.5 398h.9M228 398h.9M244.5 398h.9M245 398h.9M246 398h.9M246.5 398h.9M227 398.5h.9M228 398.5h.9M220 399h.9M223.5 399h.9M225.5 399h.9M226 399h.9M226.5 399h.9M227 399h.9M224 399.5h.9M225 399.5h.9M226.5 399.5h.9M227.5 399.5h.9M228 399.5h.9M244 399.5h.9M244.5 399.5h.9M245 399.5h.9M247.5 399.5h.9M248.5 399.5h.9M222 400h.9M226 400h.9M226.5 400h.9M228 400h.9M246 400h.9M227.5 400.5h.9M244 400.5h.9M244.5 400.5h.9M246.5 400.5h.9M224 401h.9M225.5 401h.9M227.5 401h.9M244.5 401h.9M246.5 401h.9M247 401h.9M247.5 401h.9M220.5 401.5h.9M228 401.5h.9M243.5 401.5h.9M245 401.5h.9M245.5 401.5h.9M246.5 401.5h.9M247 401.5h.9M248.5 401.5h.9M252 401.5h.9M226 402h.9M227 402h.9M227.5 402h.9M244 402h.9M244.5 402h.9M248 402h.9M252.5 402h.9M259 402h.9M222 402.5h.9M226.5 402.5h.9M228.5 402.5h.9M244 402.5h.9M246 402.5h.9M246.5 402.5h.9M247 402.5h.9M247.5 402.5h.9M251.5 402.5h.9M224.5 403h.9M225 403h.9M225.5 403h.9M228 403h.9M244 403h.9M244.5 403h.9M245 403h.9M245.5 403h.9M247.5 403h.9M257.5 403h.9M225.5 403.5h.9M227 403.5h.9M227.5 403.5h.9M228 403.5h.9M228.5 403.5h.9M243.5 403.5h.9M244 403.5h.9M244.5 403.5h.9M245 403.5h.9M246 403.5h.9M247 403.5h.9M247.5 403.5h.9M255 403.5h.9M261 403.5h.9M223 404h.9M227 404h.9M243.5 404h.9M244 404h.9M245.5 404h.9M248 404h.9M251.5 404h.9M253 404h.9M255.5 404h.9M257.5 404h.9M222 404.5h.9M225.5 404.5h.9M243.5 404.5h.9M244 404.5h.9M244.5 404.5h.9M246 404.5h.9M223.5 405h.9M225 405h.9M226.5 405h.9M227.5 405h.9M228 405h.9M228.5 405h.9M243.5 405h.9M244 405h.9M245 405h.9M245.5 405h.9M246 405h.9M247 405h.9M251 405h.9M256.5 405h.9M223 405.5h.9M224.5 405.5h.9M227 405.5h.9M228 405.5h.9M228.5 405.5h.9M243.5 405.5h.9M244 405.5h.9M244.5 405.5h.9M245 405.5h.9M246 405.5h.9M247 405.5h.9M251.5 405.5h.9M219.5 406h.9M226.5 406h.9M227.5 406h.9M228 406h.9M228.5 406h.9M244 406h.9M245 406h.9M245.5 406h.9M246.5 406h.9M247 406h.9M249.5 406h.9M225.5 406.5h.9M226.5 406.5h.9M228 406.5h.9M228.5 406.5h.9M244 406.5h.9M244.5 406.5h.9M245.5 406.5h.9M248 406.5h.9M250 406.5h.9M219.5 407h.9M223 407h.9M226 407h.9M227 407h.9M227.5 407h.9M228 407h.9M243.5 407h.9M244 407h.9M245 407h.9M245.5 407h.9M246 407h.9M248 407h.9M226.5 407.5h.9M227 407.5h.9M227.5 407.5h.9M228 407.5h.9M228.5 407.5h.9M243.5 407.5h.9M244 407.5h.9M245.5 407.5h.9M221.5 408h.9M222 408h.9M223 408h.9M223.5 408h.9M228.5 408h.9M245 408h.9M246.5 408h.9M254 408h.9M224.5 408.5h.9M225 408.5h.9M227.5 408.5h.9M228 408.5h.9M243.5 408.5h.9M244 408.5h.9M244.5 408.5h.9M245 408.5h.9M216.5 409h.9M221.5 409h.9M222.5 409h.9M224.5 409h.9M228 409h.9M228.5 409h.9M243.5 409h.9M244.5 409h.9M245 409h.9M245.5 409h.9M246.5 409h.9M247 409h.9M247.5 409h.9M220 409.5h.9M223 409.5h.9M224 409.5h.9M225 409.5h.9M226.5 409.5h.9M227 409.5h.9M227.5 409.5h.9M228 409.5h.9M228.5 409.5h.9M243.5 409.5h.9M244 409.5h.9M244.5 409.5h.9M245 409.5h.9M245.5 409.5h.9M246 409.5h.9M246.5 409.5h.9M250 409.5h.9M220.5 410h.9M222.5 410h.9M223.5 410h.9M225 410h.9M226.5 410h.9M227 410h.9M227.5 410h.9M228 410h.9M228.5 410h.9M229 410h.9M243 410h.9M243.5 410h.9M244 410h.9M245.5 410h.9M246.5 410h.9M249.5 410h.9M251 410h.9M222.5 410.5h.9M224.5 410.5h.9M228 410.5h.9M229 410.5h.9M243 410.5h.9M243.5 410.5h.9M244 410.5h.9M244.5 410.5h.9M245 410.5h.9M247.5 410.5h.9M248 410.5h.9M248.5 410.5h.9M223 411h.9M224.5 411h.9M225 411h.9M226 411h.9M228 411h.9M228.5 411h.9M243 411h.9M243.5 411h.9M244 411h.9M244.5 411h.9M245 411h.9M247 411h.9M251 411h.9M210 411.5h.9M223 411.5h.9M225 411.5h.9M225.5 411.5h.9M227 411.5h.9M228 411.5h.9M228.5 411.5h.9M229 411.5h.9M243.5 411.5h.9M244.5 411.5h.9M246.5 411.5h.9M251 411.5h.9M226 412h.9M227 412h.9M227.5 412h.9M228.5 412h.9M243 412h.9M243.5 412h.9M244 412h.9M245 412h.9M246 412h.9M223 412.5h.9M226.5 412.5h.9M228.5 412.5h.9M229 412.5h.9M243.5 412.5h.9M244.5 412.5h.9M245 412.5h.9M245.5 412.5h.9M246 412.5h.9M247.5 412.5h.9M250 412.5h.9M254.5 412.5h.9M223.5 413h.9M226 413h.9M227.5 413h.9M229 413h.9M243.5 413h.9M244 413h.9M244.5 413h.9M245 413h.9M246.5 413h.9M212.5 413.5h.9M221.5 413.5h.9M226 413.5h.9M227 413.5h.9M227.5 413.5h.9M228 413.5h.9M243 413.5h.9M244 413.5h.9M245 413.5h.9M245.5 413.5h.9M247 413.5h.9M217.5 414h.9M225.5 414h.9M227 414h.9M227.5 414h.9M228 414h.9M228.5 414h.9M229 414h.9M243 414h.9M244.5 414h.9M245 414h.9M245.5 414h.9M246 414h.9M251 414h.9M223 414.5h.9M225.5 414.5h.9M227 414.5h.9M227.5 414.5h.9M228 414.5h.9M228.5 414.5h.9M229 414.5h.9M243 414.5h.9M243.5 414.5h.9M244 414.5h.9M246 414.5h.9M246.5 414.5h.9M247 414.5h.9M249.5 414.5h.9M250.5 414.5h.9M204 415h.9M206.5 415h.9M223 415h.9M224 415h.9M225 415h.9M228 415h.9M228.5 415h.9M243 415h.9M243.5 415h.9M244 415h.9M244.5 415h.9M245 415h.9M245.5 415h.9M250.5 415h.9M223.5 415.5h.9M224.5 415.5h.9M225.5 415.5h.9M226 415.5h.9M226.5 415.5h.9M227 415.5h.9M227.5 415.5h.9M228 415.5h.9M228.5 415.5h.9M229 415.5h.9M243.5 415.5h.9M245 415.5h.9M245.5 415.5h.9M246 415.5h.9M247.5 415.5h.9M249 415.5h.9M223 416h.9M226 416h.9M226.5 416h.9M227 416h.9M227.5 416h.9M228 416h.9M228.5 416h.9M243 416h.9M244 416h.9M245.5 416h.9M248 416h.9M251 416h.9M254.5 416h.9M219 416.5h.9M222.5 416.5h.9M223.5 416.5h.9M226.5 416.5h.9M227 416.5h.9M228 416.5h.9M228.5 416.5h.9M229 416.5h.9M229.5 416.5h.9M242.5 416.5h.9M243 416.5h.9M243.5 416.5h.9M244 416.5h.9M245 416.5h.9M246 416.5h.9M247 416.5h.9M224.5 417h.9M225 417h.9M226.5 417h.9M227.5 417h.9M228 417h.9M228.5 417h.9M229 417h.9M229.5 417h.9M242.5 417h.9M243 417h.9M243.5 417h.9M244 417h.9M244.5 417h.9M245 417h.9M246 417h.9M253 417h.9M218.5 417.5h.9M223.5 417.5h.9M224.5 417.5h.9M225.5 417.5h.9M226 417.5h.9M227.5 417.5h.9M228 417.5h.9M228.5 417.5h.9M229 417.5h.9M229.5 417.5h.9M242.5 417.5h.9M243 417.5h.9M243.5 417.5h.9M244 417.5h.9M244.5 417.5h.9M245 417.5h.9M245.5 417.5h.9M247 417.5h.9M248 417.5h.9M249 417.5h.9M251 417.5h.9M252 417.5h.9M258 417.5h.9M220.5 418h.9M224.5 418h.9M225.5 418h.9M226 418h.9M226.5 418h.9M227 418h.9M228 418h.9M228.5 418h.9M229 418h.9M229.5 418h.9M242.5 418h.9M243 418h.9M243.5 418h.9M244 418h.9M244.5 418h.9M245 418h.9M246 418h.9M250 418h.9M224.5 418.5h.9M226.5 418.5h.9M227 418.5h.9M228 418.5h.9M228.5 418.5h.9M229 418.5h.9M242.5 418.5h.9M243 418.5h.9M243.5 418.5h.9M244 418.5h.9M244.5 418.5h.9M247 418.5h.9M249 418.5h.9M249.5 418.5h.9M220 419h.9M224 419h.9M225 419h.9M226.5 419h.9M227.5 419h.9M228 419h.9M228.5 419h.9M229 419h.9M229.5 419h.9M242.5 419h.9M243 419h.9M243.5 419h.9M244 419h.9M245 419h.9M279 419h.9M219.5 419.5h.9M225.5 419.5h.9M226 419.5h.9M227 419.5h.9M227.5 419.5h.9M228 419.5h.9M228.5 419.5h.9M229 419.5h.9M242.5 419.5h.9M243 419.5h.9M243.5 419.5h.9M244 419.5h.9M244.5 419.5h.9M245 419.5h.9M246 419.5h.9M246.5 419.5h.9M253 419.5h.9M255 419.5h.9M206 420h.9M220.5 420h.9M224.5 420h.9M226 420h.9M227 420h.9M227.5 420h.9M228 420h.9M228.5 420h.9M229 420h.9M229.5 420h.9M242.5 420h.9M243 420h.9M243.5 420h.9M246.5 420h.9M247 420h.9M255.5 420h.9M222.5 420.5h.9M223 420.5h.9M224 420.5h.9M225.5 420.5h.9M226.5 420.5h.9M227 420.5h.9M227.5 420.5h.9M228 420.5h.9M228.5 420.5h.9M229 420.5h.9M229.5 420.5h.9M242.5 420.5h.9M243 420.5h.9M243.5 420.5h.9M244 420.5h.9M244.5 420.5h.9M245.5 420.5h.9M246 420.5h.9M248 420.5h.9M248.5 420.5h.9M249 420.5h.9M252 420.5h.9M254 420.5h.9M222.5 421h.9M223 421h.9M223.5 421h.9M224.5 421h.9M225 421h.9M225.5 421h.9M226.5 421h.9M227 421h.9M228.5 421h.9M229 421h.9M229.5 421h.9M242.5 421h.9M243 421h.9M243.5 421h.9M244 421h.9M245 421h.9M246 421h.9M247 421h.9M250.5 421h.9M221.5 421.5h.9M224.5 421.5h.9M226 421.5h.9M228 421.5h.9M228.5 421.5h.9M229 421.5h.9M229.5 421.5h.9M230 421.5h.9M242.5 421.5h.9M243 421.5h.9M243.5 421.5h.9M244 421.5h.9M244.5 421.5h.9M245.5 421.5h.9M246.5 421.5h.9M247 421.5h.9M248 421.5h.9M249 421.5h.9M221 422h.9M223.5 422h.9M225 422h.9M225.5 422h.9M226 422h.9M226.5 422h.9M227 422h.9M227.5 422h.9M228 422h.9M228.5 422h.9M229 422h.9M230 422h.9M242.5 422h.9M243 422h.9M243.5 422h.9M244.5 422h.9M245 422h.9M245.5 422h.9M246.5 422h.9M204.5 422.5h.9M219 422.5h.9M221 422.5h.9M221.5 422.5h.9M223 422.5h.9M224 422.5h.9M224.5 422.5h.9M225 422.5h.9M225.5 422.5h.9M226 422.5h.9M226.5 422.5h.9M227 422.5h.9M227.5 422.5h.9M228 422.5h.9M228.5 422.5h.9M229 422.5h.9M229.5 422.5h.9M230 422.5h.9M242 422.5h.9M242.5 422.5h.9M243 422.5h.9M243.5 422.5h.9M244 422.5h.9M244.5 422.5h.9M245 422.5h.9M246.5 422.5h.9M247 422.5h.9M210.5 423h.9M215 423h.9M218.5 423h.9M221 423h.9M224.5 423h.9M225.5 423h.9M227 423h.9M227.5 423h.9M228 423h.9M228.5 423h.9M229.5 423h.9M230 423h.9M242 423h.9M242.5 423h.9M243 423h.9M244 423h.9M244.5 423h.9M245 423h.9M245.5 423h.9M246.5 423h.9M247 423h.9M248.5 423h.9M219 423.5h.9M225 423.5h.9M226 423.5h.9M227 423.5h.9M228 423.5h.9M228.5 423.5h.9M229 423.5h.9M229.5 423.5h.9M242 423.5h.9M242.5 423.5h.9M243 423.5h.9M243.5 423.5h.9M244 423.5h.9M244.5 423.5h.9M245 423.5h.9M245.5 423.5h.9M246 423.5h.9M248 423.5h.9M249 423.5h.9M250 423.5h.9M251 423.5h.9M252 423.5h.9M254.5 423.5h.9M221 424h.9M223 424h.9M225 424h.9M225.5 424h.9M226 424h.9M226.5 424h.9M228 424h.9M228.5 424h.9M229 424h.9M229.5 424h.9M230 424h.9M242 424h.9M242.5 424h.9M243 424h.9M243.5 424h.9M244 424h.9M244.5 424h.9M245.5 424h.9M246.5 424h.9M247 424h.9M248.5 424h.9M250 424h.9M257 424h.9M267 424h.9M218 424.5h.9M224 424.5h.9M226 424.5h.9M226.5 424.5h.9M227 424.5h.9M227.5 424.5h.9M228 424.5h.9M228.5 424.5h.9M229 424.5h.9M229.5 424.5h.9M230 424.5h.9M242 424.5h.9M242.5 424.5h.9M243 424.5h.9M243.5 424.5h.9M244 424.5h.9M244.5 424.5h.9M245.5 424.5h.9M246 424.5h.9M246.5 424.5h.9M249 424.5h.9M254 424.5h.9M215.5 425h.9M220.5 425h.9M221 425h.9M224.5 425h.9M225 425h.9M225.5 425h.9M226.5 425h.9M227.5 425h.9M228 425h.9M228.5 425h.9M229 425h.9M229.5 425h.9M230 425h.9M242 425h.9M242.5 425h.9M243 425h.9M243.5 425h.9M244 425h.9M245 425h.9M245.5 425h.9M249.5 425h.9M250 425h.9M253 425h.9M226 425.5h.9M227 425.5h.9M227.5 425.5h.9M228 425.5h.9M228.5 425.5h.9M229 425.5h.9M229.5 425.5h.9M230 425.5h.9M242 425.5h.9M242.5 425.5h.9M243 425.5h.9M243.5 425.5h.9M244 425.5h.9M245 425.5h.9M245.5 425.5h.9M246 425.5h.9M246.5 425.5h.9M247 425.5h.9M248.5 425.5h.9M249.5 425.5h.9M251 425.5h.9M220 426h.9M222.5 426h.9M226 426h.9M228 426h.9M228.5 426h.9M229 426h.9M229.5 426h.9M230 426h.9M230.5 426h.9M242 426h.9M243 426h.9M243.5 426h.9M244 426h.9M244.5 426h.9M245 426h.9M245.5 426h.9M246.5 426h.9M247.5 426h.9M248.5 426h.9M250 426h.9M251.5 426h.9M222 426.5h.9M223.5 426.5h.9M224.5 426.5h.9M225 426.5h.9M226 426.5h.9M226.5 426.5h.9M227 426.5h.9M227.5 426.5h.9M228 426.5h.9M228.5 426.5h.9M229 426.5h.9M229.5 426.5h.9M230 426.5h.9M241.5 426.5h.9M242 426.5h.9M242.5 426.5h.9M243 426.5h.9M243.5 426.5h.9M244 426.5h.9M244.5 426.5h.9M245 426.5h.9M245.5 426.5h.9M246.5 426.5h.9M247 426.5h.9M248 426.5h.9M248.5 426.5h.9M249.5 426.5h.9M218 427h.9M221.5 427h.9M223 427h.9M224.5 427h.9M225.5 427h.9M227 427h.9M227.5 427h.9M228.5 427h.9M229.5 427h.9M230 427h.9M241.5 427h.9M242 427h.9M242.5 427h.9M243 427h.9M243.5 427h.9M244 427h.9M244.5 427h.9M245 427h.9M245.5 427h.9M246 427h.9M247 427h.9M249.5 427h.9M253 427h.9M223 427.5h.9M224.5 427.5h.9M225 427.5h.9M226.5 427.5h.9M227.5 427.5h.9M228 427.5h.9M228.5 427.5h.9M229 427.5h.9M229.5 427.5h.9M230 427.5h.9M230.5 427.5h.9M242 427.5h.9M242.5 427.5h.9M243 427.5h.9M244 427.5h.9M244.5 427.5h.9M245 427.5h.9M245.5 427.5h.9M246 427.5h.9M246.5 427.5h.9M248 427.5h.9M249.5 427.5h.9M254.5 427.5h.9M218.5 428h.9M222 428h.9M224.5 428h.9M225.5 428h.9M227 428h.9M227.5 428h.9M228 428h.9M228.5 428h.9M229 428h.9M229.5 428h.9M230 428h.9M230.5 428h.9M241.5 428h.9M242 428h.9M242.5 428h.9M243 428h.9M243.5 428h.9M244 428h.9M244.5 428h.9M245 428h.9M245.5 428h.9M246 428h.9M246.5 428h.9M263 428h.9M217.5 428.5h.9M223 428.5h.9M226 428.5h.9M226.5 428.5h.9M227 428.5h.9M227.5 428.5h.9M228 428.5h.9M228.5 428.5h.9M229 428.5h.9M229.5 428.5h.9M230 428.5h.9M230.5 428.5h.9M241.5 428.5h.9M242 428.5h.9M242.5 428.5h.9M243 428.5h.9M243.5 428.5h.9M244 428.5h.9M244.5 428.5h.9M245 428.5h.9M246 428.5h.9M246.5 428.5h.9M250 428.5h.9M251.5 428.5h.9M252.5 428.5h.9M200 429h.9M226.5 429h.9M227 429h.9M228 429h.9M228.5 429h.9M229 429h.9M229.5 429h.9M230 429h.9M230.5 429h.9M241.5 429h.9M242 429h.9M242.5 429h.9M243 429h.9M243.5 429h.9M244 429h.9M245 429h.9M245.5 429h.9M246 429h.9M246.5 429h.9M247.5 429h.9M248.5 429h.9M249 429h.9M253.5 429h.9M256 429h.9M221 429.5h.9M221.5 429.5h.9M223.5 429.5h.9M224.5 429.5h.9M226 429.5h.9M226.5 429.5h.9M227 429.5h.9M227.5 429.5h.9M228 429.5h.9M228.5 429.5h.9M229 429.5h.9M229.5 429.5h.9M230 429.5h.9M230.5 429.5h.9M241.5 429.5h.9M242 429.5h.9M242.5 429.5h.9M243 429.5h.9M243.5 429.5h.9M244 429.5h.9M245.5 429.5h.9M250 429.5h.9M254 429.5h.9M256 429.5h.9M214 430h.9M221.5 430h.9M223 430h.9M227 430h.9M227.5 430h.9M228 430h.9M228.5 430h.9M229 430h.9M229.5 430h.9M230 430h.9M230.5 430h.9M241.5 430h.9M242 430h.9M242.5 430h.9M243 430h.9M244 430h.9M244.5 430h.9M245 430h.9M246 430h.9M246.5 430h.9M247 430h.9M253 430h.9M207.5 430.5h.9M221.5 430.5h.9M225.5 430.5h.9M226 430.5h.9M226.5 430.5h.9M227 430.5h.9M227.5 430.5h.9M228 430.5h.9M228.5 430.5h.9M229 430.5h.9M229.5 430.5h.9M230 430.5h.9M230.5 430.5h.9M241 430.5h.9M241.5 430.5h.9M242 430.5h.9M242.5 430.5h.9M243 430.5h.9M243.5 430.5h.9M244 430.5h.9M245.5 430.5h.9M246 430.5h.9M246.5 430.5h.9M248 430.5h.9M248.5 430.5h.9M250 430.5h.9M251.5 430.5h.9M219.5 431h.9M221 431h.9M222 431h.9M224.5 431h.9M226 431h.9M226.5 431h.9M227 431h.9M227.5 431h.9M228 431h.9M228.5 431h.9M229 431h.9M229.5 431h.9M230 431h.9M230.5 431h.9M231 431h.9M241 431h.9M241.5 431h.9M242 431h.9M242.5 431h.9M243 431h.9M243.5 431h.9M244 431h.9M244.5 431h.9M245 431h.9M245.5 431h.9M246.5 431h.9M247.5 431h.9M249 431h.9M250 431h.9M254.5 431h.9M260 431h.9M218 431.5h.9M223.5 431.5h.9M225.5 431.5h.9M226 431.5h.9M227 431.5h.9M227.5 431.5h.9M228.5 431.5h.9M229 431.5h.9M229.5 431.5h.9M230 431.5h.9M230.5 431.5h.9M231 431.5h.9M241 431.5h.9M241.5 431.5h.9M242 431.5h.9M242.5 431.5h.9M243 431.5h.9M243.5 431.5h.9M244 431.5h.9M244.5 431.5h.9M245 431.5h.9M245.5 431.5h.9M246 431.5h.9M247 431.5h.9M248.5 431.5h.9M251 431.5h.9M218.5 432h.9M221.5 432h.9M222 432h.9M224 432h.9M226 432h.9M226.5 432h.9M227 432h.9M227.5 432h.9M228 432h.9M228.5 432h.9M229 432h.9M229.5 432h.9M230 432h.9M230.5 432h.9M231 432h.9M241 432h.9M241.5 432h.9M242 432h.9M242.5 432h.9M243 432h.9M243.5 432h.9M244 432h.9M244.5 432h.9M245 432h.9M245.5 432h.9M246.5 432h.9M252 432h.9M259.5 432h.9M266 432h.9M220.5 432.5h.9M221.5 432.5h.9M225 432.5h.9M225.5 432.5h.9M226.5 432.5h.9M227 432.5h.9M227.5 432.5h.9M228 432.5h.9M229.5 432.5h.9M230 432.5h.9M230.5 432.5h.9M231 432.5h.9M241 432.5h.9M241.5 432.5h.9M242 432.5h.9M242.5 432.5h.9M243 432.5h.9M243.5 432.5h.9M244 432.5h.9M244.5 432.5h.9M245 432.5h.9M246.5 432.5h.9M247 432.5h.9M252.5 432.5h.9M258.5 432.5h.9M196 433h.9M216 433h.9M219 433h.9M222 433h.9M225.5 433h.9M226 433h.9M226.5 433h.9M227 433h.9M228.5 433h.9M229 433h.9M229.5 433h.9M230 433h.9M230.5 433h.9M231 433h.9M241 433h.9M241.5 433h.9M242 433h.9M242.5 433h.9M243 433h.9M243.5 433h.9M244 433h.9M244.5 433h.9M245 433h.9M245.5 433h.9M246 433h.9M247 433h.9M248.5 433h.9M250.5 433h.9M254 433h.9M255.5 433h.9M256 433h.9M218.5 433.5h.9M221.5 433.5h.9M223.5 433.5h.9M224 433.5h.9M225 433.5h.9M226.5 433.5h.9M227.5 433.5h.9M228 433.5h.9M228.5 433.5h.9M229 433.5h.9M229.5 433.5h.9M230 433.5h.9M230.5 433.5h.9M231 433.5h.9M241 433.5h.9M241.5 433.5h.9M242 433.5h.9M242.5 433.5h.9M243 433.5h.9M243.5 433.5h.9M244 433.5h.9M245.5 433.5h.9M247 433.5h.9M248 433.5h.9M249 433.5h.9M263 433.5h.9M226 434h.9M227 434h.9M227.5 434h.9M228 434h.9M228.5 434h.9M229 434h.9M229.5 434h.9M230 434h.9M230.5 434h.9M231 434h.9M231.5 434h.9M241 434h.9M241.5 434h.9M242 434h.9M242.5 434h.9M243 434h.9M243.5 434h.9M244 434h.9M244.5 434h.9M245 434h.9M246.5 434h.9M248.5 434h.9M250.5 434h.9M219 434.5h.9M222.5 434.5h.9M225 434.5h.9M226 434.5h.9M227 434.5h.9M227.5 434.5h.9M228 434.5h.9M228.5 434.5h.9M229 434.5h.9M229.5 434.5h.9M230 434.5h.9M230.5 434.5h.9M231 434.5h.9M231.5 434.5h.9M241 434.5h.9M241.5 434.5h.9M242 434.5h.9M242.5 434.5h.9M243 434.5h.9M243.5 434.5h.9M244 434.5h.9M244.5 434.5h.9M246 434.5h.9M246.5 434.5h.9M247.5 434.5h.9M248 434.5h.9M249 434.5h.9M250.5 434.5h.9M251 434.5h.9M252 434.5h.9M225 435h.9M225.5 435h.9M227 435h.9M227.5 435h.9M228 435h.9M229.5 435h.9M230 435h.9M230.5 435h.9M231 435h.9M231.5 435h.9M240.5 435h.9M241 435h.9M241.5 435h.9M242 435h.9M242.5 435h.9M243 435h.9M243.5 435h.9M244 435h.9M244.5 435h.9M245 435h.9M245.5 435h.9M246.5 435h.9M247 435h.9M247.5 435h.9M252.5 435h.9M217 435.5h.9M219.5 435.5h.9M221 435.5h.9M221.5 435.5h.9M224.5 435.5h.9M226.5 435.5h.9M227 435.5h.9M227.5 435.5h.9M228 435.5h.9M228.5 435.5h.9M229 435.5h.9M229.5 435.5h.9M230 435.5h.9M230.5 435.5h.9M231 435.5h.9M231.5 435.5h.9M240.5 435.5h.9M241 435.5h.9M241.5 435.5h.9M242 435.5h.9M242.5 435.5h.9M243 435.5h.9M243.5 435.5h.9M244 435.5h.9M244.5 435.5h.9M245 435.5h.9M250 435.5h.9M252 435.5h.9M258 435.5h.9M220.5 436h.9M222.5 436h.9M223.5 436h.9M224 436h.9M225.5 436h.9M226 436h.9M226.5 436h.9M227 436h.9M227.5 436h.9M228 436h.9M228.5 436h.9M229 436h.9M229.5 436h.9M230 436h.9M230.5 436h.9M231 436h.9M240.5 436h.9M241 436h.9M241.5 436h.9M242 436h.9M242.5 436h.9M243.5 436h.9M244.5 436h.9M245 436h.9M246 436h.9M246.5 436h.9M253.5 436h.9M254.5 436h.9M256.5 436h.9M221 436.5h.9M222 436.5h.9M222.5 436.5h.9M223 436.5h.9M225 436.5h.9M225.5 436.5h.9M226 436.5h.9M226.5 436.5h.9M227 436.5h.9M227.5 436.5h.9M228 436.5h.9M228.5 436.5h.9M229 436.5h.9M229.5 436.5h.9M230 436.5h.9M230.5 436.5h.9M231 436.5h.9M231.5 436.5h.9M240.5 436.5h.9M241 436.5h.9M241.5 436.5h.9M242 436.5h.9M242.5 436.5h.9M243 436.5h.9M243.5 436.5h.9M244 436.5h.9M244.5 436.5h.9M246 436.5h.9M246.5 436.5h.9M247.5 436.5h.9M249 436.5h.9M252.5 436.5h.9M255 436.5h.9M220 437h.9M220.5 437h.9M224 437h.9M225.5 437h.9M226 437h.9M226.5 437h.9M227 437h.9M227.5 437h.9M228.5 437h.9M229 437h.9M229.5 437h.9M230 437h.9M230.5 437h.9M231 437h.9M231.5 437h.9M240.5 437h.9M241 437h.9M241.5 437h.9M242 437h.9M242.5 437h.9M243 437h.9M243.5 437h.9M244 437h.9M244.5 437h.9M245 437h.9M245.5 437h.9M246.5 437h.9M247 437h.9M248 437h.9M248.5 437h.9M249 437h.9M251 437h.9M201.5 437.5h.9M203.5 437.5h.9M224 437.5h.9M224.5 437.5h.9M225 437.5h.9M225.5 437.5h.9M226 437.5h.9M227 437.5h.9M227.5 437.5h.9M228 437.5h.9M228.5 437.5h.9M229 437.5h.9M229.5 437.5h.9M230 437.5h.9M230.5 437.5h.9M231 437.5h.9M231.5 437.5h.9M240.5 437.5h.9M241 437.5h.9M241.5 437.5h.9M242 437.5h.9M242.5 437.5h.9M243 437.5h.9M243.5 437.5h.9M244.5 437.5h.9M246 437.5h.9M246.5 437.5h.9M247.5 437.5h.9M249 437.5h.9M255 437.5h.9M259 437.5h.9M223 438h.9M225 438h.9M225.5 438h.9M226 438h.9M226.5 438h.9M227 438h.9M227.5 438h.9M228 438h.9M228.5 438h.9M229 438h.9M229.5 438h.9M230 438h.9M230.5 438h.9M231 438h.9M231.5 438h.9M232 438h.9M240.5 438h.9M241 438h.9M241.5 438h.9M242 438h.9M242.5 438h.9M243 438h.9M243.5 438h.9M244 438h.9M244.5 438h.9M245 438h.9M245.5 438h.9M246.5 438h.9M248 438h.9M223.5 438.5h.9M224.5 438.5h.9M225 438.5h.9M225.5 438.5h.9M226 438.5h.9M226.5 438.5h.9M227.5 438.5h.9M228 438.5h.9M228.5 438.5h.9M229 438.5h.9M229.5 438.5h.9M230 438.5h.9M230.5 438.5h.9M231 438.5h.9M231.5 438.5h.9M232 438.5h.9M240 438.5h.9M240.5 438.5h.9M241 438.5h.9M241.5 438.5h.9M242.5 438.5h.9M243 438.5h.9M243.5 438.5h.9M244 438.5h.9M244.5 438.5h.9M245 438.5h.9M246 438.5h.9M246.5 438.5h.9M247 438.5h.9M247.5 438.5h.9M250 438.5h.9M256 438.5h.9M218.5 439h.9M219 439h.9M223 439h.9M224.5 439h.9M225 439h.9M226 439h.9M227 439h.9M227.5 439h.9M228 439h.9M228.5 439h.9M229 439h.9M229.5 439h.9M230 439h.9M230.5 439h.9M231 439h.9M231.5 439h.9M232 439h.9M240 439h.9M240.5 439h.9M241 439h.9M241.5 439h.9M242 439h.9M242.5 439h.9M243 439h.9M243.5 439h.9M244 439h.9M244.5 439h.9M245 439h.9M245.5 439h.9M246.5 439h.9M247.5 439h.9M249 439h.9M249.5 439h.9M252.5 439h.9M215.5 439.5h.9M217.5 439.5h.9M225 439.5h.9M226 439.5h.9M227 439.5h.9M227.5 439.5h.9M228 439.5h.9M229 439.5h.9M229.5 439.5h.9M230 439.5h.9M230.5 439.5h.9M231 439.5h.9M231.5 439.5h.9M232 439.5h.9M240 439.5h.9M240.5 439.5h.9M241 439.5h.9M241.5 439.5h.9M242 439.5h.9M242.5 439.5h.9M243 439.5h.9M243.5 439.5h.9M244 439.5h.9M244.5 439.5h.9M246 439.5h.9M247 439.5h.9M247.5 439.5h.9M248 439.5h.9M219.5 440h.9M221 440h.9M225.5 440h.9M227 440h.9M227.5 440h.9M228 440h.9M228.5 440h.9M229 440h.9M229.5 440h.9M230 440h.9M230.5 440h.9M231 440h.9M231.5 440h.9M232 440h.9M240 440h.9M240.5 440h.9M241 440h.9M241.5 440h.9M242 440h.9M242.5 440h.9M243 440h.9M243.5 440h.9M244 440h.9M244.5 440h.9M245 440h.9M245.5 440h.9M247 440h.9M248 440h.9M249.5 440h.9M252.5 440h.9M256 440h.9M213.5 440.5h.9M220.5 440.5h.9M224 440.5h.9M225 440.5h.9M226 440.5h.9M226.5 440.5h.9M227 440.5h.9M228 440.5h.9M228.5 440.5h.9M229 440.5h.9M229.5 440.5h.9M230 440.5h.9M230.5 440.5h.9M231 440.5h.9M231.5 440.5h.9M232 440.5h.9M240 440.5h.9M240.5 440.5h.9M241 440.5h.9M241.5 440.5h.9M242 440.5h.9M242.5 440.5h.9M243 440.5h.9M243.5 440.5h.9M244 440.5h.9M244.5 440.5h.9M245 440.5h.9M245.5 440.5h.9M247 440.5h.9M248 440.5h.9M248.5 440.5h.9M249 440.5h.9M268.5 440.5h.9M214.5 441h.9M215 441h.9M218.5 441h.9M220.5 441h.9M224.5 441h.9M226 441h.9M226.5 441h.9M227.5 441h.9M228.5 441h.9M229 441h.9M229.5 441h.9M230 441h.9M230.5 441h.9M231 441h.9M231.5 441h.9M232 441h.9M240 441h.9M240.5 441h.9M241 441h.9M241.5 441h.9M242 441h.9M242.5 441h.9M243 441h.9M243.5 441h.9M244 441h.9M244.5 441h.9M245 441h.9M215.5 441.5h.9M223 441.5h.9M225 441.5h.9M225.5 441.5h.9M226.5 441.5h.9M227 441.5h.9M227.5 441.5h.9M228 441.5h.9M228.5 441.5h.9M229 441.5h.9M229.5 441.5h.9M230 441.5h.9M230.5 441.5h.9M231 441.5h.9M231.5 441.5h.9M232 441.5h.9M232.5 441.5h.9M239.5 441.5h.9M240 441.5h.9M240.5 441.5h.9M241 441.5h.9M241.5 441.5h.9M242 441.5h.9M242.5 441.5h.9M243 441.5h.9M243.5 441.5h.9M244 441.5h.9M244.5 441.5h.9M245 441.5h.9M245.5 441.5h.9M246 441.5h.9M246.5 441.5h.9M248 441.5h.9M218.5 442h.9M226.5 442h.9M227 442h.9M228 442h.9M228.5 442h.9M229 442h.9M229.5 442h.9M230 442h.9M230.5 442h.9M231 442h.9M231.5 442h.9M232 442h.9M232.5 442h.9M239.5 442h.9M240 442h.9M240.5 442h.9M241 442h.9M241.5 442h.9M242 442h.9M242.5 442h.9M243 442h.9M243.5 442h.9M244 442h.9M244.5 442h.9M245 442h.9M246 442h.9M246.5 442h.9M248 442h.9M249 442h.9M249.5 442h.9M250 442h.9M210.5 442.5h.9M211 442.5h.9M223.5 442.5h.9M226 442.5h.9M227 442.5h.9M228 442.5h.9M228.5 442.5h.9M229 442.5h.9M229.5 442.5h.9M230 442.5h.9M230.5 442.5h.9M231 442.5h.9M231.5 442.5h.9M232 442.5h.9M232.5 442.5h.9M239.5 442.5h.9M240 442.5h.9M240.5 442.5h.9M241 442.5h.9M241.5 442.5h.9M242 442.5h.9M242.5 442.5h.9M243.5 442.5h.9M244 442.5h.9M244.5 442.5h.9M245 442.5h.9M246 442.5h.9M246.5 442.5h.9M247 442.5h.9M249 442.5h.9M249.5 442.5h.9M254 442.5h.9M255.5 442.5h.9M218.5 443h.9M221 443h.9M225.5 443h.9M226 443h.9M226.5 443h.9M227.5 443h.9M228 443h.9M228.5 443h.9M229 443h.9M229.5 443h.9M230 443h.9M230.5 443h.9M231 443h.9M231.5 443h.9M232 443h.9M232.5 443h.9M239.5 443h.9M240 443h.9M240.5 443h.9M241 443h.9M241.5 443h.9M242 443h.9M242.5 443h.9M243 443h.9M243.5 443h.9M244 443h.9M244.5 443h.9M245 443h.9M246 443h.9M246.5 443h.9M247.5 443h.9M248 443h.9M250 443h.9M222.5 443.5h.9M225 443.5h.9M226 443.5h.9M226.5 443.5h.9M227 443.5h.9M227.5 443.5h.9M228 443.5h.9M228.5 443.5h.9M229 443.5h.9M229.5 443.5h.9M230 443.5h.9M230.5 443.5h.9M231 443.5h.9M231.5 443.5h.9M232 443.5h.9M232.5 443.5h.9M239.5 443.5h.9M240 443.5h.9M240.5 443.5h.9M241 443.5h.9M241.5 443.5h.9M242 443.5h.9M242.5 443.5h.9M243 443.5h.9M244 443.5h.9M245.5 443.5h.9M246 443.5h.9M247 443.5h.9M248 443.5h.9M248.5 443.5h.9M222 444h.9M223 444h.9M223.5 444h.9M224 444h.9M225 444h.9M226 444h.9M226.5 444h.9M227.5 444h.9M228 444h.9M229 444h.9M229.5 444h.9M230 444h.9M230.5 444h.9M231 444h.9M231.5 444h.9M232 444h.9M232.5 444h.9M239.5 444h.9M240 444h.9M240.5 444h.9M241 444h.9M241.5 444h.9M242 444h.9M242.5 444h.9M243 444h.9M243.5 444h.9M245.5 444h.9M246 444h.9M246.5 444h.9M211.5 444.5h.9M218 444.5h.9M222.5 444.5h.9M224 444.5h.9M224.5 444.5h.9M225.5 444.5h.9M226.5 444.5h.9M227 444.5h.9M227.5 444.5h.9M228 444.5h.9M228.5 444.5h.9M229 444.5h.9M229.5 444.5h.9M230 444.5h.9M230.5 444.5h.9M231 444.5h.9M231.5 444.5h.9M232 444.5h.9M232.5 444.5h.9M239.5 444.5h.9M240 444.5h.9M240.5 444.5h.9M241 444.5h.9M241.5 444.5h.9M242 444.5h.9M242.5 444.5h.9M243 444.5h.9M243.5 444.5h.9M244 444.5h.9M244.5 444.5h.9M245.5 444.5h.9M246 444.5h.9M247 444.5h.9M247.5 444.5h.9M248 444.5h.9M249 444.5h.9M250.5 444.5h.9M252 444.5h.9M262 444.5h.9M270.5 444.5h.9M217 445h.9M222 445h.9M226 445h.9M226.5 445h.9M227.5 445h.9M228 445h.9M228.5 445h.9M229 445h.9M229.5 445h.9M230 445h.9M230.5 445h.9M231 445h.9M231.5 445h.9M232 445h.9M232.5 445h.9M233 445h.9M239 445h.9M239.5 445h.9M240 445h.9M240.5 445h.9M241 445h.9M241.5 445h.9M242 445h.9M242.5 445h.9M243 445h.9M243.5 445h.9M244 445h.9M244.5 445h.9M245 445h.9M246.5 445h.9M252 445h.9M255.5 445h.9M260.5 445h.9M217 445.5h.9M218.5 445.5h.9M221.5 445.5h.9M222.5 445.5h.9M223 445.5h.9M225 445.5h.9M226 445.5h.9M226.5 445.5h.9M227 445.5h.9M227.5 445.5h.9M228 445.5h.9M228.5 445.5h.9M229 445.5h.9M229.5 445.5h.9M230 445.5h.9M230.5 445.5h.9M231 445.5h.9M231.5 445.5h.9M232 445.5h.9M232.5 445.5h.9M233 445.5h.9M239 445.5h.9M239.5 445.5h.9M240 445.5h.9M240.5 445.5h.9M241 445.5h.9M241.5 445.5h.9M242 445.5h.9M242.5 445.5h.9M243 445.5h.9M243.5 445.5h.9M244 445.5h.9M244.5 445.5h.9M245 445.5h.9M245.5 445.5h.9M246 445.5h.9M247 445.5h.9M251 445.5h.9M253 445.5h.9M254.5 445.5h.9M258 445.5h.9M210.5 446h.9M213 446h.9M214.5 446h.9M219 446h.9M220.5 446h.9M222 446h.9M223 446h.9M224 446h.9M224.5 446h.9M225 446h.9M225.5 446h.9M226 446h.9M227.5 446h.9M228 446h.9M229 446h.9M229.5 446h.9M230 446h.9M230.5 446h.9M231 446h.9M231.5 446h.9M232 446h.9M232.5 446h.9M233 446h.9M239 446h.9M239.5 446h.9M240 446h.9M240.5 446h.9M241 446h.9M241.5 446h.9M242 446h.9M242.5 446h.9M243 446h.9M243.5 446h.9M244 446h.9M244.5 446h.9M245 446h.9M246.5 446h.9M247 446h.9M247.5 446h.9M248 446h.9M248.5 446h.9M249 446h.9M257.5 446h.9M212.5 446.5h.9M222.5 446.5h.9M225.5 446.5h.9M227 446.5h.9M227.5 446.5h.9M228.5 446.5h.9M229 446.5h.9M229.5 446.5h.9M230 446.5h.9M230.5 446.5h.9M231 446.5h.9M231.5 446.5h.9M232 446.5h.9M232.5 446.5h.9M233 446.5h.9M239 446.5h.9M239.5 446.5h.9M240 446.5h.9M240.5 446.5h.9M241 446.5h.9M241.5 446.5h.9M242 446.5h.9M242.5 446.5h.9M243 446.5h.9M243.5 446.5h.9M244 446.5h.9M244.5 446.5h.9M245 446.5h.9M245.5 446.5h.9M246.5 446.5h.9M253 446.5h.9M201 447h.9M212.5 447h.9M220 447h.9M226 447h.9M226.5 447h.9M227.5 447h.9M228 447h.9M228.5 447h.9M229 447h.9M229.5 447h.9M230 447h.9M230.5 447h.9M231 447h.9M231.5 447h.9M232 447h.9M232.5 447h.9M233 447h.9M239 447h.9M239.5 447h.9M240 447h.9M240.5 447h.9M241 447h.9M241.5 447h.9M242 447h.9M242.5 447h.9M243 447h.9M243.5 447h.9M244 447h.9M244.5 447h.9M245 447h.9M245.5 447h.9M246 447h.9M246.5 447h.9M247 447h.9M248.5 447h.9M249.5 447h.9M250 447h.9M251 447h.9M255 447h.9M258.5 447h.9M205 447.5h.9M221 447.5h.9M222 447.5h.9M223 447.5h.9M224 447.5h.9M224.5 447.5h.9M225 447.5h.9M226 447.5h.9M227 447.5h.9M228.5 447.5h.9M229 447.5h.9M229.5 447.5h.9M230 447.5h.9M230.5 447.5h.9M231 447.5h.9M231.5 447.5h.9M232 447.5h.9M232.5 447.5h.9M233 447.5h.9M239 447.5h.9M239.5 447.5h.9M240 447.5h.9M240.5 447.5h.9M241 447.5h.9M241.5 447.5h.9M242 447.5h.9M242.5 447.5h.9M243 447.5h.9M243.5 447.5h.9M244 447.5h.9M244.5 447.5h.9M246 447.5h.9M246.5 447.5h.9M247 447.5h.9M248 447.5h.9M249.5 447.5h.9M250 447.5h.9M217 448h.9M219.5 448h.9M222.5 448h.9M223 448h.9M224.5 448h.9M225.5 448h.9M226 448h.9M227.5 448h.9M228 448h.9M228.5 448h.9M229 448h.9M229.5 448h.9M230 448h.9M230.5 448h.9M231 448h.9M231.5 448h.9M232 448h.9M232.5 448h.9M233 448h.9M238.5 448h.9M239 448h.9M239.5 448h.9M240 448h.9M240.5 448h.9M241 448h.9M241.5 448h.9M242 448h.9M242.5 448h.9M243 448h.9M243.5 448h.9M244 448h.9M245.5 448h.9M246.5 448h.9M250.5 448h.9M251.5 448h.9M258 448h.9M215.5 448.5h.9M218 448.5h.9M221.5 448.5h.9M225 448.5h.9M226 448.5h.9M227.5 448.5h.9M228 448.5h.9M228.5 448.5h.9M229 448.5h.9M229.5 448.5h.9M230 448.5h.9M230.5 448.5h.9M231 448.5h.9M231.5 448.5h.9M232 448.5h.9M232.5 448.5h.9M233 448.5h.9M233.5 448.5h.9M238.5 448.5h.9M239 448.5h.9M239.5 448.5h.9M240 448.5h.9M240.5 448.5h.9M241 448.5h.9M241.5 448.5h.9M242 448.5h.9M242.5 448.5h.9M243 448.5h.9M244 448.5h.9M244.5 448.5h.9M245 448.5h.9M245.5 448.5h.9M246 448.5h.9M246.5 448.5h.9M248.5 448.5h.9M249.5 448.5h.9M250 448.5h.9M259.5 448.5h.9M216 449h.9M217 449h.9M220.5 449h.9M223 449h.9M224 449h.9M226.5 449h.9M227.5 449h.9M228 449h.9M228.5 449h.9M229.5 449h.9M230 449h.9M230.5 449h.9M231 449h.9M231.5 449h.9M232 449h.9M232.5 449h.9M233 449h.9M233.5 449h.9M238.5 449h.9M239 449h.9M239.5 449h.9M240 449h.9M240.5 449h.9M241 449h.9M241.5 449h.9M242 449h.9M242.5 449h.9M243 449h.9M243.5 449h.9M244 449h.9M244.5 449h.9M245 449h.9M246 449h.9M247 449h.9M247.5 449h.9M248 449h.9M251.5 449h.9M219.5 449.5h.9M225 449.5h.9M225.5 449.5h.9M226 449.5h.9M227 449.5h.9M227.5 449.5h.9M228 449.5h.9M228.5 449.5h.9M229 449.5h.9M229.5 449.5h.9M230 449.5h.9M230.5 449.5h.9M231 449.5h.9M231.5 449.5h.9M232 449.5h.9M232.5 449.5h.9M233 449.5h.9M233.5 449.5h.9M238.5 449.5h.9M239 449.5h.9M239.5 449.5h.9M240 449.5h.9M240.5 449.5h.9M241 449.5h.9M241.5 449.5h.9M242 449.5h.9M242.5 449.5h.9M243 449.5h.9M243.5 449.5h.9M244 449.5h.9M244.5 449.5h.9M245 449.5h.9M245.5 449.5h.9M251.5 449.5h.9M256 449.5h.9M262.5 449.5h.9M205.5 450h.9M216 450h.9M224 450h.9M225.5 450h.9M227 450h.9M227.5 450h.9M228 450h.9M228.5 450h.9M229 450h.9M229.5 450h.9M230 450h.9M230.5 450h.9M231 450h.9M231.5 450h.9M232 450h.9M232.5 450h.9M233 450h.9M233.5 450h.9M238.5 450h.9M239 450h.9M239.5 450h.9M240 450h.9M240.5 450h.9M241 450h.9M241.5 450h.9M242 450h.9M242.5 450h.9M243 450h.9M243.5 450h.9M244.5 450h.9M245 450h.9M248 450h.9M248.5 450h.9M249 450h.9M249.5 450h.9M259.5 450h.9M222.5 450.5h.9M223 450.5h.9M224.5 450.5h.9M225.5 450.5h.9M226 450.5h.9M226.5 450.5h.9M227 450.5h.9M227.5 450.5h.9M228 450.5h.9M228.5 450.5h.9M229 450.5h.9M229.5 450.5h.9M230 450.5h.9M230.5 450.5h.9M231 450.5h.9M231.5 450.5h.9M232 450.5h.9M232.5 450.5h.9M233 450.5h.9M233.5 450.5h.9M238.5 450.5h.9M239 450.5h.9M239.5 450.5h.9M240 450.5h.9M240.5 450.5h.9M241 450.5h.9M241.5 450.5h.9M242 450.5h.9M242.5 450.5h.9M243 450.5h.9M243.5 450.5h.9M244 450.5h.9M244.5 450.5h.9M245 450.5h.9M246.5 450.5h.9M247 450.5h.9M247.5 450.5h.9M248.5 450.5h.9M249 450.5h.9M250 450.5h.9M205.5 451h.9M224 451h.9M225.5 451h.9M226 451h.9M226.5 451h.9M227 451h.9M227.5 451h.9M228 451h.9M228.5 451h.9M229 451h.9M229.5 451h.9M230 451h.9M230.5 451h.9M231 451h.9M231.5 451h.9M232 451h.9M232.5 451h.9M233 451h.9M233.5 451h.9M238 451h.9M238.5 451h.9M239 451h.9M239.5 451h.9M240 451h.9M240.5 451h.9M241 451h.9M241.5 451h.9M242 451h.9M242.5 451h.9M243 451h.9M243.5 451h.9M244 451h.9M244.5 451h.9M245 451h.9M246.5 451h.9M247 451h.9M249 451h.9M250 451h.9M223 451.5h.9M224.5 451.5h.9M225 451.5h.9M225.5 451.5h.9M226.5 451.5h.9M227 451.5h.9M227.5 451.5h.9M228 451.5h.9M229 451.5h.9M229.5 451.5h.9M230 451.5h.9M230.5 451.5h.9M231 451.5h.9M231.5 451.5h.9M232 451.5h.9M232.5 451.5h.9M233 451.5h.9M233.5 451.5h.9M234 451.5h.9M238 451.5h.9M238.5 451.5h.9M239 451.5h.9M239.5 451.5h.9M240 451.5h.9M240.5 451.5h.9M241 451.5h.9M241.5 451.5h.9M242 451.5h.9M242.5 451.5h.9M243 451.5h.9M243.5 451.5h.9M244 451.5h.9M245 451.5h.9M246 451.5h.9M246.5 451.5h.9M247.5 451.5h.9M249 451.5h.9M249.5 451.5h.9M254.5 451.5h.9M258 451.5h.9M224 452h.9M224.5 452h.9M225.5 452h.9M226 452h.9M227.5 452h.9M228 452h.9M228.5 452h.9M229 452h.9M229.5 452h.9M230 452h.9M230.5 452h.9M231 452h.9M231.5 452h.9M232 452h.9M232.5 452h.9M233 452h.9M233.5 452h.9M234 452h.9M238 452h.9M238.5 452h.9M239 452h.9M239.5 452h.9M240 452h.9M240.5 452h.9M241 452h.9M241.5 452h.9M242 452h.9M242.5 452h.9M243 452h.9M243.5 452h.9M244 452h.9M244.5 452h.9M245 452h.9M245.5 452h.9M246.5 452h.9M247 452h.9M248.5 452h.9M249 452h.9M251 452h.9M252.5 452h.9M253 452h.9M256.5 452h.9M223 452.5h.9M223.5 452.5h.9M226 452.5h.9M226.5 452.5h.9M227 452.5h.9M227.5 452.5h.9M228.5 452.5h.9M229 452.5h.9M229.5 452.5h.9M230 452.5h.9M230.5 452.5h.9M231 452.5h.9M231.5 452.5h.9M232 452.5h.9M232.5 452.5h.9M233 452.5h.9M233.5 452.5h.9M234 452.5h.9M238 452.5h.9M238.5 452.5h.9M239 452.5h.9M239.5 452.5h.9M240 452.5h.9M240.5 452.5h.9M241 452.5h.9M241.5 452.5h.9M242 452.5h.9M242.5 452.5h.9M243 452.5h.9M243.5 452.5h.9M244 452.5h.9M244.5 452.5h.9M245 452.5h.9M246 452.5h.9M247 452.5h.9M252.5 452.5h.9M219.5 453h.9M220 453h.9M222 453h.9M222.5 453h.9M224.5 453h.9M226 453h.9M226.5 453h.9M228 453h.9M228.5 453h.9M229 453h.9M229.5 453h.9M230 453h.9M230.5 453h.9M231 453h.9M231.5 453h.9M232 453h.9M232.5 453h.9M233 453h.9M233.5 453h.9M234 453h.9M238 453h.9M238.5 453h.9M239 453h.9M239.5 453h.9M240 453h.9M240.5 453h.9M241 453h.9M241.5 453h.9M242 453h.9M242.5 453h.9M243.5 453h.9M244 453h.9M244.5 453h.9M245 453h.9M245.5 453h.9M247 453h.9M247.5 453h.9M249.5 453h.9M251.5 453h.9M252 453h.9M212.5 453.5h.9M225.5 453.5h.9M226 453.5h.9M227.5 453.5h.9M228 453.5h.9M229 453.5h.9M229.5 453.5h.9M230 453.5h.9M230.5 453.5h.9M231 453.5h.9M231.5 453.5h.9M232 453.5h.9M232.5 453.5h.9M233 453.5h.9M233.5 453.5h.9M234 453.5h.9M238 453.5h.9M238.5 453.5h.9M239 453.5h.9M239.5 453.5h.9M240 453.5h.9M240.5 453.5h.9M241 453.5h.9M241.5 453.5h.9M242 453.5h.9M242.5 453.5h.9M243 453.5h.9M243.5 453.5h.9M244 453.5h.9M244.5 453.5h.9M245 453.5h.9M245.5 453.5h.9M246 453.5h.9M248.5 453.5h.9M249.5 453.5h.9M256 453.5h.9M214.5 454h.9M218.5 454h.9M221.5 454h.9M222.5 454h.9M223.5 454h.9M225.5 454h.9M226.5 454h.9M227 454h.9M228 454h.9M228.5 454h.9M229 454h.9M229.5 454h.9M230 454h.9M230.5 454h.9M231 454h.9M231.5 454h.9M232 454h.9M232.5 454h.9M233 454h.9M233.5 454h.9M234 454h.9M237.5 454h.9M238 454h.9M238.5 454h.9M239 454h.9M239.5 454h.9M240 454h.9M240.5 454h.9M241 454h.9M241.5 454h.9M242 454h.9M242.5 454h.9M243 454h.9M243.5 454h.9M245 454h.9M245.5 454h.9M246 454h.9M247 454h.9M249.5 454h.9M212.5 454.5h.9M218.5 454.5h.9M219.5 454.5h.9M220.5 454.5h.9M225 454.5h.9M225.5 454.5h.9M227.5 454.5h.9M228 454.5h.9M228.5 454.5h.9M229.5 454.5h.9M230 454.5h.9M230.5 454.5h.9M231 454.5h.9M231.5 454.5h.9M232 454.5h.9M232.5 454.5h.9M233 454.5h.9M233.5 454.5h.9M234 454.5h.9M234.5 454.5h.9M237.5 454.5h.9M238 454.5h.9M238.5 454.5h.9M239 454.5h.9M239.5 454.5h.9M240 454.5h.9M240.5 454.5h.9M241 454.5h.9M241.5 454.5h.9M242 454.5h.9M242.5 454.5h.9M243 454.5h.9M243.5 454.5h.9M244 454.5h.9M244.5 454.5h.9M245 454.5h.9M245.5 454.5h.9M246 454.5h.9M247 454.5h.9M249 454.5h.9M249.5 454.5h.9M250.5 454.5h.9M252.5 454.5h.9M254.5 454.5h.9M255 454.5h.9M220.5 455h.9M224 455h.9M225 455h.9M226 455h.9M227 455h.9M227.5 455h.9M228 455h.9M228.5 455h.9M229 455h.9M229.5 455h.9M230 455h.9M230.5 455h.9M231 455h.9M231.5 455h.9M232 455h.9M232.5 455h.9M233 455h.9M233.5 455h.9M234 455h.9M234.5 455h.9M237.5 455h.9M238 455h.9M238.5 455h.9M239 455h.9M239.5 455h.9M240 455h.9M240.5 455h.9M241 455h.9M241.5 455h.9M242 455h.9M242.5 455h.9M243 455h.9M243.5 455h.9M244 455h.9M244.5 455h.9M245.5 455h.9M248 455h.9M249.5 455h.9M250 455h.9M253.5 455h.9M257.5 455h.9M218 455.5h.9M224.5 455.5h.9M225 455.5h.9M225.5 455.5h.9M226 455.5h.9M227.5 455.5h.9M228 455.5h.9M229.5 455.5h.9M230 455.5h.9M230.5 455.5h.9M231 455.5h.9M231.5 455.5h.9M232 455.5h.9M232.5 455.5h.9M233 455.5h.9M233.5 455.5h.9M234 455.5h.9M234.5 455.5h.9M237.5 455.5h.9M238 455.5h.9M238.5 455.5h.9M239 455.5h.9M239.5 455.5h.9M240 455.5h.9M240.5 455.5h.9M241 455.5h.9M241.5 455.5h.9M242 455.5h.9M242.5 455.5h.9M243 455.5h.9M243.5 455.5h.9M244 455.5h.9M244.5 455.5h.9M245 455.5h.9M246.5 455.5h.9M247 455.5h.9M249 455.5h.9M251.5 455.5h.9M253.5 455.5h.9M217.5 456h.9M218.5 456h.9M222.5 456h.9M223.5 456h.9M225 456h.9M226 456h.9M226.5 456h.9M227 456h.9M227.5 456h.9M228 456h.9M228.5 456h.9M229 456h.9M229.5 456h.9M230 456h.9M230.5 456h.9M231 456h.9M231.5 456h.9M232 456h.9M232.5 456h.9M233 456h.9M233.5 456h.9M234 456h.9M234.5 456h.9M237.5 456h.9M238 456h.9M238.5 456h.9M239 456h.9M239.5 456h.9M240 456h.9M240.5 456h.9M241 456h.9M241.5 456h.9M242 456h.9M242.5 456h.9M243 456h.9M243.5 456h.9M244 456h.9M244.5 456h.9M245 456h.9M245.5 456h.9M246 456h.9M247 456h.9M247.5 456h.9M249 456h.9M221 456.5h.9M222.5 456.5h.9M223 456.5h.9M224 456.5h.9M225 456.5h.9M225.5 456.5h.9M226.5 456.5h.9M227.5 456.5h.9M228.5 456.5h.9M229 456.5h.9M229.5 456.5h.9M230 456.5h.9M230.5 456.5h.9M231 456.5h.9M231.5 456.5h.9M232 456.5h.9M232.5 456.5h.9M233 456.5h.9M233.5 456.5h.9M234 456.5h.9M234.5 456.5h.9M237.5 456.5h.9M238 456.5h.9M238.5 456.5h.9M239 456.5h.9M239.5 456.5h.9M240 456.5h.9M240.5 456.5h.9M241 456.5h.9M241.5 456.5h.9M242 456.5h.9M242.5 456.5h.9M243 456.5h.9M244 456.5h.9M244.5 456.5h.9M245 456.5h.9M245.5 456.5h.9M247.5 456.5h.9M248 456.5h.9M250 456.5h.9M224.5 457h.9M226.5 457h.9M227 457h.9M227.5 457h.9M228 457h.9M228.5 457h.9M229 457h.9M229.5 457h.9M230 457h.9M230.5 457h.9M231 457h.9M231.5 457h.9M232 457h.9M232.5 457h.9M233 457h.9M233.5 457h.9M234 457h.9M234.5 457h.9M235 457h.9M237.5 457h.9M238 457h.9M238.5 457h.9M239 457h.9M239.5 457h.9M240 457h.9M240.5 457h.9M241 457h.9M241.5 457h.9M242 457h.9M242.5 457h.9M243 457h.9M243.5 457h.9M245 457h.9M245.5 457h.9M246 457h.9M246.5 457h.9M247.5 457h.9M248 457h.9M248.5 457h.9M252.5 457h.9M253.5 457h.9M256 457h.9M222 457.5h.9M222.5 457.5h.9M223.5 457.5h.9M224.5 457.5h.9M225.5 457.5h.9M226 457.5h.9M227.5 457.5h.9M228 457.5h.9M228.5 457.5h.9M229 457.5h.9M229.5 457.5h.9M230 457.5h.9M230.5 457.5h.9M231 457.5h.9M231.5 457.5h.9M232 457.5h.9M232.5 457.5h.9M233 457.5h.9M233.5 457.5h.9M234 457.5h.9M234.5 457.5h.9M235 457.5h.9M237 457.5h.9M237.5 457.5h.9M238 457.5h.9M238.5 457.5h.9M239 457.5h.9M239.5 457.5h.9M240 457.5h.9M240.5 457.5h.9M241 457.5h.9M241.5 457.5h.9M242 457.5h.9M242.5 457.5h.9M243 457.5h.9M243.5 457.5h.9M244 457.5h.9M244.5 457.5h.9M245 457.5h.9M246.5 457.5h.9M247.5 457.5h.9M248 457.5h.9M248.5 457.5h.9M249.5 457.5h.9M221 458h.9M226 458h.9M227 458h.9M228 458h.9M228.5 458h.9M229 458h.9M229.5 458h.9M230 458h.9M230.5 458h.9M231 458h.9M231.5 458h.9M232 458h.9M232.5 458h.9M233 458h.9M233.5 458h.9M234 458h.9M234.5 458h.9M235 458h.9M237 458h.9M237.5 458h.9M238 458h.9M238.5 458h.9M239 458h.9M239.5 458h.9M240 458h.9M240.5 458h.9M241 458h.9M241.5 458h.9M242 458h.9M242.5 458h.9M243 458h.9M243.5 458h.9M244 458h.9M244.5 458h.9M246 458h.9M246.5 458h.9M248 458h.9M248.5 458h.9M250.5 458h.9M251.5 458h.9M223.5 458.5h.9M224.5 458.5h.9M226.5 458.5h.9M227.5 458.5h.9M228.5 458.5h.9M229 458.5h.9M229.5 458.5h.9M230 458.5h.9M230.5 458.5h.9M231 458.5h.9M231.5 458.5h.9M232 458.5h.9M232.5 458.5h.9M233 458.5h.9M233.5 458.5h.9M234 458.5h.9M234.5 458.5h.9M235 458.5h.9M237 458.5h.9M237.5 458.5h.9M238 458.5h.9M238.5 458.5h.9M239 458.5h.9M239.5 458.5h.9M240 458.5h.9M240.5 458.5h.9M241 458.5h.9M241.5 458.5h.9M242 458.5h.9M242.5 458.5h.9M243 458.5h.9M243.5 458.5h.9M244 458.5h.9M244.5 458.5h.9M245.5 458.5h.9M247.5 458.5h.9M249 458.5h.9M249.5 458.5h.9M251.5 458.5h.9M252 458.5h.9M255 458.5h.9M223.5 459h.9M225.5 459h.9M226.5 459h.9M227 459h.9M227.5 459h.9M228 459h.9M228.5 459h.9M229 459h.9M229.5 459h.9M230 459h.9M230.5 459h.9M231 459h.9M231.5 459h.9M232 459h.9M232.5 459h.9M233 459h.9M233.5 459h.9M234 459h.9M234.5 459h.9M235 459h.9M237 459h.9M237.5 459h.9M238 459h.9M238.5 459h.9M239 459h.9M239.5 459h.9M240 459h.9M240.5 459h.9M241 459h.9M241.5 459h.9M242 459h.9M242.5 459h.9M243 459h.9M243.5 459h.9M244 459h.9M244.5 459h.9M245 459h.9M245.5 459h.9M246 459h.9M246.5 459h.9M247 459h.9M249 459h.9M220.5 459.5h.9M222.5 459.5h.9M226.5 459.5h.9M227.5 459.5h.9M228 459.5h.9M228.5 459.5h.9M229 459.5h.9M229.5 459.5h.9M230.5 459.5h.9M231 459.5h.9M231.5 459.5h.9M232.5 459.5h.9M233 459.5h.9M233.5 459.5h.9M234 459.5h.9M234.5 459.5h.9M235 459.5h.9M237 459.5h.9M237.5 459.5h.9M238 459.5h.9M238.5 459.5h.9M239 459.5h.9M239.5 459.5h.9M240 459.5h.9M240.5 459.5h.9M241 459.5h.9M241.5 459.5h.9M242 459.5h.9M242.5 459.5h.9M243 459.5h.9M243.5 459.5h.9M244.5 459.5h.9M246.5 459.5h.9M225.5 460h.9M226.5 460h.9M227.5 460h.9M228.5 460h.9M229 460h.9M229.5 460h.9M230 460h.9M230.5 460h.9M231 460h.9M231.5 460h.9M232 460h.9M232.5 460h.9M233 460h.9M233.5 460h.9M234 460h.9M234.5 460h.9M235 460h.9M235.5 460h.9M237 460h.9M237.5 460h.9M238 460h.9M238.5 460h.9M239 460h.9M239.5 460h.9M240 460h.9M240.5 460h.9M241 460h.9M241.5 460h.9M242 460h.9M242.5 460h.9M243 460h.9M243.5 460h.9M244.5 460h.9M245 460h.9M245.5 460h.9M247.5 460h.9M250.5 460h.9M221 460.5h.9M223 460.5h.9M226 460.5h.9M228 460.5h.9M229 460.5h.9M229.5 460.5h.9M230 460.5h.9M230.5 460.5h.9M231 460.5h.9M231.5 460.5h.9M232 460.5h.9M232.5 460.5h.9M233 460.5h.9M233.5 460.5h.9M234 460.5h.9M234.5 460.5h.9M235 460.5h.9M235.5 460.5h.9M236.5 460.5h.9M237 460.5h.9M237.5 460.5h.9M238 460.5h.9M238.5 460.5h.9M239 460.5h.9M239.5 460.5h.9M240 460.5h.9M240.5 460.5h.9M241 460.5h.9M241.5 460.5h.9M242 460.5h.9M242.5 460.5h.9M243 460.5h.9M243.5 460.5h.9M244.5 460.5h.9M245 460.5h.9M248 460.5h.9M249 460.5h.9M228 461h.9M229 461h.9M229.5 461h.9M230 461h.9M230.5 461h.9M231 461h.9M231.5 461h.9M232 461h.9M232.5 461h.9M233 461h.9M233.5 461h.9M234 461h.9M234.5 461h.9M235 461h.9M235.5 461h.9M236.5 461h.9M237 461h.9M237.5 461h.9M238 461h.9M238.5 461h.9M239 461h.9M239.5 461h.9M240 461h.9M240.5 461h.9M241 461h.9M241.5 461h.9M242 461h.9M242.5 461h.9M243 461h.9M243.5 461h.9M244.5 461h.9M246 461h.9M223.5 461.5h.9M225 461.5h.9M225.5 461.5h.9M226.5 461.5h.9M227 461.5h.9M227.5 461.5h.9M229 461.5h.9M229.5 461.5h.9M230 461.5h.9M230.5 461.5h.9M231 461.5h.9M231.5 461.5h.9M232 461.5h.9M232.5 461.5h.9M233 461.5h.9M233.5 461.5h.9M234 461.5h.9M234.5 461.5h.9M235 461.5h.9M235.5 461.5h.9M236.5 461.5h.9M237 461.5h.9M237.5 461.5h.9M238 461.5h.9M238.5 461.5h.9M239 461.5h.9M239.5 461.5h.9M240 461.5h.9M240.5 461.5h.9M241 461.5h.9M241.5 461.5h.9M242 461.5h.9M242.5 461.5h.9M243 461.5h.9M243.5 461.5h.9M244 461.5h.9M244.5 461.5h.9M245 461.5h.9M246 461.5h.9M247 461.5h.9M248 461.5h.9M248.5 461.5h.9M224 462h.9M226.5 462h.9M227 462h.9M228.5 462h.9M229 462h.9M229.5 462h.9M230 462h.9M230.5 462h.9M231 462h.9M231.5 462h.9M232 462h.9M232.5 462h.9M233 462h.9M233.5 462h.9M234 462h.9M234.5 462h.9M235 462h.9M235.5 462h.9M236.5 462h.9M237 462h.9M237.5 462h.9M238 462h.9M238.5 462h.9M239 462h.9M239.5 462h.9M240 462h.9M240.5 462h.9M241 462h.9M241.5 462h.9M242 462h.9M242.5 462h.9M243 462h.9M243.5 462h.9M244.5 462h.9M245 462h.9M225.5 462.5h.9M226 462.5h.9M226.5 462.5h.9M228 462.5h.9M228.5 462.5h.9M229.5 462.5h.9M230 462.5h.9M230.5 462.5h.9M231 462.5h.9M231.5 462.5h.9M232 462.5h.9M232.5 462.5h.9M233 462.5h.9M233.5 462.5h.9M234 462.5h.9M234.5 462.5h.9M235 462.5h.9M235.5 462.5h.9M236.5 462.5h.9M237 462.5h.9M237.5 462.5h.9M238 462.5h.9M238.5 462.5h.9M239 462.5h.9M239.5 462.5h.9M240 462.5h.9M240.5 462.5h.9M241 462.5h.9M241.5 462.5h.9M242 462.5h.9M242.5 462.5h.9M243 462.5h.9M244 462.5h.9M245.5 462.5h.9M247.5 462.5h.9M226.5 463h.9M227.5 463h.9M228.5 463h.9M229 463h.9M229.5 463h.9M230 463h.9M230.5 463h.9M231 463h.9M231.5 463h.9M232 463h.9M232.5 463h.9M233 463h.9M233.5 463h.9M234 463h.9M234.5 463h.9M235 463h.9M235.5 463h.9M236 463h.9M236.5 463h.9M237 463h.9M237.5 463h.9M238 463h.9M238.5 463h.9M239 463h.9M239.5 463h.9M240 463h.9M240.5 463h.9M241 463h.9M241.5 463h.9M243 463h.9M243.5 463h.9M244 463h.9M244.5 463h.9M245.5 463h.9M225.5 463.5h.9M227.5 463.5h.9M228 463.5h.9M229 463.5h.9M229.5 463.5h.9M230 463.5h.9M230.5 463.5h.9M231 463.5h.9M231.5 463.5h.9M232 463.5h.9M232.5 463.5h.9M233 463.5h.9M233.5 463.5h.9M234 463.5h.9M234.5 463.5h.9M235 463.5h.9M235.5 463.5h.9M236 463.5h.9M236.5 463.5h.9M237 463.5h.9M237.5 463.5h.9M238 463.5h.9M238.5 463.5h.9M239 463.5h.9M239.5 463.5h.9M240 463.5h.9M240.5 463.5h.9M241 463.5h.9M241.5 463.5h.9M242 463.5h.9M242.5 463.5h.9M243 463.5h.9M244 463.5h.9M245 463.5h.9M245.5 463.5h.9M246 463.5h.9M227.5 464h.9M229 464h.9M229.5 464h.9M230 464h.9M230.5 464h.9M231 464h.9M231.5 464h.9M232 464h.9M232.5 464h.9M233 464h.9M233.5 464h.9M234 464h.9M234.5 464h.9M235 464h.9M235.5 464h.9M236 464h.9M236.5 464h.9M237 464h.9M237.5 464h.9M238 464h.9M238.5 464h.9M239 464h.9M239.5 464h.9M240 464h.9M240.5 464h.9M241 464h.9M241.5 464h.9M242 464h.9M243 464h.9M227 464.5h.9M227.5 464.5h.9M229 464.5h.9M229.5 464.5h.9M230.5 464.5h.9M231 464.5h.9M231.5 464.5h.9M232 464.5h.9M232.5 464.5h.9M233 464.5h.9M233.5 464.5h.9M234 464.5h.9M234.5 464.5h.9M235 464.5h.9M235.5 464.5h.9M236 464.5h.9M236.5 464.5h.9M237 464.5h.9M237.5 464.5h.9M238 464.5h.9M238.5 464.5h.9M239 464.5h.9M239.5 464.5h.9M240 464.5h.9M240.5 464.5h.9M241 464.5h.9M241.5 464.5h.9M242 464.5h.9M243 464.5h.9M243.5 464.5h.9M244 464.5h.9M228 465h.9M229 465h.9M230 465h.9M230.5 465h.9M231 465h.9M231.5 465h.9M232 465h.9M232.5 465h.9M233 465h.9M233.5 465h.9M234 465h.9M234.5 465h.9M235 465h.9M235.5 465h.9M236 465h.9M236.5 465h.9M237 465h.9M237.5 465h.9M238 465h.9M238.5 465h.9M239 465h.9M239.5 465h.9M240 465h.9M240.5 465h.9M242 465h.9M244.5 465h.9M228.5 465.5h.9M229 465.5h.9M229.5 465.5h.9M230.5 465.5h.9M231.5 465.5h.9M232 465.5h.9M232.5 465.5h.9M233 465.5h.9M233.5 465.5h.9M234 465.5h.9M234.5 465.5h.9M235 465.5h.9M235.5 465.5h.9M236 465.5h.9M236.5 465.5h.9M237 465.5h.9M237.5 465.5h.9M238 465.5h.9M238.5 465.5h.9M239 465.5h.9M239.5 465.5h.9M240 465.5h.9M240.5 465.5h.9M241.5 465.5h.9M242.5 465.5h.9M243 465.5h.9M243.5 465.5h.9M229 466h.9M230 466h.9M230.5 466h.9M231 466h.9M231.5 466h.9M232 466h.9M232.5 466h.9M233 466h.9M233.5 466h.9M234 466h.9M234.5 466h.9M235 466h.9M235.5 466h.9M236 466h.9M236.5 466h.9M237 466h.9M237.5 466h.9M238 466h.9M238.5 466h.9M239 466h.9M239.5 466h.9M240 466h.9M240.5 466h.9M241 466h.9M241.5 466h.9M243 466h.9M229.5 466.5h.9M231 466.5h.9M232 466.5h.9M232.5 466.5h.9M233 466.5h.9M233.5 466.5h.9M234 466.5h.9M234.5 466.5h.9M235 466.5h.9M235.5 466.5h.9M236 466.5h.9M236.5 466.5h.9M237 466.5h.9M237.5 466.5h.9M238 466.5h.9M238.5 466.5h.9M239 466.5h.9M239.5 466.5h.9M240 466.5h.9M240.5 466.5h.9M242 466.5h.9M231.5 467h.9M232 467h.9M232.5 467h.9M233 467h.9M233.5 467h.9M234 467h.9M234.5 467h.9M235 467h.9M235.5 467h.9M236 467h.9M236.5 467h.9M237 467h.9M237.5 467h.9M238 467h.9M238.5 467h.9M239 467h.9M239.5 467h.9M240 467h.9M240.5 467h.9M241 467h.9M241.5 467h.9M231.5 467.5h.9M232.5 467.5h.9M233 467.5h.9M233.5 467.5h.9M234 467.5h.9M234.5 467.5h.9M235 467.5h.9M235.5 467.5h.9M236 467.5h.9M236.5 467.5h.9M237 467.5h.9M237.5 467.5h.9M238 467.5h.9M238.5 467.5h.9M239 467.5h.9M239.5 467.5h.9M240 467.5h.9M240.5 467.5h.9M233 468h.9M233.5 468h.9M234 468h.9M234.5 468h.9M235 468h.9M235.5 468h.9M236 468h.9M236.5 468h.9M237 468h.9M237.5 468h.9M238 468h.9M238.5 468h.9M239 468h.9M239.5 468h.9M240 468h.9M233.5 468.5h.9M234 468.5h.9M234.5 468.5h.9M235 468.5h.9M235.5 468.5h.9M236 468.5h.9M236.5 468.5h.9M237 468.5h.9M237.5 468.5h.9M238 468.5h.9M238.5 468.5h.9M239 468.5h.9M233.5 469h.9M234 469h.9M234.5 469h.9M235 469h.9M235.5 469h.9M236 469h.9M236.5 469h.9M237 469h.9M237.5 469h.9M238 469h.9M238.5 469h.9M234 469.5h.9M234.5 469.5h.9M235 469.5h.9M235.5 469.5h.9M236 469.5h.9M236.5 469.5h.9M237 469.5h.9M237.5 469.5h.9M235 470h.9M235.5 470h.9M236 470h.9M236.5 470h.9M237 470h.9M211 470.5h.9M211.5 470.5h.9M212 470.5h.9M212.5 470.5h.9M213 470.5h.9M213.5 470.5h.9M214 470.5h.9M214.5 470.5h.9M215 470.5h.9M215.5 470.5h.9M216 470.5h.9M216.5 470.5h.9M217 470.5h.9M217.5 470.5h.9M218 470.5h.9M218.5 470.5h.9M219 470.5h.9M219.5 470.5h.9M220 470.5h.9M220.5 470.5h.9M221 470.5h.9M221.5 470.5h.9M222 470.5h.9M222.5 470.5h.9M223 470.5h.9M223.5 470.5h.9M224 470.5h.9M224.5 470.5h.9M225 470.5h.9M225.5 470.5h.9M226 470.5h.9M226.5 470.5h.9M227 470.5h.9M227.5 470.5h.9M228 470.5h.9M228.5 470.5h.9M229 470.5h.9M229.5 470.5h.9M230 470.5h.9M230.5 470.5h.9M231 470.5h.9M231.5 470.5h.9M232 470.5h.9M232.5 470.5h.9M233 470.5h.9M233.5 470.5h.9M234 470.5h.9M234.5 470.5h.9M235 470.5h.9M235.5 470.5h.9M236 470.5h.9M236.5 470.5h.9M237 470.5h.9M237.5 470.5h.9M238 470.5h.9M238.5 470.5h.9M239 470.5h.9M239.5 470.5h.9M240 470.5h.9M240.5 470.5h.9M241 470.5h.9M241.5 470.5h.9M242 470.5h.9M242.5 470.5h.9M243 470.5h.9M243.5 470.5h.9M244 470.5h.9M244.5 470.5h.9M245 470.5h.9M245.5 470.5h.9M246 470.5h.9M246.5 470.5h.9M247 470.5h.9M247.5 470.5h.9M248 470.5h.9M248.5 470.5h.9M249 470.5h.9M249.5 470.5h.9M250 470.5h.9M250.5 470.5h.9M251 470.5h.9M251.5 470.5h.9M252 470.5h.9M252.5 470.5h.9M253 470.5h.9M253.5 470.5h.9M254 470.5h.9M254.5 470.5h.9M255 470.5h.9M255.5 470.5h.9M256 470.5h.9M256.5 470.5h.9M257 470.5h.9M257.5 470.5h.9M258 470.5h.9M258.5 470.5h.9M259 470.5h.9M259.5 470.5h.9M260 470.5h.9M203 471h.9M206 471h.9M210.5 471h.9M211 471h.9M211.5 471h.9M212 471h.9M212.5 471h.9M213 471h.9M213.5 471h.9M214 471h.9M214.5 471h.9M215 471h.9M215.5 471h.9M216 471h.9M216.5 471h.9M217 471h.9M217.5 471h.9M218 471h.9M218.5 471h.9M219 471h.9M219.5 471h.9M220 471h.9M220.5 471h.9M221 471h.9M221.5 471h.9M222 471h.9M222.5 471h.9M223 471h.9M223.5 471h.9M224 471h.9M224.5 471h.9M225 471h.9M225.5 471h.9M226 471h.9M226.5 471h.9M227 471h.9M227.5 471h.9M228 471h.9M228.5 471h.9M229 471h.9M229.5 471h.9M230 471h.9M230.5 471h.9M231 471h.9M231.5 471h.9M232 471h.9M232.5 471h.9M233 471h.9M233.5 471h.9M234 471h.9M234.5 471h.9M235 471h.9M235.5 471h.9M236 471h.9M236.5 471h.9M237 471h.9M237.5 471h.9M238 471h.9M238.5 471h.9M239 471h.9M239.5 471h.9M240 471h.9M240.5 471h.9M241 471h.9M241.5 471h.9M242 471h.9M242.5 471h.9M243 471h.9M243.5 471h.9M244 471h.9M244.5 471h.9M245 471h.9M245.5 471h.9M246 471h.9M246.5 471h.9M247 471h.9M247.5 471h.9M248 471h.9M248.5 471h.9M249 471h.9M249.5 471h.9M250 471h.9M250.5 471h.9M251 471h.9M251.5 471h.9M252 471h.9M252.5 471h.9M253 471h.9M253.5 471h.9M254 471h.9M254.5 471h.9M255 471h.9M255.5 471h.9M256 471h.9M256.5 471h.9M257 471h.9M257.5 471h.9M258 471h.9M258.5 471h.9M259 471h.9M259.5 471h.9M260 471h.9M263.5 471h.9M264 471h.9M265 471h.9M212.5 471.5h.9M213.5 471.5h.9M214 471.5h.9M214.5 471.5h.9M215 471.5h.9M216 471.5h.9M216.5 471.5h.9M218 471.5h.9M219 471.5h.9M219.5 471.5h.9M220 471.5h.9M222 471.5h.9M222.5 471.5h.9M223 471.5h.9M224.5 471.5h.9M225 471.5h.9M227 471.5h.9M227.5 471.5h.9M228.5 471.5h.9M229 471.5h.9M231.5 471.5h.9M232 471.5h.9M233.5 471.5h.9M234 471.5h.9M235 471.5h.9M236 471.5h.9M236.5 471.5h.9M239 471.5h.9M242 471.5h.9M242.5 471.5h.9M244 471.5h.9M244.5 471.5h.9M245 471.5h.9M246 471.5h.9M247 471.5h.9M247.5 471.5h.9M248.5 471.5h.9M249.5 471.5h.9M250.5 471.5h.9M251 471.5h.9M251.5 471.5h.9M252 471.5h.9M252.5 471.5h.9M254.5 471.5h.9M255.5 471.5h.9M256 471.5h.9M257 471.5h.9M257.5 471.5h.9M258.5 471.5h.9M259 471.5h.9M260 471.5h.9" stroke="#000" stroke-width="1.05" fill="none" stroke-opacity="0.85"/><line x1="82.2" y1="270" x2="82.2" y2="481" stroke="#222" stroke-width="1.4" stroke-dasharray="2.4 1.6"/><line x1="236.5" y1="270" x2="236.5" y2="480.5" stroke="#222" stroke-width="1.4" stroke-dasharray="2.4 1.6"/><rect x="283.8" y="490.8" width="3.8" height="1.3" fill="#bbb"/><rect x="285.6" y="490.8" width="1.6" height="1.3" fill="#777"/><rect x="290" y="490.9" width="2" height="1.2" fill="#aaa"/><rect x="293.8" y="490.9" width="2" height="1.2" fill="#aaa"/><rect x="12.9" y="266.9" width="1.2" height="1.5" fill="#c8c8c8"/><rect x="12.9" y="270.8" width="1.2" height="1.3" fill="#888"/><rect x="13" y="273" width="1" height="1.2" fill="#d4d4d4"/><rect x="12.9" y="276.5" width="1.2" height="2" fill="#888"/><rect x="24.8" y="270" width="110.6" height="142.5" fill="none" stroke="#ff1a1a" stroke-width="2"/><rect x="181.2" y="270.2" width="110.8" height="142.3" fill="none" stroke="#ff1a1a" stroke-width="2"/><g font-family='"Liberation Sans", sans-serif'><text x="14.7" y="251.9" font-size="13.2" fill="#000" font-weight="bold">b</text><text x="65.8" y="262.5" font-size="9.5" fill="#111" textLength="38.6" lengthAdjust="spacingAndGlyphs" font-weight="bold">A549 cell</text><text x="214.8" y="262.5" font-size="9.5" fill="#111" textLength="55.5" lengthAdjust="spacingAndGlyphs" font-weight="bold">U-87 MG cell</text><text x="18.5" y="473.3" font-size="6" fill="#333" text-anchor="end">0</text><line x1="20.2" y1="471.2" x2="22.6" y2="471.2" stroke="#333" stroke-width="1"/><text x="173" y="473.3" font-size="6" fill="#333" text-anchor="end">0</text><line x1="174.9" y1="471.2" x2="177.3" y2="471.2" stroke="#333" stroke-width="1"/><text x="18.5" y="428.2" font-size="6" fill="#333" text-anchor="end">1</text><line x1="20.2" y1="426.1" x2="22.6" y2="426.1" stroke="#333" stroke-width="1"/><text x="173" y="428.2" font-size="6" fill="#333" text-anchor="end">1</text><line x1="174.9" y1="426.1" x2="177.3" y2="426.1" stroke="#333" stroke-width="1"/><text x="18.5" y="383.1" font-size="6" fill="#333" text-anchor="end">2</text><line x1="20.2" y1="381" x2="22.6" y2="381" stroke="#333" stroke-width="1"/><text x="173" y="383.1" font-size="6" fill="#333" text-anchor="end">2</text><line x1="174.9" y1="381" x2="177.3" y2="381" stroke="#333" stroke-width="1"/><text x="18.5" y="338.1" font-size="6" fill="#333" text-anchor="end">3</text><line x1="20.2" y1="336" x2="22.6" y2="336" stroke="#333" stroke-width="1"/><text x="173" y="338.1" font-size="6" fill="#333" text-anchor="end">3</text><line x1="174.9" y1="336" x2="177.3" y2="336" stroke="#333" stroke-width="1"/><text x="18.5" y="293.1" font-size="6" fill="#333" text-anchor="end">4</text><line x1="20.2" y1="291" x2="22.6" y2="291" stroke="#333" stroke-width="1"/><text x="173" y="293.1" font-size="6" fill="#333" text-anchor="end">4</text><line x1="174.9" y1="291" x2="177.3" y2="291" stroke="#333" stroke-width="1"/><text x="23.2" y="488.4" font-size="6" fill="#444" text-anchor="middle">-8</text><line x1="23.2" y1="480.5" x2="23.2" y2="483.8" stroke="#333" stroke-width="0.9"/><text x="52.3" y="488.4" font-size="6" fill="#444" text-anchor="middle">-4</text><line x1="52.3" y1="480.5" x2="52.3" y2="483.8" stroke="#333" stroke-width="0.9"/><text x="82.2" y="488.4" font-size="6" fill="#444" text-anchor="middle">0</text><line x1="82.2" y1="480.5" x2="82.2" y2="483.8" stroke="#333" stroke-width="0.9"/><text x="111.4" y="488.4" font-size="6" fill="#444" text-anchor="middle">4</text><line x1="111.4" y1="480.5" x2="111.4" y2="483.8" stroke="#333" stroke-width="0.9"/><text x="140.8" y="488.4" font-size="6" fill="#444" text-anchor="middle">8</text><line x1="140.8" y1="480.5" x2="140.8" y2="483.8" stroke="#333" stroke-width="0.9"/><text x="206.1" y="489.3" font-size="6" fill="#444" text-anchor="middle">-5</text><line x1="206.1" y1="480" x2="206.1" y2="483.4" stroke="#333" stroke-width="0.9"/><text x="236" y="489.3" font-size="6" fill="#444" text-anchor="middle">0</text><line x1="236" y1="480" x2="236" y2="483.4" stroke="#333" stroke-width="0.9"/><text x="265.9" y="489.3" font-size="6" fill="#444" text-anchor="middle">5</text><line x1="265.9" y1="480" x2="265.9" y2="483.4" stroke="#333" stroke-width="0.9"/><text x="51" y="496.2" font-size="8" fill="#444" textLength="60" lengthAdjust="spacingAndGlyphs">log<tspan font-size="5.5" dy="1.5">2</tspan><tspan dy="-1.5">(fold change)</tspan></text><text x="211" y="497.4" font-size="8" fill="#444" textLength="57.5" lengthAdjust="spacingAndGlyphs">log<tspan font-size="5.5" dy="1.5">2</tspan><tspan dy="-1.5">(fold change)</tspan></text><text x="8" y="397.4" font-size="8" fill="#333" transform="rotate(-90 8 397.4)" textLength="56" lengthAdjust="spacingAndGlyphs">– log<tspan font-size="5.5" dy="1.5">10</tspan><tspan dy="-1.5">(p value)</tspan></text><text x="297" y="403.8" font-size="9" fill="#333" textLength="45.8" lengthAdjust="spacingAndGlyphs">p value≤0.05</text><text x="297" y="425.6" font-size="9" fill="#333" textLength="54.3" lengthAdjust="spacingAndGlyphs">-log (0.05)= 1.3</text><path d="M304 412H315.2M304 412l3.2-2.6M304 412l3.2 2.6" stroke="#ff3030" stroke-width="0.9" fill="none"/></g><g font-family='"Liberation Sans", sans-serif'><text x="359.8" y="262.8" font-size="13.5" fill="#000" font-weight="bold">c</text><rect x="392" y="272.2" width="129.4" height="213.6" fill="#c1c1c1"/><line x1="392" y1="476.2" x2="521.4" y2="476.2" stroke="#cecece" stroke-width="0.8"/><line x1="392" y1="466.6" x2="521.4" y2="466.6" stroke="#cecece" stroke-width="0.8"/><line x1="392" y1="457" x2="521.4" y2="457" stroke="#cecece" stroke-width="0.8"/><line x1="392" y1="447.4" x2="521.4" y2="447.4" stroke="#cecece" stroke-width="0.8"/><line x1="392" y1="437.8" x2="521.4" y2="437.8" stroke="#cecece" stroke-width="0.8"/><line x1="392" y1="428.1" x2="521.4" y2="428.1" stroke="#cecece" stroke-width="0.8"/><line x1="392" y1="418.5" x2="521.4" y2="418.5" stroke="#cecece" stroke-width="0.8"/><line x1="392" y1="408.9" x2="521.4" y2="408.9" stroke="#cecece" stroke-width="0.8"/><line x1="392" y1="399.3" x2="521.4" y2="399.3" stroke="#cecece" stroke-width="0.8"/><line x1="392" y1="389.7" x2="521.4" y2="389.7" stroke="#cecece" stroke-width="0.8"/><line x1="392" y1="380.1" x2="521.4" y2="380.1" stroke="#cecece" stroke-width="0.8"/><line x1="392" y1="370.5" x2="521.4" y2="370.5" stroke="#cecece" stroke-width="0.8"/><line x1="392" y1="360.9" x2="521.4" y2="360.9" stroke="#cecece" stroke-width="0.8"/><line x1="392" y1="351.3" x2="521.4" y2="351.3" stroke="#cecece" stroke-width="0.8"/><line x1="392" y1="341.6" x2="521.4" y2="341.6" stroke="#cecece" stroke-width="0.8"/><line x1="392" y1="332" x2="521.4" y2="332" stroke="#cecece" stroke-width="0.8"/><line x1="392" y1="322.4" x2="521.4" y2="322.4" stroke="#cecece" stroke-width="0.8"/><line x1="392" y1="312.8" x2="521.4" y2="312.8" stroke="#cecece" stroke-width="0.8"/><line x1="392" y1="303.2" x2="521.4" y2="303.2" stroke="#cecece" stroke-width="0.8"/><line x1="392" y1="293.6" x2="521.4" y2="293.6" stroke="#cecece" stroke-width="0.8"/><line x1="392" y1="284" x2="521.4" y2="284" stroke="#cecece" stroke-width="0.8"/><line x1="392" y1="274.4" x2="521.4" y2="274.4" stroke="#cecece" stroke-width="0.8"/><line x1="421.2" y1="272.2" x2="421.2" y2="485.8" stroke="#cecece" stroke-width="0.8"/><line x1="450.2" y1="272.2" x2="450.2" y2="485.8" stroke="#cecece" stroke-width="0.8"/><line x1="479.2" y1="272.2" x2="479.2" y2="485.8" stroke="#cecece" stroke-width="0.8"/><line x1="508.3" y1="272.2" x2="508.3" y2="485.8" stroke="#cecece" stroke-width="0.8"/><line x1="392.5" y1="272.2" x2="392.5" y2="485.8" stroke="#a9a9a9" stroke-width="1"/><line x1="392" y1="485.4" x2="521.4" y2="485.4" stroke="#aaa" stroke-width="0.8"/><line x1="392" y1="272.7" x2="521.4" y2="272.7" stroke="#888" stroke-width="1"/><line x1="390.5" y1="487.8" x2="521.4" y2="487.8" stroke="#e6e6e6" stroke-width="0.8"/><line x1="390.5" y1="272.2" x2="390.5" y2="487.8" stroke="#e6e6e6" stroke-width="0.8"/><line x1="392.1" y1="485.8" x2="521.4" y2="272.2" stroke="#3a3a3a" stroke-width="1.1"/><g fill="#ff4b4b"><circle cx="514.6" cy="282.3" r="1.45"/><circle cx="513.5" cy="283.4" r="1.45"/><circle cx="512.9" cy="284.5" r="1.45"/><circle cx="512.2" cy="285.6" r="1.45"/><circle cx="511.3" cy="286.7" r="1.45"/><circle cx="510.2" cy="288.3" r="1.45"/><circle cx="508.6" cy="287.8" r="1.45"/><circle cx="508" cy="289.4" r="1.45"/><circle cx="509.1" cy="289.9" r="1.45"/><circle cx="507.5" cy="291" r="1.45"/><circle cx="505.3" cy="291.6" r="1.45"/><circle cx="505.9" cy="292.7" r="1.45"/><circle cx="510.8" cy="292.7" r="1.45"/><circle cx="508.6" cy="293.7" r="1.45"/><circle cx="509.7" cy="294.3" r="1.45"/><circle cx="507" cy="294.8" r="1.45"/><circle cx="504.8" cy="295.4" r="1.45"/><circle cx="507.5" cy="296.5" r="1.45"/><circle cx="506.4" cy="298.1" r="1.45"/><circle cx="504.2" cy="300.8" r="1.45"/><circle cx="502.1" cy="304.1" r="1.45"/><circle cx="501" cy="305.2" r="1.45"/><circle cx="499.9" cy="306.8" r="1.45"/><circle cx="498.8" cy="307.9" r="1.45"/><circle cx="491.7" cy="297.5" r="1.45"/><circle cx="495" cy="299.2" r="1.45"/><circle cx="496.6" cy="300.5" r="1.45"/><circle cx="498.8" cy="301.9" r="1.45"/><circle cx="494.5" cy="303.3" r="1.45"/><circle cx="488.7" cy="304.8" r="1.45"/><circle cx="476.5" cy="309.8" r="1.45"/><circle cx="489.8" cy="310.6" r="1.45"/><circle cx="496.1" cy="309" r="1.45"/><circle cx="485.2" cy="312.8" r="1.45"/><circle cx="497.7" cy="311.7" r="1.45"/><circle cx="493.9" cy="313.5" r="1.45"/><circle cx="501.5" cy="314.6" r="1.45"/><circle cx="490.1" cy="315.5" r="1.45"/><circle cx="490.7" cy="316.6" r="1.45"/><circle cx="484.1" cy="317.4" r="1.45"/><circle cx="487.9" cy="319.3" r="1.45"/><circle cx="487.4" cy="320.9" r="1.45"/><circle cx="478.7" cy="320.4" r="1.45"/><circle cx="478.2" cy="322.5" r="1.45"/><circle cx="472.7" cy="323.1" r="1.45"/><circle cx="479.2" cy="325.3" r="1.45"/><circle cx="484.1" cy="325.8" r="1.45"/><circle cx="491.7" cy="324.4" r="1.45"/><circle cx="471.1" cy="326.3" r="1.45"/><circle cx="461.2" cy="318.6" r="1.45"/><circle cx="470.5" cy="327.3" r="1.45"/><circle cx="458.3" cy="328.1" r="1.45"/><circle cx="463" cy="330" r="1.45"/><circle cx="474.3" cy="332.6" r="1.45"/><circle cx="464.2" cy="334" r="1.45"/><circle cx="469.8" cy="334.7" r="1.45"/><circle cx="471.9" cy="336.8" r="1.45"/><circle cx="465.4" cy="337.7" r="1.45"/><circle cx="464.2" cy="338.5" r="1.45"/><circle cx="462.4" cy="339.7" r="1.45"/><circle cx="446.2" cy="340.7" r="1.45"/><circle cx="471.3" cy="341.5" r="1.45"/><circle cx="469.5" cy="342.5" r="1.45"/><circle cx="467.2" cy="344.5" r="1.45"/><circle cx="432.8" cy="343.5" r="1.45"/><circle cx="453.2" cy="345.4" r="1.45"/><circle cx="460.1" cy="346.2" r="1.45"/><circle cx="455.3" cy="347.4" r="1.45"/><circle cx="456.5" cy="348.4" r="1.45"/><circle cx="459.7" cy="349.2" r="1.45"/><circle cx="452" cy="350.4" r="1.45"/><circle cx="426.5" cy="351.2" r="1.45"/><circle cx="443.2" cy="352.2" r="1.45"/><circle cx="429.8" cy="353.4" r="1.45"/><circle cx="429" cy="354.3" r="1.45"/><circle cx="445.8" cy="355.1" r="1.45"/><circle cx="441.7" cy="356" r="1.45"/><circle cx="446.8" cy="356.9" r="1.45"/><circle cx="439.9" cy="358.7" r="1.45"/><circle cx="444.6" cy="359.3" r="1.45"/><circle cx="444.5" cy="362.5" r="1.45"/><circle cx="448.3" cy="361.3" r="1.45"/><circle cx="413.7" cy="358" r="1.45"/><circle cx="427.7" cy="363.7" r="1.45"/><circle cx="440.4" cy="364.7" r="1.45"/><circle cx="411.3" cy="365.6" r="1.45"/><circle cx="433.5" cy="366.7" r="1.45"/><circle cx="437.4" cy="367.6" r="1.45"/><circle cx="422.3" cy="368.5" r="1.45"/><circle cx="425.3" cy="369.6" r="1.45"/><circle cx="399.8" cy="371.4" r="1.45"/><circle cx="414.9" cy="372.3" r="1.45"/><circle cx="414.3" cy="374.4" r="1.45"/><circle cx="409.9" cy="375.2" r="1.45"/><circle cx="409" cy="377" r="1.45"/><circle cx="423" cy="376.2" r="1.45"/><circle cx="410.8" cy="379.1" r="1.45"/><circle cx="417.3" cy="378.2" r="1.45"/><circle cx="417.9" cy="379.7" r="1.45"/><circle cx="416.1" cy="381.1" r="1.45"/><circle cx="424.7" cy="381.9" r="1.45"/><circle cx="408" cy="384.8" r="1.45"/><circle cx="401" cy="386.8" r="1.45"/><circle cx="398.7" cy="393.6" r="1.45"/><circle cx="405.4" cy="395.4" r="1.45"/><circle cx="401.9" cy="399.8" r="1.45"/><circle cx="402.8" cy="401.2" r="1.45"/><circle cx="404" cy="405.1" r="1.45"/><circle cx="398.1" cy="412.8" r="1.45"/><circle cx="392.6" cy="414.6" r="1.45"/><circle cx="400.7" cy="417.3" r="1.45"/><circle cx="399.5" cy="419.3" r="1.45"/><circle cx="396.5" cy="421.3" r="1.45"/><circle cx="393" cy="428.2" r="1.45"/><circle cx="397.1" cy="430.9" r="1.45"/><circle cx="395.7" cy="443.4" r="1.45"/><circle cx="393.6" cy="444.2" r="1.45"/><circle cx="395" cy="450.1" r="1.45"/><circle cx="449.3" cy="415.8" r="1.45"/><circle cx="449.3" cy="420.5" r="1.45"/><circle cx="444" cy="426.2" r="1.45"/><circle cx="436.8" cy="430" r="1.45"/><circle cx="434.5" cy="432" r="1.45"/><circle cx="442.2" cy="432.9" r="1.45"/><circle cx="438" cy="433.9" r="1.45"/><circle cx="436.2" cy="435.7" r="1.45"/><circle cx="439.2" cy="436.7" r="1.45"/><circle cx="438.6" cy="440.7" r="1.45"/><circle cx="447.5" cy="437.7" r="1.45"/><circle cx="430.7" cy="442.7" r="1.45"/><circle cx="428.2" cy="446.3" r="1.45"/><circle cx="432.1" cy="447.2" r="1.45"/><circle cx="433.9" cy="448.4" r="1.45"/><circle cx="442.8" cy="445.4" r="1.45"/><circle cx="429.4" cy="449.3" r="1.45"/><circle cx="427" cy="451.3" r="1.45"/><circle cx="420.6" cy="452.9" r="1.45"/><circle cx="435.1" cy="454.5" r="1.45"/><circle cx="449.3" cy="452.2" r="1.45"/><circle cx="392.5" cy="459.8" r="1.45"/><circle cx="394.6" cy="461.7" r="1.45"/><circle cx="397.4" cy="465.7" r="1.45"/><circle cx="435.3" cy="455" r="1.45"/><circle cx="431" cy="456" r="1.45"/><circle cx="424.3" cy="457" r="1.45"/><circle cx="436" cy="458" r="1.45"/><circle cx="441.1" cy="458.8" r="1.45"/><circle cx="423.6" cy="460.8" r="1.45"/><circle cx="426.1" cy="463.7" r="1.45"/><circle cx="431.8" cy="462.7" r="1.45"/><circle cx="420.1" cy="466.7" r="1.45"/><circle cx="418.7" cy="468.2" r="1.45"/><circle cx="421.8" cy="469.5" r="1.45"/><circle cx="421.4" cy="471.4" r="1.45"/><circle cx="411.9" cy="470.4" r="1.45"/><circle cx="415.5" cy="472.2" r="1.45"/><circle cx="408.6" cy="473.3" r="1.45"/><circle cx="413.2" cy="474.4" r="1.45"/><circle cx="416.9" cy="475.1" r="1.45"/><circle cx="419.2" cy="476.4" r="1.45"/><circle cx="406.8" cy="477.2" r="1.45"/><circle cx="412.7" cy="478.2" r="1.45"/><circle cx="410.3" cy="480" r="1.45"/><circle cx="403.3" cy="479" r="1.45"/><circle cx="404.3" cy="480.5" r="1.45"/><circle cx="401.6" cy="482.2" r="1.45"/><circle cx="405.3" cy="482.5" r="1.45"/><circle cx="406.3" cy="484.3" r="1.45"/><circle cx="407.6" cy="484" r="1.45"/><circle cx="394" cy="484.7" r="1.45"/><circle cx="511.1" cy="370.4" r="1.45"/><circle cx="502.4" cy="373.2" r="1.45"/><circle cx="493.1" cy="383.1" r="1.45"/><circle cx="503.1" cy="384" r="1.45"/><circle cx="497.3" cy="385.6" r="1.45"/><circle cx="500.3" cy="387.7" r="1.45"/><circle cx="486.7" cy="388.7" r="1.45"/><circle cx="477.5" cy="389.5" r="1.45"/><circle cx="481.2" cy="391.6" r="1.45"/><circle cx="495.5" cy="390.9" r="1.45"/><circle cx="503.8" cy="392.5" r="1.45"/><circle cx="492.7" cy="394.6" r="1.45"/><circle cx="479.8" cy="396.4" r="1.45"/><circle cx="475.7" cy="397.1" r="1.45"/><circle cx="473.8" cy="399.4" r="1.45"/><circle cx="467.8" cy="398.3" r="1.45"/><circle cx="465.7" cy="402.2" r="1.45"/><circle cx="457.7" cy="403.2" r="1.45"/><circle cx="486.5" cy="403.9" r="1.45"/><circle cx="485.8" cy="405.7" r="1.45"/><circle cx="460.6" cy="407" r="1.45"/><circle cx="461.9" cy="408" r="1.45"/><circle cx="469.6" cy="408.7" r="1.45"/><circle cx="483" cy="409.4" r="1.45"/><circle cx="480.3" cy="410" r="1.45"/><circle cx="458.8" cy="411.8" r="1.45"/><circle cx="463.7" cy="413.5" r="1.45"/><circle cx="456.9" cy="416.6" r="1.45"/><circle cx="453.7" cy="418.4" r="1.45"/><circle cx="482.7" cy="422.4" r="1.45"/><circle cx="489.2" cy="423.5" r="1.45"/><circle cx="472.4" cy="424.3" r="1.45"/><circle cx="457.4" cy="425.3" r="1.45"/><circle cx="466.6" cy="427.2" r="1.45"/><circle cx="451.5" cy="429" r="1.45"/><circle cx="455" cy="434.8" r="1.45"/><circle cx="452.7" cy="439.8" r="1.45"/><circle cx="473.5" cy="438.7" r="1.45"/><circle cx="468.5" cy="441.5" r="1.45"/><circle cx="450.9" cy="454.2" r="1.45"/><circle cx="454.4" cy="464.6" r="1.45"/></g><text x="387.7" y="487.9" font-size="6" fill="#5a5a5a" text-anchor="end" stroke="#5a5a5a" stroke-width="0.15">0</text><line x1="389.2" y1="485.8" x2="390.2" y2="485.8" stroke="#ccc" stroke-width="0.6"/><text x="387.7" y="478.3" font-size="6" fill="#5a5a5a" text-anchor="end" stroke="#5a5a5a" stroke-width="0.15">10</text><line x1="389.2" y1="476.2" x2="390.2" y2="476.2" stroke="#ccc" stroke-width="0.6"/><text x="387.7" y="468.7" font-size="6" fill="#5a5a5a" text-anchor="end" stroke="#5a5a5a" stroke-width="0.15">20</text><line x1="389.2" y1="466.6" x2="390.2" y2="466.6" stroke="#ccc" stroke-width="0.6"/><text x="387.7" y="459.1" font-size="6" fill="#5a5a5a" text-anchor="end" stroke="#5a5a5a" stroke-width="0.15">30</text><line x1="389.2" y1="457" x2="390.2" y2="457" stroke="#ccc" stroke-width="0.6"/><text x="387.7" y="449.5" font-size="6" fill="#5a5a5a" text-anchor="end" stroke="#5a5a5a" stroke-width="0.15">40</text><line x1="389.2" y1="447.4" x2="390.2" y2="447.4" stroke="#ccc" stroke-width="0.6"/><text x="387.7" y="439.9" font-size="6" fill="#5a5a5a" text-anchor="end" stroke="#5a5a5a" stroke-width="0.15">50</text><line x1="389.2" y1="437.8" x2="390.2" y2="437.8" stroke="#ccc" stroke-width="0.6"/><text x="387.7" y="430.2" font-size="6" fill="#5a5a5a" text-anchor="end" stroke="#5a5a5a" stroke-width="0.15">60</text><line x1="389.2" y1="428.1" x2="390.2" y2="428.1" stroke="#ccc" stroke-width="0.6"/><text x="387.7" y="420.6" font-size="6" fill="#5a5a5a" text-anchor="end" stroke="#5a5a5a" stroke-width="0.15">70</text><line x1="389.2" y1="418.5" x2="390.2" y2="418.5" stroke="#ccc" stroke-width="0.6"/><text x="387.7" y="411" font-size="6" fill="#5a5a5a" text-anchor="end" stroke="#5a5a5a" stroke-width="0.15">80</text><line x1="389.2" y1="408.9" x2="390.2" y2="408.9" stroke="#ccc" stroke-width="0.6"/><text x="387.7" y="401.4" font-size="6" fill="#5a5a5a" text-anchor="end" stroke="#5a5a5a" stroke-width="0.15">90</text><line x1="389.2" y1="399.3" x2="390.2" y2="399.3" stroke="#ccc" stroke-width="0.6"/><text x="387.7" y="391.8" font-size="6" fill="#5a5a5a" text-anchor="end" stroke="#5a5a5a" stroke-width="0.15">100</text><line x1="389.2" y1="389.7" x2="390.2" y2="389.7" stroke="#ccc" stroke-width="0.6"/><text x="387.7" y="382.2" font-size="6" fill="#5a5a5a" text-anchor="end" stroke="#5a5a5a" stroke-width="0.15">110</text><line x1="389.2" y1="380.1" x2="390.2" y2="380.1" stroke="#ccc" stroke-width="0.6"/><text x="387.7" y="372.6" font-size="6" fill="#5a5a5a" text-anchor="end" stroke="#5a5a5a" stroke-width="0.15">120</text><line x1="389.2" y1="370.5" x2="390.2" y2="370.5" stroke="#ccc" stroke-width="0.6"/><text x="387.7" y="363" font-size="6" fill="#5a5a5a" text-anchor="end" stroke="#5a5a5a" stroke-width="0.15">130</text><line x1="389.2" y1="360.9" x2="390.2" y2="360.9" stroke="#ccc" stroke-width="0.6"/><text x="387.7" y="353.4" font-size="6" fill="#5a5a5a" text-anchor="end" stroke="#5a5a5a" stroke-width="0.15">140</text><line x1="389.2" y1="351.3" x2="390.2" y2="351.3" stroke="#ccc" stroke-width="0.6"/><text x="387.7" y="343.8" font-size="6" fill="#5a5a5a" text-anchor="end" stroke="#5a5a5a" stroke-width="0.15">150</text><line x1="389.2" y1="341.6" x2="390.2" y2="341.6" stroke="#ccc" stroke-width="0.6"/><text x="387.7" y="334.1" font-size="6" fill="#5a5a5a" text-anchor="end" stroke="#5a5a5a" stroke-width="0.15">160</text><line x1="389.2" y1="332" x2="390.2" y2="332" stroke="#ccc" stroke-width="0.6"/><text x="387.7" y="324.5" font-size="6" fill="#5a5a5a" text-anchor="end" stroke="#5a5a5a" stroke-width="0.15">170</text><line x1="389.2" y1="322.4" x2="390.2" y2="322.4" stroke="#ccc" stroke-width="0.6"/><text x="387.7" y="314.9" font-size="6" fill="#5a5a5a" text-anchor="end" stroke="#5a5a5a" stroke-width="0.15">180</text><line x1="389.2" y1="312.8" x2="390.2" y2="312.8" stroke="#ccc" stroke-width="0.6"/><text x="387.7" y="305.3" font-size="6" fill="#5a5a5a" text-anchor="end" stroke="#5a5a5a" stroke-width="0.15">190</text><line x1="389.2" y1="303.2" x2="390.2" y2="303.2" stroke="#ccc" stroke-width="0.6"/><text x="387.7" y="295.7" font-size="6" fill="#5a5a5a" text-anchor="end" stroke="#5a5a5a" stroke-width="0.15">200</text><line x1="389.2" y1="293.6" x2="390.2" y2="293.6" stroke="#ccc" stroke-width="0.6"/><text x="387.7" y="286.1" font-size="6" fill="#5a5a5a" text-anchor="end" stroke="#5a5a5a" stroke-width="0.15">210</text><line x1="389.2" y1="284" x2="390.2" y2="284" stroke="#ccc" stroke-width="0.6"/><text x="387.7" y="276.5" font-size="6" fill="#5a5a5a" text-anchor="end" stroke="#5a5a5a" stroke-width="0.15">220</text><line x1="389.2" y1="274.4" x2="390.2" y2="274.4" stroke="#ccc" stroke-width="0.6"/><text x="392.1" y="494.8" font-size="6.5" fill="#5a5a5a" text-anchor="middle" stroke="#5a5a5a" stroke-width="0.15">0</text><text x="421.2" y="494.8" font-size="6.5" fill="#5a5a5a" text-anchor="middle" stroke="#5a5a5a" stroke-width="0.15">50</text><text x="450.2" y="494.8" font-size="6.5" fill="#5a5a5a" text-anchor="middle" stroke="#5a5a5a" stroke-width="0.15">100</text><text x="479.2" y="494.8" font-size="6.5" fill="#5a5a5a" text-anchor="middle" stroke="#5a5a5a" stroke-width="0.15">150</text><text x="508.3" y="494.8" font-size="6.5" fill="#5a5a5a" text-anchor="middle" stroke="#5a5a5a" stroke-width="0.15">200</text><rect x="553.3" y="272" width="130.7" height="215.5" fill="#c1c1c1"/><line x1="553.3" y1="477.8" x2="684" y2="477.8" stroke="#cecece" stroke-width="0.8"/><line x1="553.3" y1="468.1" x2="684" y2="468.1" stroke="#cecece" stroke-width="0.8"/><line x1="553.3" y1="458.5" x2="684" y2="458.5" stroke="#cecece" stroke-width="0.8"/><line x1="553.3" y1="448.8" x2="684" y2="448.8" stroke="#cecece" stroke-width="0.8"/><line x1="553.3" y1="439.1" x2="684" y2="439.1" stroke="#cecece" stroke-width="0.8"/><line x1="553.3" y1="429.4" x2="684" y2="429.4" stroke="#cecece" stroke-width="0.8"/><line x1="553.3" y1="419.8" x2="684" y2="419.8" stroke="#cecece" stroke-width="0.8"/><line x1="553.3" y1="410.1" x2="684" y2="410.1" stroke="#cecece" stroke-width="0.8"/><line x1="553.3" y1="400.4" x2="684" y2="400.4" stroke="#cecece" stroke-width="0.8"/><line x1="553.3" y1="390.7" x2="684" y2="390.7" stroke="#cecece" stroke-width="0.8"/><line x1="553.3" y1="381.1" x2="684" y2="381.1" stroke="#cecece" stroke-width="0.8"/><line x1="553.3" y1="371.4" x2="684" y2="371.4" stroke="#cecece" stroke-width="0.8"/><line x1="553.3" y1="361.7" x2="684" y2="361.7" stroke="#cecece" stroke-width="0.8"/><line x1="553.3" y1="352" x2="684" y2="352" stroke="#cecece" stroke-width="0.8"/><line x1="553.3" y1="342.3" x2="684" y2="342.3" stroke="#cecece" stroke-width="0.8"/><line x1="553.3" y1="332.7" x2="684" y2="332.7" stroke="#cecece" stroke-width="0.8"/><line x1="553.3" y1="323" x2="684" y2="323" stroke="#cecece" stroke-width="0.8"/><line x1="553.3" y1="313.3" x2="684" y2="313.3" stroke="#cecece" stroke-width="0.8"/><line x1="553.3" y1="303.6" x2="684" y2="303.6" stroke="#cecece" stroke-width="0.8"/><line x1="553.3" y1="294" x2="684" y2="294" stroke="#cecece" stroke-width="0.8"/><line x1="553.3" y1="284.3" x2="684" y2="284.3" stroke="#cecece" stroke-width="0.8"/><line x1="553.3" y1="274.6" x2="684" y2="274.6" stroke="#cecece" stroke-width="0.8"/><line x1="583" y1="272" x2="583" y2="487.5" stroke="#cecece" stroke-width="0.8"/><line x1="612.1" y1="272" x2="612.1" y2="487.5" stroke="#cecece" stroke-width="0.8"/><line x1="641.3" y1="272" x2="641.3" y2="487.5" stroke="#cecece" stroke-width="0.8"/><line x1="670.5" y1="272" x2="670.5" y2="487.5" stroke="#cecece" stroke-width="0.8"/><line x1="553.8" y1="272" x2="553.8" y2="487.5" stroke="#a9a9a9" stroke-width="1"/><line x1="553.3" y1="487.1" x2="684" y2="487.1" stroke="#aaa" stroke-width="0.8"/><line x1="553.3" y1="272.5" x2="684" y2="272.5" stroke="#888" stroke-width="1"/><line x1="551.8" y1="489.5" x2="684" y2="489.5" stroke="#e6e6e6" stroke-width="0.8"/><line x1="551.8" y1="272" x2="551.8" y2="489.5" stroke="#e6e6e6" stroke-width="0.8"/><line x1="553.8" y1="487.5" x2="684" y2="272" stroke="#3a3a3a" stroke-width="1.1"/><g fill="#ff4b4b"><circle cx="677.4" cy="281.9" r="1.45"/><circle cx="676.7" cy="282.8" r="1.45"/><circle cx="676" cy="284" r="1.45"/><circle cx="675.2" cy="285.2" r="1.45"/><circle cx="674.6" cy="286.6" r="1.45"/><circle cx="673.6" cy="287.8" r="1.45"/><circle cx="672.4" cy="288.7" r="1.45"/><circle cx="671.6" cy="290.2" r="1.45"/><circle cx="673" cy="291.1" r="1.45"/><circle cx="671.2" cy="291.9" r="1.45"/><circle cx="673.4" cy="292.5" r="1.45"/><circle cx="667.1" cy="293.7" r="1.45"/><circle cx="668.3" cy="294.9" r="1.45"/><circle cx="665.1" cy="296.3" r="1.45"/><circle cx="669.5" cy="296.7" r="1.45"/><circle cx="670.7" cy="299.1" r="1.45"/><circle cx="667.5" cy="299.1" r="1.45"/><circle cx="665.9" cy="301.1" r="1.45"/><circle cx="664.1" cy="302.6" r="1.45"/><circle cx="663.2" cy="304.4" r="1.45"/><circle cx="664.7" cy="307.4" r="1.45"/><circle cx="659.7" cy="308" r="1.45"/><circle cx="661.8" cy="309.7" r="1.45"/><circle cx="658.6" cy="311.3" r="1.45"/><circle cx="660.6" cy="312.9" r="1.45"/><circle cx="632.9" cy="309.1" r="1.45"/><circle cx="644" cy="314.1" r="1.45"/><circle cx="654.6" cy="315.7" r="1.45"/><circle cx="653.5" cy="316.8" r="1.45"/><circle cx="652" cy="318.9" r="1.45"/><circle cx="656.4" cy="317.4" r="1.45"/><circle cx="659.4" cy="319.8" r="1.45"/><circle cx="657.3" cy="321.8" r="1.45"/><circle cx="626" cy="320.8" r="1.45"/><circle cx="646.9" cy="323.6" r="1.45"/><circle cx="649.9" cy="324.8" r="1.45"/><circle cx="652.9" cy="322.8" r="1.45"/><circle cx="642.8" cy="326.7" r="1.45"/><circle cx="656.4" cy="325.5" r="1.45"/><circle cx="658" cy="327.9" r="1.45"/><circle cx="646.1" cy="328.7" r="1.45"/><circle cx="648.7" cy="329.3" r="1.45"/><circle cx="621.6" cy="346.8" r="1.45"/><circle cx="619.8" cy="352.8" r="1.45"/><circle cx="623.6" cy="351.8" r="1.45"/><circle cx="629.1" cy="349.8" r="1.45"/><circle cx="626.9" cy="356.9" r="1.45"/><circle cx="625.1" cy="358.7" r="1.45"/><circle cx="620.8" cy="359.5" r="1.45"/><circle cx="653.2" cy="331.2" r="1.45"/><circle cx="645.2" cy="333.3" r="1.45"/><circle cx="650.6" cy="333.9" r="1.45"/><circle cx="651.8" cy="335.1" r="1.45"/><circle cx="647.3" cy="336.3" r="1.45"/><circle cx="634.6" cy="338" r="1.45"/><circle cx="639.3" cy="337.5" r="1.45"/><circle cx="637.5" cy="339.8" r="1.45"/><circle cx="638.5" cy="341" r="1.45"/><circle cx="636.9" cy="342.8" r="1.45"/><circle cx="640.5" cy="342.2" r="1.45"/><circle cx="641.7" cy="344" r="1.45"/><circle cx="640.9" cy="345.8" r="1.45"/><circle cx="634.2" cy="348.1" r="1.45"/><circle cx="635.4" cy="349.3" r="1.45"/><circle cx="629.8" cy="350.9" r="1.45"/><circle cx="635.8" cy="353.7" r="1.45"/><circle cx="630.4" cy="354.6" r="1.45"/><circle cx="631.6" cy="356.1" r="1.45"/><circle cx="632.2" cy="357.6" r="1.45"/><circle cx="624.5" cy="359.6" r="1.45"/><circle cx="620.7" cy="360.3" r="1.45"/><circle cx="623.9" cy="361.5" r="1.45"/><circle cx="616.2" cy="363.2" r="1.45"/><circle cx="616.8" cy="365.1" r="1.45"/><circle cx="617.1" cy="367.1" r="1.45"/><circle cx="655.1" cy="375" r="1.45"/><circle cx="644.4" cy="377.8" r="1.45"/><circle cx="648.8" cy="379" r="1.45"/><circle cx="650.3" cy="379.9" r="1.45"/><circle cx="643.2" cy="384.3" r="1.45"/><circle cx="612.3" cy="362.1" r="1.45"/><circle cx="610.8" cy="366.3" r="1.45"/><circle cx="563.3" cy="368.2" r="1.45"/><circle cx="598.2" cy="369.1" r="1.45"/><circle cx="605.4" cy="370.2" r="1.45"/><circle cx="604.4" cy="371.4" r="1.45"/><circle cx="591.3" cy="372.1" r="1.45"/><circle cx="609.5" cy="373" r="1.45"/><circle cx="602.5" cy="374.3" r="1.45"/><circle cx="601.2" cy="375.8" r="1.45"/><circle cx="592.6" cy="376.8" r="1.45"/><circle cx="594.1" cy="380.7" r="1.45"/><circle cx="596" cy="381.7" r="1.45"/><circle cx="595.4" cy="383.5" r="1.45"/><circle cx="586.7" cy="382.6" r="1.45"/><circle cx="579.3" cy="385.6" r="1.45"/><circle cx="571.6" cy="387.5" r="1.45"/><circle cx="575.7" cy="389.4" r="1.45"/><circle cx="572.5" cy="392.3" r="1.45"/><circle cx="576.1" cy="394.2" r="1.45"/><circle cx="569.1" cy="397.1" r="1.45"/><circle cx="563.9" cy="406" r="1.45"/><circle cx="562" cy="416.7" r="1.45"/><circle cx="618.2" cy="399.3" r="1.45"/><circle cx="615.4" cy="402.1" r="1.45"/><circle cx="614.1" cy="404.7" r="1.45"/><circle cx="611.3" cy="406.7" r="1.45"/><circle cx="610.3" cy="408.5" r="1.45"/><circle cx="609.2" cy="410.2" r="1.45"/><circle cx="608" cy="411.5" r="1.45"/><circle cx="606.7" cy="413.1" r="1.45"/><circle cx="605.8" cy="414.4" r="1.45"/><circle cx="607.1" cy="414.7" r="1.45"/><circle cx="608.3" cy="415.7" r="1.45"/><circle cx="613.5" cy="410.8" r="1.45"/><circle cx="614.8" cy="417.5" r="1.45"/><circle cx="619.5" cy="418.5" r="1.45"/><circle cx="600.6" cy="419.2" r="1.45"/><circle cx="604.5" cy="420.8" r="1.45"/><circle cx="603.2" cy="421.7" r="1.45"/><circle cx="601.9" cy="425.2" r="1.45"/><circle cx="607.7" cy="428.3" r="1.45"/><circle cx="603.6" cy="434" r="1.45"/><circle cx="620.8" cy="398" r="1.45"/><circle cx="622.5" cy="401.2" r="1.45"/><circle cx="619" cy="403.1" r="1.45"/><circle cx="628" cy="404" r="1.45"/><circle cx="627" cy="408" r="1.45"/><circle cx="639.8" cy="386.7" r="1.45"/><circle cx="633.7" cy="388.5" r="1.45"/><circle cx="630.8" cy="390.3" r="1.45"/><circle cx="628.9" cy="391.8" r="1.45"/><circle cx="636.4" cy="393.4" r="1.45"/><circle cx="625.7" cy="395.4" r="1.45"/><circle cx="622.9" cy="396.4" r="1.45"/><circle cx="560.2" cy="422.1" r="1.45"/><circle cx="559.2" cy="424.4" r="1.45"/><circle cx="561" cy="429.4" r="1.45"/><circle cx="558.5" cy="434.9" r="1.45"/><circle cx="554.4" cy="435.9" r="1.45"/><circle cx="555.1" cy="442.8" r="1.45"/><circle cx="557.1" cy="449.7" r="1.45"/><circle cx="559.2" cy="451.5" r="1.45"/><circle cx="554.1" cy="461.2" r="1.45"/><circle cx="557.8" cy="467.7" r="1.45"/><circle cx="555.8" cy="469.8" r="1.45"/><circle cx="555.1" cy="475" r="1.45"/><circle cx="556.5" cy="476" r="1.45"/><circle cx="597" cy="422.8" r="1.45"/><circle cx="599.3" cy="426.6" r="1.45"/><circle cx="585.5" cy="430" r="1.45"/><circle cx="590.6" cy="431.1" r="1.45"/><circle cx="593.8" cy="432.4" r="1.45"/><circle cx="595.2" cy="433.4" r="1.45"/><circle cx="588.3" cy="436.9" r="1.45"/><circle cx="590.1" cy="438" r="1.45"/><circle cx="583.7" cy="439.1" r="1.45"/><circle cx="597.3" cy="440.1" r="1.45"/><circle cx="598" cy="441" r="1.45"/><circle cx="586.2" cy="441.9" r="1.45"/><circle cx="581.4" cy="443.8" r="1.45"/><circle cx="587.3" cy="444.6" r="1.45"/><circle cx="592" cy="445.6" r="1.45"/><circle cx="580.4" cy="447" r="1.45"/><circle cx="581.4" cy="448.8" r="1.45"/><circle cx="584.5" cy="447.7" r="1.45"/><circle cx="582" cy="452.5" r="1.45"/><circle cx="585.1" cy="453.5" r="1.45"/><circle cx="593.1" cy="454.3" r="1.45"/><circle cx="577.5" cy="455.3" r="1.45"/><circle cx="583.2" cy="456.2" r="1.45"/><circle cx="582.7" cy="458.5" r="1.45"/><circle cx="587.9" cy="457.3" r="1.45"/><circle cx="600.7" cy="459.1" r="1.45"/><circle cx="577.9" cy="460.1" r="1.45"/><circle cx="578.6" cy="462.2" r="1.45"/><circle cx="571" cy="462.9" r="1.45"/><circle cx="574.9" cy="464" r="1.45"/><circle cx="573.7" cy="465" r="1.45"/><circle cx="589" cy="465.9" r="1.45"/><circle cx="570.3" cy="467" r="1.45"/><circle cx="576.8" cy="468.7" r="1.45"/><circle cx="569.6" cy="470.9" r="1.45"/><circle cx="579.7" cy="471.9" r="1.45"/><circle cx="573.1" cy="472.6" r="1.45"/><circle cx="574.4" cy="473.7" r="1.45"/><circle cx="568.2" cy="476.7" r="1.45"/><circle cx="566.8" cy="478.1" r="1.45"/><circle cx="567.5" cy="480.2" r="1.45"/><circle cx="572.1" cy="479.5" r="1.45"/><circle cx="566.1" cy="482.2" r="1.45"/><circle cx="565.2" cy="483.9" r="1.45"/><circle cx="564.1" cy="485.7" r="1.45"/><circle cx="562" cy="486.4" r="1.45"/><circle cx="589.7" cy="483.3" r="1.45"/></g><text x="549" y="489.6" font-size="6" fill="#5a5a5a" text-anchor="end" stroke="#5a5a5a" stroke-width="0.15">0</text><line x1="550.5" y1="487.5" x2="551.5" y2="487.5" stroke="#ccc" stroke-width="0.6"/><text x="549" y="479.9" font-size="6" fill="#5a5a5a" text-anchor="end" stroke="#5a5a5a" stroke-width="0.15">10</text><line x1="550.5" y1="477.8" x2="551.5" y2="477.8" stroke="#ccc" stroke-width="0.6"/><text x="549" y="470.2" font-size="6" fill="#5a5a5a" text-anchor="end" stroke="#5a5a5a" stroke-width="0.15">20</text><line x1="550.5" y1="468.1" x2="551.5" y2="468.1" stroke="#ccc" stroke-width="0.6"/><text x="549" y="460.6" font-size="6" fill="#5a5a5a" text-anchor="end" stroke="#5a5a5a" stroke-width="0.15">30</text><line x1="550.5" y1="458.5" x2="551.5" y2="458.5" stroke="#ccc" stroke-width="0.6"/><text x="549" y="450.9" font-size="6" fill="#5a5a5a" text-anchor="end" stroke="#5a5a5a" stroke-width="0.15">40</text><line x1="550.5" y1="448.8" x2="551.5" y2="448.8" stroke="#ccc" stroke-width="0.6"/><text x="549" y="441.2" font-size="6" fill="#5a5a5a" text-anchor="end" stroke="#5a5a5a" stroke-width="0.15">50</text><line x1="550.5" y1="439.1" x2="551.5" y2="439.1" stroke="#ccc" stroke-width="0.6"/><text x="549" y="431.5" font-size="6" fill="#5a5a5a" text-anchor="end" stroke="#5a5a5a" stroke-width="0.15">60</text><line x1="550.5" y1="429.4" x2="551.5" y2="429.4" stroke="#ccc" stroke-width="0.6"/><text x="549" y="421.9" font-size="6" fill="#5a5a5a" text-anchor="end" stroke="#5a5a5a" stroke-width="0.15">70</text><line x1="550.5" y1="419.8" x2="551.5" y2="419.8" stroke="#ccc" stroke-width="0.6"/><text x="549" y="412.2" font-size="6" fill="#5a5a5a" text-anchor="end" stroke="#5a5a5a" stroke-width="0.15">80</text><line x1="550.5" y1="410.1" x2="551.5" y2="410.1" stroke="#ccc" stroke-width="0.6"/><text x="549" y="402.5" font-size="6" fill="#5a5a5a" text-anchor="end" stroke="#5a5a5a" stroke-width="0.15">90</text><line x1="550.5" y1="400.4" x2="551.5" y2="400.4" stroke="#ccc" stroke-width="0.6"/><text x="549" y="392.8" font-size="6" fill="#5a5a5a" text-anchor="end" stroke="#5a5a5a" stroke-width="0.15">100</text><line x1="550.5" y1="390.7" x2="551.5" y2="390.7" stroke="#ccc" stroke-width="0.6"/><text x="549" y="383.2" font-size="6" fill="#5a5a5a" text-anchor="end" stroke="#5a5a5a" stroke-width="0.15">110</text><line x1="550.5" y1="381.1" x2="551.5" y2="381.1" stroke="#ccc" stroke-width="0.6"/><text x="549" y="373.5" font-size="6" fill="#5a5a5a" text-anchor="end" stroke="#5a5a5a" stroke-width="0.15">120</text><line x1="550.5" y1="371.4" x2="551.5" y2="371.4" stroke="#ccc" stroke-width="0.6"/><text x="549" y="363.8" font-size="6" fill="#5a5a5a" text-anchor="end" stroke="#5a5a5a" stroke-width="0.15">130</text><line x1="550.5" y1="361.7" x2="551.5" y2="361.7" stroke="#ccc" stroke-width="0.6"/><text x="549" y="354.1" font-size="6" fill="#5a5a5a" text-anchor="end" stroke="#5a5a5a" stroke-width="0.15">140</text><line x1="550.5" y1="352" x2="551.5" y2="352" stroke="#ccc" stroke-width="0.6"/><text x="549" y="344.4" font-size="6" fill="#5a5a5a" text-anchor="end" stroke="#5a5a5a" stroke-width="0.15">150</text><line x1="550.5" y1="342.3" x2="551.5" y2="342.3" stroke="#ccc" stroke-width="0.6"/><text x="549" y="334.8" font-size="6" fill="#5a5a5a" text-anchor="end" stroke="#5a5a5a" stroke-width="0.15">160</text><line x1="550.5" y1="332.7" x2="551.5" y2="332.7" stroke="#ccc" stroke-width="0.6"/><text x="549" y="325.1" font-size="6" fill="#5a5a5a" text-anchor="end" stroke="#5a5a5a" stroke-width="0.15">170</text><line x1="550.5" y1="323" x2="551.5" y2="323" stroke="#ccc" stroke-width="0.6"/><text x="549" y="315.4" font-size="6" fill="#5a5a5a" text-anchor="end" stroke="#5a5a5a" stroke-width="0.15">180</text><line x1="550.5" y1="313.3" x2="551.5" y2="313.3" stroke="#ccc" stroke-width="0.6"/><text x="549" y="305.7" font-size="6" fill="#5a5a5a" text-anchor="end" stroke="#5a5a5a" stroke-width="0.15">190</text><line x1="550.5" y1="303.6" x2="551.5" y2="303.6" stroke="#ccc" stroke-width="0.6"/><text x="549" y="296.1" font-size="6" fill="#5a5a5a" text-anchor="end" stroke="#5a5a5a" stroke-width="0.15">200</text><line x1="550.5" y1="294" x2="551.5" y2="294" stroke="#ccc" stroke-width="0.6"/><text x="549" y="286.4" font-size="6" fill="#5a5a5a" text-anchor="end" stroke="#5a5a5a" stroke-width="0.15">210</text><line x1="550.5" y1="284.3" x2="551.5" y2="284.3" stroke="#ccc" stroke-width="0.6"/><text x="549" y="276.7" font-size="6" fill="#5a5a5a" text-anchor="end" stroke="#5a5a5a" stroke-width="0.15">220</text><line x1="550.5" y1="274.6" x2="551.5" y2="274.6" stroke="#ccc" stroke-width="0.6"/><text x="553.8" y="496.5" font-size="6.5" fill="#5a5a5a" text-anchor="middle" stroke="#5a5a5a" stroke-width="0.15">0</text><text x="583" y="496.5" font-size="6.5" fill="#5a5a5a" text-anchor="middle" stroke="#5a5a5a" stroke-width="0.15">50</text><text x="612.1" y="496.5" font-size="6.5" fill="#5a5a5a" text-anchor="middle" stroke="#5a5a5a" stroke-width="0.15">100</text><text x="641.3" y="496.5" font-size="6.5" fill="#5a5a5a" text-anchor="middle" stroke="#5a5a5a" stroke-width="0.15">150</text><text x="670.5" y="496.5" font-size="6.5" fill="#5a5a5a" text-anchor="middle" stroke="#5a5a5a" stroke-width="0.15">200</text><text x="451" y="503" font-size="6.5" fill="#333" textLength="10.5" lengthAdjust="spacingAndGlyphs" font-weight="bold">Aco</text><text x="613" y="504.5" font-size="6.5" fill="#333" textLength="11" lengthAdjust="spacingAndGlyphs" font-weight="bold">Uco</text><text x="375.6" y="383.8" font-size="6.5" fill="#333" textLength="9.2" lengthAdjust="spacingAndGlyphs" transform="rotate(-90 375.6 383.8)" font-weight="bold">Asi</text><text x="537.2" y="384.1" font-size="6.5" fill="#333" textLength="9" lengthAdjust="spacingAndGlyphs" transform="rotate(-90 537.2 384.1)" font-weight="bold">Uni</text></g></svg></body></html>
